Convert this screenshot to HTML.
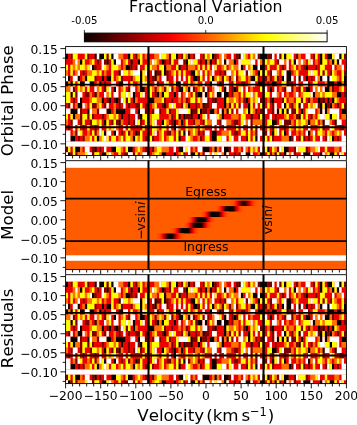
<!DOCTYPE html><html><head><meta charset="utf-8"><title>Doppler tomography</title><style>
html,body{margin:0;padding:0;background:#fff;overflow:hidden;}svg{display:block;}
text{font-family:'DejaVu Sans', 'Liberation Sans', sans-serif;fill:#000;font-kerning:none;}
</style></head><body>
<svg width="357" height="425" viewBox="0 0 357 425">
<rect width="357" height="425" fill="#fff"/>
<defs>
<linearGradient id="hotg" x1="0" x2="1" y1="0" y2="0">
<stop offset="0.000" stop-color="#0b0000"/>
<stop offset="0.025" stop-color="#1a0000"/>
<stop offset="0.050" stop-color="#2a0000"/>
<stop offset="0.075" stop-color="#3c0000"/>
<stop offset="0.100" stop-color="#4c0000"/>
<stop offset="0.125" stop-color="#5f0000"/>
<stop offset="0.150" stop-color="#6e0000"/>
<stop offset="0.175" stop-color="#7e0000"/>
<stop offset="0.200" stop-color="#900000"/>
<stop offset="0.225" stop-color="#a00000"/>
<stop offset="0.250" stop-color="#b30000"/>
<stop offset="0.275" stop-color="#c20000"/>
<stop offset="0.300" stop-color="#d20000"/>
<stop offset="0.325" stop-color="#e40000"/>
<stop offset="0.350" stop-color="#f40000"/>
<stop offset="0.375" stop-color="#ff0800"/>
<stop offset="0.400" stop-color="#ff1700"/>
<stop offset="0.425" stop-color="#ff2700"/>
<stop offset="0.450" stop-color="#ff3a00"/>
<stop offset="0.475" stop-color="#ff4900"/>
<stop offset="0.500" stop-color="#ff5c00"/>
<stop offset="0.525" stop-color="#ff6b00"/>
<stop offset="0.550" stop-color="#ff7b00"/>
<stop offset="0.575" stop-color="#ff8e00"/>
<stop offset="0.600" stop-color="#ff9d00"/>
<stop offset="0.625" stop-color="#ffb000"/>
<stop offset="0.650" stop-color="#ffbf00"/>
<stop offset="0.675" stop-color="#ffcf00"/>
<stop offset="0.700" stop-color="#ffe100"/>
<stop offset="0.725" stop-color="#fff100"/>
<stop offset="0.750" stop-color="#ffff07"/>
<stop offset="0.775" stop-color="#ffff1f"/>
<stop offset="0.800" stop-color="#ffff36"/>
<stop offset="0.825" stop-color="#ffff52"/>
<stop offset="0.850" stop-color="#ffff69"/>
<stop offset="0.875" stop-color="#ffff85"/>
<stop offset="0.900" stop-color="#ffff9d"/>
<stop offset="0.925" stop-color="#ffffb4"/>
<stop offset="0.950" stop-color="#ffffd0"/>
<stop offset="0.975" stop-color="#ffffe7"/>
<stop offset="1.000" stop-color="#ffffff"/>
</linearGradient>
<clipPath id="clip0"><rect x="65.60" y="46.60" width="280.80" height="108.90"/></clipPath>
<clipPath id="clip1"><rect x="65.60" y="160.70" width="280.80" height="108.90"/></clipPath>
<clipPath id="clip2"><rect x="65.60" y="274.70" width="280.80" height="108.90"/></clipPath>
</defs>
<text x="205.8" y="11.9" font-size="15.7" text-anchor="middle">Fractional Variation</text>
<rect x="84.40" y="33.10" width="242.70" height="8.70" fill="url(#hotg)" stroke="#000" stroke-width="1.0"/>
<line x1="84.40" x2="84.40" y1="29.9" y2="33.10" stroke="#000" stroke-width="0.8"/>
<text x="84.40" y="24.1" font-size="10.2" text-anchor="middle">-0.05</text>
<line x1="205.75" x2="205.75" y1="29.9" y2="33.10" stroke="#000" stroke-width="0.8"/>
<text x="205.75" y="24.1" font-size="10.2" text-anchor="middle">0.0</text>
<line x1="327.10" x2="327.10" y1="29.9" y2="33.10" stroke="#000" stroke-width="0.8"/>
<text x="327.10" y="24.1" font-size="10.2" text-anchor="middle">0.05</text>
<g clip-path="url(#clip0)"><g>
<rect x="65.60" y="53.80" width="280.80" height="87.52" fill="#ff3a00"/>
<rect x="65.60" y="146.79" width="280.80" height="10.94" fill="#ff3a00"/>
<path fill="#0b0000" d="M65.60 53.80h2.40v5.47h-2.40zM94.40 53.80h2.40v5.47h-2.40zM99.20 53.80h2.40v5.47h-2.40zM101.60 53.80h2.40v5.47h-2.40zM111.20 53.80h2.40v5.47h-2.40zM128.00 53.80h2.40v5.47h-2.40zM147.20 53.80h2.40v5.47h-2.40zM176.00 53.80h2.40v5.47h-2.40zM188.00 53.80h2.40v5.47h-2.40zM212.00 53.80h2.40v5.47h-2.40zM238.40 53.80h2.40v5.47h-2.40zM260.00 53.80h2.40v5.47h-2.40zM262.40 53.80h2.40v5.47h-2.40zM264.80 53.80h2.40v5.47h-2.40zM284.00 53.80h2.40v5.47h-2.40zM320.00 53.80h2.40v5.47h-2.40zM327.20 53.80h2.40v5.47h-2.40zM329.60 53.80h2.40v5.47h-2.40zM339.20 53.80h2.40v5.47h-2.40zM80.00 59.27h2.40v5.47h-2.40zM106.40 59.27h2.40v5.47h-2.40zM113.60 59.27h2.40v5.47h-2.40zM130.40 59.27h2.40v5.47h-2.40zM137.60 59.27h2.40v5.47h-2.40zM147.20 59.27h2.40v5.47h-2.40zM161.60 59.27h2.40v5.47h-2.40zM185.60 59.27h2.40v5.47h-2.40zM204.80 59.27h2.40v5.47h-2.40zM209.60 59.27h2.40v5.47h-2.40zM224.00 59.27h2.40v5.47h-2.40zM233.60 59.27h2.40v5.47h-2.40zM262.40 59.27h2.40v5.47h-2.40zM293.60 59.27h2.40v5.47h-2.40zM320.00 59.27h2.40v5.47h-2.40zM332.00 59.27h2.40v5.47h-2.40zM336.80 59.27h2.40v5.47h-2.40zM92.00 64.74h2.40v5.47h-2.40zM125.60 64.74h2.40v5.47h-2.40zM128.00 64.74h2.40v5.47h-2.40zM147.20 64.74h2.40v5.47h-2.40zM164.00 64.74h2.40v5.47h-2.40zM178.40 64.74h2.40v5.47h-2.40zM240.80 64.74h2.40v5.47h-2.40zM252.80 64.74h2.40v5.47h-2.40zM255.20 64.74h2.40v5.47h-2.40zM260.00 64.74h2.40v5.47h-2.40zM262.40 64.74h2.40v5.47h-2.40zM305.60 64.74h2.40v5.47h-2.40zM118.40 70.21h2.40v5.47h-2.40zM140.00 70.21h2.40v5.47h-2.40zM147.20 70.21h2.40v5.47h-2.40zM154.40 70.21h2.40v5.47h-2.40zM164.00 70.21h2.40v5.47h-2.40zM190.40 70.21h2.40v5.47h-2.40zM192.80 70.21h2.40v5.47h-2.40zM257.60 70.21h2.40v5.47h-2.40zM262.40 70.21h2.40v5.47h-2.40zM286.40 70.21h2.40v5.47h-2.40zM288.80 70.21h2.40v5.47h-2.40zM68.00 75.68h2.40v5.47h-2.40zM77.60 75.68h2.40v5.47h-2.40zM84.80 75.68h2.40v5.47h-2.40zM101.60 75.68h2.40v5.47h-2.40zM106.40 75.68h2.40v5.47h-2.40zM108.80 75.68h2.40v5.47h-2.40zM140.00 75.68h2.40v5.47h-2.40zM147.20 75.68h2.40v5.47h-2.40zM154.40 75.68h2.40v5.47h-2.40zM192.80 75.68h2.40v5.47h-2.40zM195.20 75.68h2.40v5.47h-2.40zM212.00 75.68h2.40v5.47h-2.40zM250.40 75.68h2.40v5.47h-2.40zM252.80 75.68h2.40v5.47h-2.40zM262.40 75.68h2.40v5.47h-2.40zM281.60 75.68h2.40v5.47h-2.40zM286.40 75.68h2.40v5.47h-2.40zM288.80 75.68h2.40v5.47h-2.40zM298.40 75.68h2.40v5.47h-2.40zM305.60 75.68h2.40v5.47h-2.40zM320.00 75.68h2.40v5.47h-2.40zM327.20 75.68h2.40v5.47h-2.40zM344.00 75.68h2.40v5.47h-2.40zM65.60 81.15h2.40v5.47h-2.40zM70.40 81.15h2.40v5.47h-2.40zM80.00 81.15h2.40v5.47h-2.40zM82.40 81.15h2.40v5.47h-2.40zM89.60 81.15h2.40v5.47h-2.40zM92.00 81.15h2.40v5.47h-2.40zM99.20 81.15h2.40v5.47h-2.40zM118.40 81.15h2.40v5.47h-2.40zM120.80 81.15h2.40v5.47h-2.40zM140.00 81.15h2.40v5.47h-2.40zM147.20 81.15h2.40v5.47h-2.40zM176.00 81.15h2.40v5.47h-2.40zM178.40 81.15h2.40v5.47h-2.40zM209.60 81.15h2.40v5.47h-2.40zM219.20 81.15h2.40v5.47h-2.40zM257.60 81.15h2.40v5.47h-2.40zM260.00 81.15h2.40v5.47h-2.40zM262.40 81.15h2.40v5.47h-2.40zM272.00 81.15h2.40v5.47h-2.40zM274.40 81.15h2.40v5.47h-2.40zM286.40 81.15h2.40v5.47h-2.40zM327.20 81.15h2.40v5.47h-2.40zM329.60 81.15h2.40v5.47h-2.40zM332.00 81.15h2.40v5.47h-2.40zM336.80 81.15h2.40v5.47h-2.40zM339.20 81.15h2.40v5.47h-2.40zM344.00 81.15h2.40v5.47h-2.40zM113.60 86.62h2.40v5.47h-2.40zM140.00 86.62h2.40v5.47h-2.40zM142.40 86.62h2.40v5.47h-2.40zM147.20 86.62h2.40v5.47h-2.40zM178.40 86.62h2.40v5.47h-2.40zM180.80 86.62h2.40v5.47h-2.40zM188.00 86.62h2.40v5.47h-2.40zM224.00 86.62h2.40v5.47h-2.40zM233.60 86.62h2.40v5.47h-2.40zM262.40 86.62h2.40v5.47h-2.40zM269.60 86.62h2.40v5.47h-2.40zM305.60 86.62h2.40v5.47h-2.40zM308.00 86.62h2.40v5.47h-2.40zM324.80 86.62h2.40v5.47h-2.40zM327.20 86.62h2.40v5.47h-2.40zM70.40 92.09h2.40v5.47h-2.40zM94.40 92.09h2.40v5.47h-2.40zM132.80 92.09h2.40v5.47h-2.40zM147.20 92.09h2.40v5.47h-2.40zM156.80 92.09h2.40v5.47h-2.40zM161.60 92.09h2.40v5.47h-2.40zM173.60 92.09h2.40v5.47h-2.40zM197.60 92.09h2.40v5.47h-2.40zM200.00 92.09h2.40v5.47h-2.40zM204.80 92.09h2.40v5.47h-2.40zM216.80 92.09h2.40v5.47h-2.40zM219.20 92.09h2.40v5.47h-2.40zM224.00 92.09h2.40v5.47h-2.40zM226.40 92.09h2.40v5.47h-2.40zM262.40 92.09h2.40v5.47h-2.40zM312.80 92.09h2.40v5.47h-2.40zM336.80 92.09h2.40v5.47h-2.40zM339.20 92.09h2.40v5.47h-2.40zM80.00 97.56h2.40v5.47h-2.40zM101.60 97.56h2.40v5.47h-2.40zM108.80 97.56h2.40v5.47h-2.40zM116.00 97.56h2.40v5.47h-2.40zM132.80 97.56h2.40v5.47h-2.40zM147.20 97.56h2.40v5.47h-2.40zM149.60 97.56h2.40v5.47h-2.40zM152.00 97.56h2.40v5.47h-2.40zM214.40 97.56h2.40v5.47h-2.40zM224.00 97.56h2.40v5.47h-2.40zM245.60 97.56h2.40v5.47h-2.40zM262.40 97.56h2.40v5.47h-2.40zM272.00 97.56h2.40v5.47h-2.40zM317.60 97.56h2.40v5.47h-2.40zM322.40 97.56h2.40v5.47h-2.40zM327.20 97.56h2.40v5.47h-2.40zM332.00 97.56h2.40v5.47h-2.40zM77.60 103.03h2.40v5.47h-2.40zM80.00 103.03h2.40v5.47h-2.40zM147.20 103.03h2.40v5.47h-2.40zM164.00 103.03h2.40v5.47h-2.40zM188.00 103.03h2.40v5.47h-2.40zM202.40 103.03h2.40v5.47h-2.40zM224.00 103.03h2.40v5.47h-2.40zM248.00 103.03h2.40v5.47h-2.40zM262.40 103.03h2.40v5.47h-2.40zM284.00 103.03h2.40v5.47h-2.40zM298.40 103.03h2.40v5.47h-2.40zM320.00 103.03h2.40v5.47h-2.40zM324.80 103.03h2.40v5.47h-2.40zM329.60 103.03h2.40v5.47h-2.40zM70.40 108.50h2.40v5.47h-2.40zM72.80 108.50h2.40v5.47h-2.40zM75.20 108.50h2.40v5.47h-2.40zM87.20 108.50h2.40v5.47h-2.40zM106.40 108.50h2.40v5.47h-2.40zM108.80 108.50h2.40v5.47h-2.40zM116.00 108.50h2.40v5.47h-2.40zM118.40 108.50h2.40v5.47h-2.40zM120.80 108.50h2.40v5.47h-2.40zM123.20 108.50h2.40v5.47h-2.40zM137.60 108.50h2.40v5.47h-2.40zM147.20 108.50h2.40v5.47h-2.40zM190.40 108.50h2.40v5.47h-2.40zM200.00 108.50h2.40v5.47h-2.40zM209.60 108.50h2.40v5.47h-2.40zM212.00 108.50h2.40v5.47h-2.40zM221.60 108.50h2.40v5.47h-2.40zM226.40 108.50h2.40v5.47h-2.40zM248.00 108.50h2.40v5.47h-2.40zM262.40 108.50h2.40v5.47h-2.40zM276.80 108.50h2.40v5.47h-2.40zM281.60 108.50h2.40v5.47h-2.40zM286.40 108.50h2.40v5.47h-2.40zM300.80 108.50h2.40v5.47h-2.40zM320.00 108.50h2.40v5.47h-2.40zM324.80 108.50h2.40v5.47h-2.40zM341.60 108.50h2.40v5.47h-2.40zM344.00 108.50h2.40v5.47h-2.40zM72.80 113.97h2.40v5.47h-2.40zM120.80 113.97h2.40v5.47h-2.40zM140.00 113.97h2.40v5.47h-2.40zM147.20 113.97h2.40v5.47h-2.40zM178.40 113.97h2.40v5.47h-2.40zM183.20 113.97h2.40v5.47h-2.40zM190.40 113.97h2.40v5.47h-2.40zM197.60 113.97h2.40v5.47h-2.40zM221.60 113.97h2.40v5.47h-2.40zM250.40 113.97h2.40v5.47h-2.40zM262.40 113.97h2.40v5.47h-2.40zM298.40 113.97h2.40v5.47h-2.40zM329.60 113.97h2.40v5.47h-2.40zM104.00 119.44h2.40v5.47h-2.40zM118.40 119.44h2.40v5.47h-2.40zM147.20 119.44h2.40v5.47h-2.40zM161.60 119.44h2.40v5.47h-2.40zM173.60 119.44h2.40v5.47h-2.40zM180.80 119.44h2.40v5.47h-2.40zM262.40 119.44h2.40v5.47h-2.40zM272.00 119.44h2.40v5.47h-2.40zM274.40 119.44h2.40v5.47h-2.40zM308.00 119.44h2.40v5.47h-2.40zM322.40 119.44h2.40v5.47h-2.40zM334.40 119.44h2.40v5.47h-2.40zM147.20 124.91h2.40v5.47h-2.40zM173.60 124.91h2.40v5.47h-2.40zM262.40 124.91h2.40v5.47h-2.40zM104.00 130.38h2.40v5.47h-2.40zM113.60 130.38h2.40v5.47h-2.40zM135.20 130.38h2.40v5.47h-2.40zM147.20 130.38h2.40v5.47h-2.40zM183.20 130.38h2.40v5.47h-2.40zM212.00 130.38h2.40v5.47h-2.40zM214.40 130.38h2.40v5.47h-2.40zM262.40 130.38h2.40v5.47h-2.40zM272.00 130.38h2.40v5.47h-2.40zM284.00 130.38h2.40v5.47h-2.40zM308.00 130.38h2.40v5.47h-2.40zM70.40 135.85h2.40v5.47h-2.40zM72.80 135.85h2.40v5.47h-2.40zM96.80 135.85h2.40v5.47h-2.40zM132.80 135.85h2.40v5.47h-2.40zM147.20 135.85h2.40v5.47h-2.40zM178.40 135.85h2.40v5.47h-2.40zM212.00 135.85h2.40v5.47h-2.40zM214.40 135.85h2.40v5.47h-2.40zM255.20 135.85h2.40v5.47h-2.40zM262.40 135.85h2.40v5.47h-2.40zM288.80 135.85h2.40v5.47h-2.40zM332.00 135.85h2.40v5.47h-2.40zM75.20 146.79h2.40v5.47h-2.40zM77.60 146.79h2.40v5.47h-2.40zM94.40 146.79h2.40v5.47h-2.40zM111.20 146.79h2.40v5.47h-2.40zM113.60 146.79h2.40v5.47h-2.40zM128.00 146.79h2.40v5.47h-2.40zM130.40 146.79h2.40v5.47h-2.40zM147.20 146.79h2.40v5.47h-2.40zM178.40 146.79h2.40v5.47h-2.40zM180.80 146.79h2.40v5.47h-2.40zM202.40 146.79h2.40v5.47h-2.40zM204.80 146.79h2.40v5.47h-2.40zM207.20 146.79h2.40v5.47h-2.40zM214.40 146.79h2.40v5.47h-2.40zM224.00 146.79h2.40v5.47h-2.40zM226.40 146.79h2.40v5.47h-2.40zM262.40 146.79h2.40v5.47h-2.40zM267.20 146.79h2.40v5.47h-2.40zM284.00 146.79h2.40v5.47h-2.40zM286.40 146.79h2.40v5.47h-2.40zM68.00 152.26h2.40v5.47h-2.40zM101.60 152.26h2.40v5.47h-2.40zM104.00 152.26h2.40v5.47h-2.40zM147.20 152.26h2.40v5.47h-2.40zM161.60 152.26h2.40v5.47h-2.40zM164.00 152.26h2.40v5.47h-2.40zM173.60 152.26h2.40v5.47h-2.40zM190.40 152.26h2.40v5.47h-2.40zM192.80 152.26h2.40v5.47h-2.40zM224.00 152.26h2.40v5.47h-2.40zM245.60 152.26h2.40v5.47h-2.40zM248.00 152.26h2.40v5.47h-2.40zM260.00 152.26h2.40v5.47h-2.40zM262.40 152.26h2.40v5.47h-2.40zM274.40 152.26h2.40v5.47h-2.40zM284.00 152.26h2.40v5.47h-2.40zM303.20 152.26h2.40v5.47h-2.40zM305.60 152.26h2.40v5.47h-2.40zM308.00 152.26h2.40v5.47h-2.40zM320.00 152.26h2.40v5.47h-2.40zM329.60 152.26h2.40v5.47h-2.40zM332.00 152.26h2.40v5.47h-2.40z"/>
<path fill="#7b0000" d="M70.40 53.80h2.40v5.47h-2.40zM87.20 53.80h2.40v5.47h-2.40zM106.40 53.80h2.40v5.47h-2.40zM135.20 53.80h2.40v5.47h-2.40zM168.80 53.80h2.40v5.47h-2.40zM180.80 53.80h2.40v5.47h-2.40zM192.80 53.80h2.40v5.47h-2.40zM202.40 53.80h2.40v5.47h-2.40zM214.40 53.80h2.40v5.47h-2.40zM236.00 53.80h2.40v5.47h-2.40zM257.60 53.80h2.40v5.47h-2.40zM267.20 53.80h2.40v5.47h-2.40zM269.60 53.80h2.40v5.47h-2.40zM279.20 53.80h2.40v5.47h-2.40zM296.00 53.80h2.40v5.47h-2.40zM312.80 53.80h2.40v5.47h-2.40zM344.00 53.80h2.40v5.47h-2.40zM96.80 59.27h2.40v5.47h-2.40zM104.00 59.27h2.40v5.47h-2.40zM164.00 59.27h2.40v5.47h-2.40zM168.80 59.27h2.40v5.47h-2.40zM183.20 59.27h2.40v5.47h-2.40zM200.00 59.27h2.40v5.47h-2.40zM214.40 59.27h2.40v5.47h-2.40zM276.80 59.27h2.40v5.47h-2.40zM94.40 64.74h2.40v5.47h-2.40zM130.40 64.74h2.40v5.47h-2.40zM135.20 64.74h2.40v5.47h-2.40zM185.60 64.74h2.40v5.47h-2.40zM281.60 64.74h2.40v5.47h-2.40zM303.20 64.74h2.40v5.47h-2.40zM315.20 64.74h2.40v5.47h-2.40zM82.40 70.21h2.40v5.47h-2.40zM156.80 70.21h2.40v5.47h-2.40zM159.20 70.21h2.40v5.47h-2.40zM166.40 70.21h2.40v5.47h-2.40zM219.20 70.21h2.40v5.47h-2.40zM224.00 70.21h2.40v5.47h-2.40zM245.60 70.21h2.40v5.47h-2.40zM269.60 70.21h2.40v5.47h-2.40zM322.40 70.21h2.40v5.47h-2.40zM329.60 70.21h2.40v5.47h-2.40zM344.00 70.21h2.40v5.47h-2.40zM94.40 75.68h2.40v5.47h-2.40zM120.80 75.68h2.40v5.47h-2.40zM130.40 75.68h2.40v5.47h-2.40zM152.00 75.68h2.40v5.47h-2.40zM166.40 75.68h2.40v5.47h-2.40zM197.60 75.68h2.40v5.47h-2.40zM221.60 75.68h2.40v5.47h-2.40zM228.80 75.68h2.40v5.47h-2.40zM236.00 75.68h2.40v5.47h-2.40zM257.60 75.68h2.40v5.47h-2.40zM264.80 75.68h2.40v5.47h-2.40zM269.60 75.68h2.40v5.47h-2.40zM276.80 75.68h2.40v5.47h-2.40zM310.40 75.68h2.40v5.47h-2.40zM104.00 81.15h2.40v5.47h-2.40zM156.80 81.15h2.40v5.47h-2.40zM221.60 81.15h2.40v5.47h-2.40zM231.20 81.15h2.40v5.47h-2.40zM240.80 81.15h2.40v5.47h-2.40zM243.20 81.15h2.40v5.47h-2.40zM267.20 81.15h2.40v5.47h-2.40zM288.80 81.15h2.40v5.47h-2.40zM291.20 81.15h2.40v5.47h-2.40zM308.00 81.15h2.40v5.47h-2.40zM72.80 86.62h2.40v5.47h-2.40zM104.00 86.62h2.40v5.47h-2.40zM128.00 86.62h2.40v5.47h-2.40zM154.40 86.62h2.40v5.47h-2.40zM164.00 86.62h2.40v5.47h-2.40zM171.20 86.62h2.40v5.47h-2.40zM192.80 86.62h2.40v5.47h-2.40zM202.40 86.62h2.40v5.47h-2.40zM207.20 86.62h2.40v5.47h-2.40zM231.20 86.62h2.40v5.47h-2.40zM236.00 86.62h2.40v5.47h-2.40zM284.00 86.62h2.40v5.47h-2.40zM291.20 86.62h2.40v5.47h-2.40zM298.40 86.62h2.40v5.47h-2.40zM332.00 86.62h2.40v5.47h-2.40zM75.20 92.09h2.40v5.47h-2.40zM84.80 92.09h2.40v5.47h-2.40zM87.20 92.09h2.40v5.47h-2.40zM154.40 92.09h2.40v5.47h-2.40zM195.20 92.09h2.40v5.47h-2.40zM231.20 92.09h2.40v5.47h-2.40zM344.00 92.09h2.40v5.47h-2.40zM72.80 97.56h2.40v5.47h-2.40zM106.40 97.56h2.40v5.47h-2.40zM113.60 97.56h2.40v5.47h-2.40zM118.40 97.56h2.40v5.47h-2.40zM125.60 97.56h2.40v5.47h-2.40zM164.00 97.56h2.40v5.47h-2.40zM171.20 97.56h2.40v5.47h-2.40zM185.60 97.56h2.40v5.47h-2.40zM207.20 97.56h2.40v5.47h-2.40zM212.00 97.56h2.40v5.47h-2.40zM243.20 97.56h2.40v5.47h-2.40zM260.00 97.56h2.40v5.47h-2.40zM269.60 97.56h2.40v5.47h-2.40zM281.60 97.56h2.40v5.47h-2.40zM300.80 97.56h2.40v5.47h-2.40zM308.00 97.56h2.40v5.47h-2.40zM320.00 97.56h2.40v5.47h-2.40zM68.00 103.03h2.40v5.47h-2.40zM92.00 103.03h2.40v5.47h-2.40zM94.40 103.03h2.40v5.47h-2.40zM104.00 103.03h2.40v5.47h-2.40zM118.40 103.03h2.40v5.47h-2.40zM128.00 103.03h2.40v5.47h-2.40zM135.20 103.03h2.40v5.47h-2.40zM137.60 103.03h2.40v5.47h-2.40zM144.80 103.03h2.40v5.47h-2.40zM161.60 103.03h2.40v5.47h-2.40zM180.80 103.03h2.40v5.47h-2.40zM195.20 103.03h2.40v5.47h-2.40zM204.80 103.03h2.40v5.47h-2.40zM207.20 103.03h2.40v5.47h-2.40zM228.80 103.03h2.40v5.47h-2.40zM238.40 103.03h2.40v5.47h-2.40zM272.00 103.03h2.40v5.47h-2.40zM291.20 103.03h2.40v5.47h-2.40zM317.60 103.03h2.40v5.47h-2.40zM327.20 103.03h2.40v5.47h-2.40zM336.80 103.03h2.40v5.47h-2.40zM344.00 103.03h2.40v5.47h-2.40zM80.00 108.50h2.40v5.47h-2.40zM96.80 108.50h2.40v5.47h-2.40zM144.80 108.50h2.40v5.47h-2.40zM152.00 108.50h2.40v5.47h-2.40zM159.20 108.50h2.40v5.47h-2.40zM168.80 108.50h2.40v5.47h-2.40zM192.80 108.50h2.40v5.47h-2.40zM195.20 108.50h2.40v5.47h-2.40zM202.40 108.50h2.40v5.47h-2.40zM204.80 108.50h2.40v5.47h-2.40zM231.20 108.50h2.40v5.47h-2.40zM255.20 108.50h2.40v5.47h-2.40zM260.00 108.50h2.40v5.47h-2.40zM272.00 108.50h2.40v5.47h-2.40zM291.20 108.50h2.40v5.47h-2.40zM293.60 108.50h2.40v5.47h-2.40zM80.00 113.97h2.40v5.47h-2.40zM87.20 113.97h2.40v5.47h-2.40zM92.00 113.97h2.40v5.47h-2.40zM101.60 113.97h2.40v5.47h-2.40zM128.00 113.97h2.40v5.47h-2.40zM137.60 113.97h2.40v5.47h-2.40zM171.20 113.97h2.40v5.47h-2.40zM185.60 113.97h2.40v5.47h-2.40zM188.00 113.97h2.40v5.47h-2.40zM257.60 113.97h2.40v5.47h-2.40zM274.40 113.97h2.40v5.47h-2.40zM296.00 113.97h2.40v5.47h-2.40zM310.40 113.97h2.40v5.47h-2.40zM70.40 119.44h2.40v5.47h-2.40zM80.00 119.44h2.40v5.47h-2.40zM89.60 119.44h2.40v5.47h-2.40zM111.20 119.44h2.40v5.47h-2.40zM116.00 119.44h2.40v5.47h-2.40zM128.00 119.44h2.40v5.47h-2.40zM132.80 119.44h2.40v5.47h-2.40zM140.00 119.44h2.40v5.47h-2.40zM171.20 119.44h2.40v5.47h-2.40zM192.80 119.44h2.40v5.47h-2.40zM202.40 119.44h2.40v5.47h-2.40zM219.20 119.44h2.40v5.47h-2.40zM233.60 119.44h2.40v5.47h-2.40zM236.00 119.44h2.40v5.47h-2.40zM250.40 119.44h2.40v5.47h-2.40zM284.00 119.44h2.40v5.47h-2.40zM286.40 119.44h2.40v5.47h-2.40zM288.80 119.44h2.40v5.47h-2.40zM68.00 124.91h2.40v5.47h-2.40zM82.40 124.91h2.40v5.47h-2.40zM94.40 124.91h2.40v5.47h-2.40zM250.40 124.91h2.40v5.47h-2.40zM255.20 124.91h2.40v5.47h-2.40zM272.00 124.91h2.40v5.47h-2.40zM284.00 124.91h2.40v5.47h-2.40zM322.40 124.91h2.40v5.47h-2.40zM339.20 124.91h2.40v5.47h-2.40zM341.60 124.91h2.40v5.47h-2.40zM75.20 130.38h2.40v5.47h-2.40zM94.40 130.38h2.40v5.47h-2.40zM120.80 130.38h2.40v5.47h-2.40zM128.00 130.38h2.40v5.47h-2.40zM137.60 130.38h2.40v5.47h-2.40zM166.40 130.38h2.40v5.47h-2.40zM168.80 130.38h2.40v5.47h-2.40zM178.40 130.38h2.40v5.47h-2.40zM188.00 130.38h2.40v5.47h-2.40zM197.60 130.38h2.40v5.47h-2.40zM202.40 130.38h2.40v5.47h-2.40zM233.60 130.38h2.40v5.47h-2.40zM236.00 130.38h2.40v5.47h-2.40zM255.20 130.38h2.40v5.47h-2.40zM264.80 130.38h2.40v5.47h-2.40zM77.60 135.85h2.40v5.47h-2.40zM82.40 135.85h2.40v5.47h-2.40zM144.80 135.85h2.40v5.47h-2.40zM152.00 135.85h2.40v5.47h-2.40zM200.00 135.85h2.40v5.47h-2.40zM245.60 135.85h2.40v5.47h-2.40zM272.00 135.85h2.40v5.47h-2.40zM291.20 135.85h2.40v5.47h-2.40zM298.40 135.85h2.40v5.47h-2.40zM303.20 135.85h2.40v5.47h-2.40zM308.00 135.85h2.40v5.47h-2.40zM324.80 135.85h2.40v5.47h-2.40zM336.80 135.85h2.40v5.47h-2.40zM65.60 146.79h2.40v5.47h-2.40zM92.00 146.79h2.40v5.47h-2.40zM99.20 146.79h2.40v5.47h-2.40zM144.80 146.79h2.40v5.47h-2.40zM152.00 146.79h2.40v5.47h-2.40zM228.80 146.79h2.40v5.47h-2.40zM276.80 146.79h2.40v5.47h-2.40zM293.60 146.79h2.40v5.47h-2.40zM305.60 146.79h2.40v5.47h-2.40zM70.40 152.26h2.40v5.47h-2.40zM75.20 152.26h2.40v5.47h-2.40zM92.00 152.26h2.40v5.47h-2.40zM123.20 152.26h2.40v5.47h-2.40zM125.60 152.26h2.40v5.47h-2.40zM132.80 152.26h2.40v5.47h-2.40zM183.20 152.26h2.40v5.47h-2.40zM197.60 152.26h2.40v5.47h-2.40zM202.40 152.26h2.40v5.47h-2.40zM233.60 152.26h2.40v5.47h-2.40zM238.40 152.26h2.40v5.47h-2.40zM269.60 152.26h2.40v5.47h-2.40zM279.20 152.26h2.40v5.47h-2.40zM293.60 152.26h2.40v5.47h-2.40z"/>
<path fill="#ef0000" d="M68.00 53.80h2.40v5.47h-2.40zM77.60 53.80h2.40v5.47h-2.40zM80.00 53.80h2.40v5.47h-2.40zM82.40 53.80h2.40v5.47h-2.40zM89.60 53.80h2.40v5.47h-2.40zM92.00 53.80h2.40v5.47h-2.40zM123.20 53.80h2.40v5.47h-2.40zM125.60 53.80h2.40v5.47h-2.40zM132.80 53.80h2.40v5.47h-2.40zM142.40 53.80h2.40v5.47h-2.40zM149.60 53.80h2.40v5.47h-2.40zM152.00 53.80h2.40v5.47h-2.40zM178.40 53.80h2.40v5.47h-2.40zM190.40 53.80h2.40v5.47h-2.40zM200.00 53.80h2.40v5.47h-2.40zM216.80 53.80h2.40v5.47h-2.40zM226.40 53.80h2.40v5.47h-2.40zM228.80 53.80h2.40v5.47h-2.40zM233.60 53.80h2.40v5.47h-2.40zM248.00 53.80h2.40v5.47h-2.40zM274.40 53.80h2.40v5.47h-2.40zM293.60 53.80h2.40v5.47h-2.40zM300.80 53.80h2.40v5.47h-2.40zM303.20 53.80h2.40v5.47h-2.40zM310.40 53.80h2.40v5.47h-2.40zM317.60 53.80h2.40v5.47h-2.40zM324.80 53.80h2.40v5.47h-2.40zM65.60 59.27h2.40v5.47h-2.40zM68.00 59.27h2.40v5.47h-2.40zM70.40 59.27h2.40v5.47h-2.40zM84.80 59.27h2.40v5.47h-2.40zM87.20 59.27h2.40v5.47h-2.40zM94.40 59.27h2.40v5.47h-2.40zM99.20 59.27h2.40v5.47h-2.40zM108.80 59.27h2.40v5.47h-2.40zM120.80 59.27h2.40v5.47h-2.40zM128.00 59.27h2.40v5.47h-2.40zM132.80 59.27h2.40v5.47h-2.40zM135.20 59.27h2.40v5.47h-2.40zM142.40 59.27h2.40v5.47h-2.40zM144.80 59.27h2.40v5.47h-2.40zM159.20 59.27h2.40v5.47h-2.40zM166.40 59.27h2.40v5.47h-2.40zM173.60 59.27h2.40v5.47h-2.40zM176.00 59.27h2.40v5.47h-2.40zM197.60 59.27h2.40v5.47h-2.40zM202.40 59.27h2.40v5.47h-2.40zM212.00 59.27h2.40v5.47h-2.40zM236.00 59.27h2.40v5.47h-2.40zM255.20 59.27h2.40v5.47h-2.40zM274.40 59.27h2.40v5.47h-2.40zM288.80 59.27h2.40v5.47h-2.40zM305.60 59.27h2.40v5.47h-2.40zM312.80 59.27h2.40v5.47h-2.40zM317.60 59.27h2.40v5.47h-2.40zM327.20 59.27h2.40v5.47h-2.40zM341.60 59.27h2.40v5.47h-2.40zM344.00 59.27h2.40v5.47h-2.40zM68.00 64.74h2.40v5.47h-2.40zM96.80 64.74h2.40v5.47h-2.40zM99.20 64.74h2.40v5.47h-2.40zM108.80 64.74h2.40v5.47h-2.40zM120.80 64.74h2.40v5.47h-2.40zM132.80 64.74h2.40v5.47h-2.40zM140.00 64.74h2.40v5.47h-2.40zM142.40 64.74h2.40v5.47h-2.40zM156.80 64.74h2.40v5.47h-2.40zM171.20 64.74h2.40v5.47h-2.40zM173.60 64.74h2.40v5.47h-2.40zM180.80 64.74h2.40v5.47h-2.40zM183.20 64.74h2.40v5.47h-2.40zM195.20 64.74h2.40v5.47h-2.40zM200.00 64.74h2.40v5.47h-2.40zM204.80 64.74h2.40v5.47h-2.40zM209.60 64.74h2.40v5.47h-2.40zM216.80 64.74h2.40v5.47h-2.40zM219.20 64.74h2.40v5.47h-2.40zM226.40 64.74h2.40v5.47h-2.40zM243.20 64.74h2.40v5.47h-2.40zM264.80 64.74h2.40v5.47h-2.40zM269.60 64.74h2.40v5.47h-2.40zM272.00 64.74h2.40v5.47h-2.40zM274.40 64.74h2.40v5.47h-2.40zM279.20 64.74h2.40v5.47h-2.40zM284.00 64.74h2.40v5.47h-2.40zM288.80 64.74h2.40v5.47h-2.40zM296.00 64.74h2.40v5.47h-2.40zM300.80 64.74h2.40v5.47h-2.40zM308.00 64.74h2.40v5.47h-2.40zM310.40 64.74h2.40v5.47h-2.40zM312.80 64.74h2.40v5.47h-2.40zM317.60 64.74h2.40v5.47h-2.40zM324.80 64.74h2.40v5.47h-2.40zM327.20 64.74h2.40v5.47h-2.40zM329.60 64.74h2.40v5.47h-2.40zM334.40 64.74h2.40v5.47h-2.40zM344.00 64.74h2.40v5.47h-2.40zM68.00 70.21h2.40v5.47h-2.40zM72.80 70.21h2.40v5.47h-2.40zM80.00 70.21h2.40v5.47h-2.40zM84.80 70.21h2.40v5.47h-2.40zM101.60 70.21h2.40v5.47h-2.40zM106.40 70.21h2.40v5.47h-2.40zM108.80 70.21h2.40v5.47h-2.40zM113.60 70.21h2.40v5.47h-2.40zM116.00 70.21h2.40v5.47h-2.40zM149.60 70.21h2.40v5.47h-2.40zM168.80 70.21h2.40v5.47h-2.40zM176.00 70.21h2.40v5.47h-2.40zM180.80 70.21h2.40v5.47h-2.40zM185.60 70.21h2.40v5.47h-2.40zM188.00 70.21h2.40v5.47h-2.40zM202.40 70.21h2.40v5.47h-2.40zM207.20 70.21h2.40v5.47h-2.40zM214.40 70.21h2.40v5.47h-2.40zM216.80 70.21h2.40v5.47h-2.40zM221.60 70.21h2.40v5.47h-2.40zM236.00 70.21h2.40v5.47h-2.40zM255.20 70.21h2.40v5.47h-2.40zM267.20 70.21h2.40v5.47h-2.40zM279.20 70.21h2.40v5.47h-2.40zM291.20 70.21h2.40v5.47h-2.40zM298.40 70.21h2.40v5.47h-2.40zM300.80 70.21h2.40v5.47h-2.40zM303.20 70.21h2.40v5.47h-2.40zM305.60 70.21h2.40v5.47h-2.40zM317.60 70.21h2.40v5.47h-2.40zM327.20 70.21h2.40v5.47h-2.40zM336.80 70.21h2.40v5.47h-2.40zM339.20 70.21h2.40v5.47h-2.40zM70.40 75.68h2.40v5.47h-2.40zM80.00 75.68h2.40v5.47h-2.40zM96.80 75.68h2.40v5.47h-2.40zM99.20 75.68h2.40v5.47h-2.40zM104.00 75.68h2.40v5.47h-2.40zM113.60 75.68h2.40v5.47h-2.40zM123.20 75.68h2.40v5.47h-2.40zM125.60 75.68h2.40v5.47h-2.40zM128.00 75.68h2.40v5.47h-2.40zM149.60 75.68h2.40v5.47h-2.40zM159.20 75.68h2.40v5.47h-2.40zM168.80 75.68h2.40v5.47h-2.40zM171.20 75.68h2.40v5.47h-2.40zM176.00 75.68h2.40v5.47h-2.40zM180.80 75.68h2.40v5.47h-2.40zM185.60 75.68h2.40v5.47h-2.40zM190.40 75.68h2.40v5.47h-2.40zM202.40 75.68h2.40v5.47h-2.40zM207.20 75.68h2.40v5.47h-2.40zM245.60 75.68h2.40v5.47h-2.40zM260.00 75.68h2.40v5.47h-2.40zM272.00 75.68h2.40v5.47h-2.40zM279.20 75.68h2.40v5.47h-2.40zM293.60 75.68h2.40v5.47h-2.40zM303.20 75.68h2.40v5.47h-2.40zM308.00 75.68h2.40v5.47h-2.40zM312.80 75.68h2.40v5.47h-2.40zM339.20 75.68h2.40v5.47h-2.40zM75.20 81.15h2.40v5.47h-2.40zM94.40 81.15h2.40v5.47h-2.40zM101.60 81.15h2.40v5.47h-2.40zM106.40 81.15h2.40v5.47h-2.40zM108.80 81.15h2.40v5.47h-2.40zM116.00 81.15h2.40v5.47h-2.40zM128.00 81.15h2.40v5.47h-2.40zM132.80 81.15h2.40v5.47h-2.40zM135.20 81.15h2.40v5.47h-2.40zM149.60 81.15h2.40v5.47h-2.40zM152.00 81.15h2.40v5.47h-2.40zM159.20 81.15h2.40v5.47h-2.40zM161.60 81.15h2.40v5.47h-2.40zM168.80 81.15h2.40v5.47h-2.40zM171.20 81.15h2.40v5.47h-2.40zM183.20 81.15h2.40v5.47h-2.40zM185.60 81.15h2.40v5.47h-2.40zM190.40 81.15h2.40v5.47h-2.40zM197.60 81.15h2.40v5.47h-2.40zM200.00 81.15h2.40v5.47h-2.40zM204.80 81.15h2.40v5.47h-2.40zM207.20 81.15h2.40v5.47h-2.40zM216.80 81.15h2.40v5.47h-2.40zM228.80 81.15h2.40v5.47h-2.40zM236.00 81.15h2.40v5.47h-2.40zM238.40 81.15h2.40v5.47h-2.40zM245.60 81.15h2.40v5.47h-2.40zM255.20 81.15h2.40v5.47h-2.40zM264.80 81.15h2.40v5.47h-2.40zM269.60 81.15h2.40v5.47h-2.40zM276.80 81.15h2.40v5.47h-2.40zM279.20 81.15h2.40v5.47h-2.40zM293.60 81.15h2.40v5.47h-2.40zM298.40 81.15h2.40v5.47h-2.40zM300.80 81.15h2.40v5.47h-2.40zM310.40 81.15h2.40v5.47h-2.40zM317.60 81.15h2.40v5.47h-2.40zM320.00 81.15h2.40v5.47h-2.40zM322.40 81.15h2.40v5.47h-2.40zM334.40 81.15h2.40v5.47h-2.40zM75.20 86.62h2.40v5.47h-2.40zM84.80 86.62h2.40v5.47h-2.40zM89.60 86.62h2.40v5.47h-2.40zM92.00 86.62h2.40v5.47h-2.40zM101.60 86.62h2.40v5.47h-2.40zM111.20 86.62h2.40v5.47h-2.40zM118.40 86.62h2.40v5.47h-2.40zM125.60 86.62h2.40v5.47h-2.40zM135.20 86.62h2.40v5.47h-2.40zM144.80 86.62h2.40v5.47h-2.40zM176.00 86.62h2.40v5.47h-2.40zM195.20 86.62h2.40v5.47h-2.40zM209.60 86.62h2.40v5.47h-2.40zM221.60 86.62h2.40v5.47h-2.40zM228.80 86.62h2.40v5.47h-2.40zM243.20 86.62h2.40v5.47h-2.40zM248.00 86.62h2.40v5.47h-2.40zM252.80 86.62h2.40v5.47h-2.40zM255.20 86.62h2.40v5.47h-2.40zM257.60 86.62h2.40v5.47h-2.40zM267.20 86.62h2.40v5.47h-2.40zM272.00 86.62h2.40v5.47h-2.40zM276.80 86.62h2.40v5.47h-2.40zM281.60 86.62h2.40v5.47h-2.40zM296.00 86.62h2.40v5.47h-2.40zM303.20 86.62h2.40v5.47h-2.40zM310.40 86.62h2.40v5.47h-2.40zM334.40 86.62h2.40v5.47h-2.40zM336.80 86.62h2.40v5.47h-2.40zM344.00 86.62h2.40v5.47h-2.40zM82.40 92.09h2.40v5.47h-2.40zM92.00 92.09h2.40v5.47h-2.40zM99.20 92.09h2.40v5.47h-2.40zM101.60 92.09h2.40v5.47h-2.40zM111.20 92.09h2.40v5.47h-2.40zM118.40 92.09h2.40v5.47h-2.40zM135.20 92.09h2.40v5.47h-2.40zM137.60 92.09h2.40v5.47h-2.40zM144.80 92.09h2.40v5.47h-2.40zM152.00 92.09h2.40v5.47h-2.40zM168.80 92.09h2.40v5.47h-2.40zM171.20 92.09h2.40v5.47h-2.40zM176.00 92.09h2.40v5.47h-2.40zM180.80 92.09h2.40v5.47h-2.40zM190.40 92.09h2.40v5.47h-2.40zM207.20 92.09h2.40v5.47h-2.40zM228.80 92.09h2.40v5.47h-2.40zM238.40 92.09h2.40v5.47h-2.40zM243.20 92.09h2.40v5.47h-2.40zM257.60 92.09h2.40v5.47h-2.40zM260.00 92.09h2.40v5.47h-2.40zM269.60 92.09h2.40v5.47h-2.40zM279.20 92.09h2.40v5.47h-2.40zM284.00 92.09h2.40v5.47h-2.40zM288.80 92.09h2.40v5.47h-2.40zM291.20 92.09h2.40v5.47h-2.40zM298.40 92.09h2.40v5.47h-2.40zM341.60 92.09h2.40v5.47h-2.40zM70.40 97.56h2.40v5.47h-2.40zM75.20 97.56h2.40v5.47h-2.40zM82.40 97.56h2.40v5.47h-2.40zM84.80 97.56h2.40v5.47h-2.40zM87.20 97.56h2.40v5.47h-2.40zM104.00 97.56h2.40v5.47h-2.40zM111.20 97.56h2.40v5.47h-2.40zM130.40 97.56h2.40v5.47h-2.40zM137.60 97.56h2.40v5.47h-2.40zM140.00 97.56h2.40v5.47h-2.40zM142.40 97.56h2.40v5.47h-2.40zM144.80 97.56h2.40v5.47h-2.40zM166.40 97.56h2.40v5.47h-2.40zM168.80 97.56h2.40v5.47h-2.40zM173.60 97.56h2.40v5.47h-2.40zM176.00 97.56h2.40v5.47h-2.40zM180.80 97.56h2.40v5.47h-2.40zM188.00 97.56h2.40v5.47h-2.40zM195.20 97.56h2.40v5.47h-2.40zM209.60 97.56h2.40v5.47h-2.40zM216.80 97.56h2.40v5.47h-2.40zM219.20 97.56h2.40v5.47h-2.40zM221.60 97.56h2.40v5.47h-2.40zM238.40 97.56h2.40v5.47h-2.40zM248.00 97.56h2.40v5.47h-2.40zM264.80 97.56h2.40v5.47h-2.40zM274.40 97.56h2.40v5.47h-2.40zM276.80 97.56h2.40v5.47h-2.40zM279.20 97.56h2.40v5.47h-2.40zM286.40 97.56h2.40v5.47h-2.40zM293.60 97.56h2.40v5.47h-2.40zM305.60 97.56h2.40v5.47h-2.40zM312.80 97.56h2.40v5.47h-2.40zM315.20 97.56h2.40v5.47h-2.40zM324.80 97.56h2.40v5.47h-2.40zM329.60 97.56h2.40v5.47h-2.40zM339.20 97.56h2.40v5.47h-2.40zM341.60 97.56h2.40v5.47h-2.40zM344.00 97.56h2.40v5.47h-2.40zM65.60 103.03h2.40v5.47h-2.40zM72.80 103.03h2.40v5.47h-2.40zM87.20 103.03h2.40v5.47h-2.40zM101.60 103.03h2.40v5.47h-2.40zM108.80 103.03h2.40v5.47h-2.40zM111.20 103.03h2.40v5.47h-2.40zM116.00 103.03h2.40v5.47h-2.40zM120.80 103.03h2.40v5.47h-2.40zM125.60 103.03h2.40v5.47h-2.40zM130.40 103.03h2.40v5.47h-2.40zM132.80 103.03h2.40v5.47h-2.40zM142.40 103.03h2.40v5.47h-2.40zM149.60 103.03h2.40v5.47h-2.40zM156.80 103.03h2.40v5.47h-2.40zM159.20 103.03h2.40v5.47h-2.40zM166.40 103.03h2.40v5.47h-2.40zM176.00 103.03h2.40v5.47h-2.40zM178.40 103.03h2.40v5.47h-2.40zM190.40 103.03h2.40v5.47h-2.40zM192.80 103.03h2.40v5.47h-2.40zM197.60 103.03h2.40v5.47h-2.40zM209.60 103.03h2.40v5.47h-2.40zM216.80 103.03h2.40v5.47h-2.40zM219.20 103.03h2.40v5.47h-2.40zM221.60 103.03h2.40v5.47h-2.40zM233.60 103.03h2.40v5.47h-2.40zM243.20 103.03h2.40v5.47h-2.40zM245.60 103.03h2.40v5.47h-2.40zM252.80 103.03h2.40v5.47h-2.40zM257.60 103.03h2.40v5.47h-2.40zM264.80 103.03h2.40v5.47h-2.40zM269.60 103.03h2.40v5.47h-2.40zM276.80 103.03h2.40v5.47h-2.40zM279.20 103.03h2.40v5.47h-2.40zM288.80 103.03h2.40v5.47h-2.40zM303.20 103.03h2.40v5.47h-2.40zM305.60 103.03h2.40v5.47h-2.40zM334.40 103.03h2.40v5.47h-2.40zM339.20 103.03h2.40v5.47h-2.40zM82.40 108.50h2.40v5.47h-2.40zM84.80 108.50h2.40v5.47h-2.40zM111.20 108.50h2.40v5.47h-2.40zM125.60 108.50h2.40v5.47h-2.40zM128.00 108.50h2.40v5.47h-2.40zM135.20 108.50h2.40v5.47h-2.40zM149.60 108.50h2.40v5.47h-2.40zM161.60 108.50h2.40v5.47h-2.40zM164.00 108.50h2.40v5.47h-2.40zM171.20 108.50h2.40v5.47h-2.40zM173.60 108.50h2.40v5.47h-2.40zM207.20 108.50h2.40v5.47h-2.40zM216.80 108.50h2.40v5.47h-2.40zM236.00 108.50h2.40v5.47h-2.40zM257.60 108.50h2.40v5.47h-2.40zM267.20 108.50h2.40v5.47h-2.40zM269.60 108.50h2.40v5.47h-2.40zM298.40 108.50h2.40v5.47h-2.40zM303.20 108.50h2.40v5.47h-2.40zM315.20 108.50h2.40v5.47h-2.40zM339.20 108.50h2.40v5.47h-2.40zM68.00 113.97h2.40v5.47h-2.40zM94.40 113.97h2.40v5.47h-2.40zM96.80 113.97h2.40v5.47h-2.40zM99.20 113.97h2.40v5.47h-2.40zM104.00 113.97h2.40v5.47h-2.40zM118.40 113.97h2.40v5.47h-2.40zM123.20 113.97h2.40v5.47h-2.40zM125.60 113.97h2.40v5.47h-2.40zM130.40 113.97h2.40v5.47h-2.40zM132.80 113.97h2.40v5.47h-2.40zM159.20 113.97h2.40v5.47h-2.40zM161.60 113.97h2.40v5.47h-2.40zM164.00 113.97h2.40v5.47h-2.40zM166.40 113.97h2.40v5.47h-2.40zM173.60 113.97h2.40v5.47h-2.40zM180.80 113.97h2.40v5.47h-2.40zM192.80 113.97h2.40v5.47h-2.40zM195.20 113.97h2.40v5.47h-2.40zM200.00 113.97h2.40v5.47h-2.40zM207.20 113.97h2.40v5.47h-2.40zM224.00 113.97h2.40v5.47h-2.40zM226.40 113.97h2.40v5.47h-2.40zM228.80 113.97h2.40v5.47h-2.40zM238.40 113.97h2.40v5.47h-2.40zM245.60 113.97h2.40v5.47h-2.40zM248.00 113.97h2.40v5.47h-2.40zM252.80 113.97h2.40v5.47h-2.40zM255.20 113.97h2.40v5.47h-2.40zM264.80 113.97h2.40v5.47h-2.40zM267.20 113.97h2.40v5.47h-2.40zM272.00 113.97h2.40v5.47h-2.40zM276.80 113.97h2.40v5.47h-2.40zM279.20 113.97h2.40v5.47h-2.40zM281.60 113.97h2.40v5.47h-2.40zM288.80 113.97h2.40v5.47h-2.40zM291.20 113.97h2.40v5.47h-2.40zM303.20 113.97h2.40v5.47h-2.40zM308.00 113.97h2.40v5.47h-2.40zM315.20 113.97h2.40v5.47h-2.40zM339.20 113.97h2.40v5.47h-2.40zM68.00 119.44h2.40v5.47h-2.40zM77.60 119.44h2.40v5.47h-2.40zM84.80 119.44h2.40v5.47h-2.40zM87.20 119.44h2.40v5.47h-2.40zM101.60 119.44h2.40v5.47h-2.40zM108.80 119.44h2.40v5.47h-2.40zM123.20 119.44h2.40v5.47h-2.40zM125.60 119.44h2.40v5.47h-2.40zM130.40 119.44h2.40v5.47h-2.40zM142.40 119.44h2.40v5.47h-2.40zM156.80 119.44h2.40v5.47h-2.40zM159.20 119.44h2.40v5.47h-2.40zM168.80 119.44h2.40v5.47h-2.40zM176.00 119.44h2.40v5.47h-2.40zM183.20 119.44h2.40v5.47h-2.40zM188.00 119.44h2.40v5.47h-2.40zM190.40 119.44h2.40v5.47h-2.40zM200.00 119.44h2.40v5.47h-2.40zM216.80 119.44h2.40v5.47h-2.40zM231.20 119.44h2.40v5.47h-2.40zM238.40 119.44h2.40v5.47h-2.40zM264.80 119.44h2.40v5.47h-2.40zM276.80 119.44h2.40v5.47h-2.40zM293.60 119.44h2.40v5.47h-2.40zM317.60 119.44h2.40v5.47h-2.40zM332.00 119.44h2.40v5.47h-2.40zM341.60 119.44h2.40v5.47h-2.40zM344.00 119.44h2.40v5.47h-2.40zM65.60 124.91h2.40v5.47h-2.40zM70.40 124.91h2.40v5.47h-2.40zM75.20 124.91h2.40v5.47h-2.40zM80.00 124.91h2.40v5.47h-2.40zM84.80 124.91h2.40v5.47h-2.40zM89.60 124.91h2.40v5.47h-2.40zM92.00 124.91h2.40v5.47h-2.40zM96.80 124.91h2.40v5.47h-2.40zM101.60 124.91h2.40v5.47h-2.40zM104.00 124.91h2.40v5.47h-2.40zM118.40 124.91h2.40v5.47h-2.40zM120.80 124.91h2.40v5.47h-2.40zM125.60 124.91h2.40v5.47h-2.40zM130.40 124.91h2.40v5.47h-2.40zM132.80 124.91h2.40v5.47h-2.40zM135.20 124.91h2.40v5.47h-2.40zM137.60 124.91h2.40v5.47h-2.40zM140.00 124.91h2.40v5.47h-2.40zM144.80 124.91h2.40v5.47h-2.40zM149.60 124.91h2.40v5.47h-2.40zM159.20 124.91h2.40v5.47h-2.40zM166.40 124.91h2.40v5.47h-2.40zM171.20 124.91h2.40v5.47h-2.40zM180.80 124.91h2.40v5.47h-2.40zM183.20 124.91h2.40v5.47h-2.40zM197.60 124.91h2.40v5.47h-2.40zM204.80 124.91h2.40v5.47h-2.40zM207.20 124.91h2.40v5.47h-2.40zM209.60 124.91h2.40v5.47h-2.40zM214.40 124.91h2.40v5.47h-2.40zM219.20 124.91h2.40v5.47h-2.40zM221.60 124.91h2.40v5.47h-2.40zM226.40 124.91h2.40v5.47h-2.40zM228.80 124.91h2.40v5.47h-2.40zM231.20 124.91h2.40v5.47h-2.40zM233.60 124.91h2.40v5.47h-2.40zM238.40 124.91h2.40v5.47h-2.40zM243.20 124.91h2.40v5.47h-2.40zM245.60 124.91h2.40v5.47h-2.40zM260.00 124.91h2.40v5.47h-2.40zM264.80 124.91h2.40v5.47h-2.40zM269.60 124.91h2.40v5.47h-2.40zM279.20 124.91h2.40v5.47h-2.40zM281.60 124.91h2.40v5.47h-2.40zM286.40 124.91h2.40v5.47h-2.40zM293.60 124.91h2.40v5.47h-2.40zM303.20 124.91h2.40v5.47h-2.40zM305.60 124.91h2.40v5.47h-2.40zM310.40 124.91h2.40v5.47h-2.40zM312.80 124.91h2.40v5.47h-2.40zM315.20 124.91h2.40v5.47h-2.40zM324.80 124.91h2.40v5.47h-2.40zM327.20 124.91h2.40v5.47h-2.40zM334.40 124.91h2.40v5.47h-2.40zM336.80 124.91h2.40v5.47h-2.40zM344.00 124.91h2.40v5.47h-2.40zM70.40 130.38h2.40v5.47h-2.40zM82.40 130.38h2.40v5.47h-2.40zM84.80 130.38h2.40v5.47h-2.40zM89.60 130.38h2.40v5.47h-2.40zM111.20 130.38h2.40v5.47h-2.40zM118.40 130.38h2.40v5.47h-2.40zM123.20 130.38h2.40v5.47h-2.40zM132.80 130.38h2.40v5.47h-2.40zM142.40 130.38h2.40v5.47h-2.40zM144.80 130.38h2.40v5.47h-2.40zM149.60 130.38h2.40v5.47h-2.40zM156.80 130.38h2.40v5.47h-2.40zM164.00 130.38h2.40v5.47h-2.40zM173.60 130.38h2.40v5.47h-2.40zM200.00 130.38h2.40v5.47h-2.40zM209.60 130.38h2.40v5.47h-2.40zM216.80 130.38h2.40v5.47h-2.40zM219.20 130.38h2.40v5.47h-2.40zM231.20 130.38h2.40v5.47h-2.40zM238.40 130.38h2.40v5.47h-2.40zM245.60 130.38h2.40v5.47h-2.40zM250.40 130.38h2.40v5.47h-2.40zM269.60 130.38h2.40v5.47h-2.40zM279.20 130.38h2.40v5.47h-2.40zM286.40 130.38h2.40v5.47h-2.40zM291.20 130.38h2.40v5.47h-2.40zM293.60 130.38h2.40v5.47h-2.40zM298.40 130.38h2.40v5.47h-2.40zM303.20 130.38h2.40v5.47h-2.40zM315.20 130.38h2.40v5.47h-2.40zM324.80 130.38h2.40v5.47h-2.40zM332.00 130.38h2.40v5.47h-2.40zM344.00 130.38h2.40v5.47h-2.40zM75.20 135.85h2.40v5.47h-2.40zM80.00 135.85h2.40v5.47h-2.40zM92.00 135.85h2.40v5.47h-2.40zM108.80 135.85h2.40v5.47h-2.40zM116.00 135.85h2.40v5.47h-2.40zM123.20 135.85h2.40v5.47h-2.40zM142.40 135.85h2.40v5.47h-2.40zM154.40 135.85h2.40v5.47h-2.40zM156.80 135.85h2.40v5.47h-2.40zM164.00 135.85h2.40v5.47h-2.40zM173.60 135.85h2.40v5.47h-2.40zM180.80 135.85h2.40v5.47h-2.40zM183.20 135.85h2.40v5.47h-2.40zM192.80 135.85h2.40v5.47h-2.40zM195.20 135.85h2.40v5.47h-2.40zM202.40 135.85h2.40v5.47h-2.40zM209.60 135.85h2.40v5.47h-2.40zM226.40 135.85h2.40v5.47h-2.40zM233.60 135.85h2.40v5.47h-2.40zM236.00 135.85h2.40v5.47h-2.40zM240.80 135.85h2.40v5.47h-2.40zM243.20 135.85h2.40v5.47h-2.40zM250.40 135.85h2.40v5.47h-2.40zM260.00 135.85h2.40v5.47h-2.40zM267.20 135.85h2.40v5.47h-2.40zM274.40 135.85h2.40v5.47h-2.40zM276.80 135.85h2.40v5.47h-2.40zM279.20 135.85h2.40v5.47h-2.40zM296.00 135.85h2.40v5.47h-2.40zM305.60 135.85h2.40v5.47h-2.40zM310.40 135.85h2.40v5.47h-2.40zM315.20 135.85h2.40v5.47h-2.40zM317.60 135.85h2.40v5.47h-2.40zM322.40 135.85h2.40v5.47h-2.40zM334.40 135.85h2.40v5.47h-2.40zM339.20 135.85h2.40v5.47h-2.40zM70.40 146.79h2.40v5.47h-2.40zM82.40 146.79h2.40v5.47h-2.40zM89.60 146.79h2.40v5.47h-2.40zM96.80 146.79h2.40v5.47h-2.40zM101.60 146.79h2.40v5.47h-2.40zM106.40 146.79h2.40v5.47h-2.40zM108.80 146.79h2.40v5.47h-2.40zM123.20 146.79h2.40v5.47h-2.40zM132.80 146.79h2.40v5.47h-2.40zM142.40 146.79h2.40v5.47h-2.40zM149.60 146.79h2.40v5.47h-2.40zM168.80 146.79h2.40v5.47h-2.40zM171.20 146.79h2.40v5.47h-2.40zM176.00 146.79h2.40v5.47h-2.40zM190.40 146.79h2.40v5.47h-2.40zM195.20 146.79h2.40v5.47h-2.40zM209.60 146.79h2.40v5.47h-2.40zM219.20 146.79h2.40v5.47h-2.40zM233.60 146.79h2.40v5.47h-2.40zM236.00 146.79h2.40v5.47h-2.40zM240.80 146.79h2.40v5.47h-2.40zM248.00 146.79h2.40v5.47h-2.40zM257.60 146.79h2.40v5.47h-2.40zM269.60 146.79h2.40v5.47h-2.40zM288.80 146.79h2.40v5.47h-2.40zM291.20 146.79h2.40v5.47h-2.40zM308.00 146.79h2.40v5.47h-2.40zM320.00 146.79h2.40v5.47h-2.40zM322.40 146.79h2.40v5.47h-2.40zM327.20 146.79h2.40v5.47h-2.40zM329.60 146.79h2.40v5.47h-2.40zM332.00 146.79h2.40v5.47h-2.40zM339.20 146.79h2.40v5.47h-2.40zM99.20 152.26h2.40v5.47h-2.40zM113.60 152.26h2.40v5.47h-2.40zM116.00 152.26h2.40v5.47h-2.40zM120.80 152.26h2.40v5.47h-2.40zM137.60 152.26h2.40v5.47h-2.40zM149.60 152.26h2.40v5.47h-2.40zM166.40 152.26h2.40v5.47h-2.40zM168.80 152.26h2.40v5.47h-2.40zM171.20 152.26h2.40v5.47h-2.40zM176.00 152.26h2.40v5.47h-2.40zM185.60 152.26h2.40v5.47h-2.40zM228.80 152.26h2.40v5.47h-2.40zM231.20 152.26h2.40v5.47h-2.40zM236.00 152.26h2.40v5.47h-2.40zM252.80 152.26h2.40v5.47h-2.40zM255.20 152.26h2.40v5.47h-2.40zM264.80 152.26h2.40v5.47h-2.40zM281.60 152.26h2.40v5.47h-2.40zM296.00 152.26h2.40v5.47h-2.40zM298.40 152.26h2.40v5.47h-2.40zM312.80 152.26h2.40v5.47h-2.40zM315.20 152.26h2.40v5.47h-2.40zM317.60 152.26h2.40v5.47h-2.40zM336.80 152.26h2.40v5.47h-2.40zM344.00 152.26h2.40v5.47h-2.40z"/>
<path fill="#ff7100" d="M118.40 53.80h2.40v5.47h-2.40zM120.80 53.80h2.40v5.47h-2.40zM137.60 53.80h2.40v5.47h-2.40zM144.80 53.80h2.40v5.47h-2.40zM154.40 53.80h2.40v5.47h-2.40zM156.80 53.80h2.40v5.47h-2.40zM166.40 53.80h2.40v5.47h-2.40zM185.60 53.80h2.40v5.47h-2.40zM207.20 53.80h2.40v5.47h-2.40zM219.20 53.80h2.40v5.47h-2.40zM224.00 53.80h2.40v5.47h-2.40zM245.60 53.80h2.40v5.47h-2.40zM252.80 53.80h2.40v5.47h-2.40zM298.40 53.80h2.40v5.47h-2.40zM72.80 59.27h2.40v5.47h-2.40zM77.60 59.27h2.40v5.47h-2.40zM89.60 59.27h2.40v5.47h-2.40zM123.20 59.27h2.40v5.47h-2.40zM149.60 59.27h2.40v5.47h-2.40zM156.80 59.27h2.40v5.47h-2.40zM207.20 59.27h2.40v5.47h-2.40zM219.20 59.27h2.40v5.47h-2.40zM228.80 59.27h2.40v5.47h-2.40zM231.20 59.27h2.40v5.47h-2.40zM260.00 59.27h2.40v5.47h-2.40zM267.20 59.27h2.40v5.47h-2.40zM284.00 59.27h2.40v5.47h-2.40zM298.40 59.27h2.40v5.47h-2.40zM303.20 59.27h2.40v5.47h-2.40zM315.20 59.27h2.40v5.47h-2.40zM329.60 59.27h2.40v5.47h-2.40zM72.80 64.74h2.40v5.47h-2.40zM77.60 64.74h2.40v5.47h-2.40zM84.80 64.74h2.40v5.47h-2.40zM106.40 64.74h2.40v5.47h-2.40zM118.40 64.74h2.40v5.47h-2.40zM123.20 64.74h2.40v5.47h-2.40zM152.00 64.74h2.40v5.47h-2.40zM154.40 64.74h2.40v5.47h-2.40zM166.40 64.74h2.40v5.47h-2.40zM168.80 64.74h2.40v5.47h-2.40zM188.00 64.74h2.40v5.47h-2.40zM190.40 64.74h2.40v5.47h-2.40zM192.80 64.74h2.40v5.47h-2.40zM221.60 64.74h2.40v5.47h-2.40zM228.80 64.74h2.40v5.47h-2.40zM233.60 64.74h2.40v5.47h-2.40zM236.00 64.74h2.40v5.47h-2.40zM248.00 64.74h2.40v5.47h-2.40zM291.20 64.74h2.40v5.47h-2.40zM298.40 64.74h2.40v5.47h-2.40zM336.80 64.74h2.40v5.47h-2.40zM339.20 64.74h2.40v5.47h-2.40zM65.60 70.21h2.40v5.47h-2.40zM75.20 70.21h2.40v5.47h-2.40zM87.20 70.21h2.40v5.47h-2.40zM89.60 70.21h2.40v5.47h-2.40zM96.80 70.21h2.40v5.47h-2.40zM104.00 70.21h2.40v5.47h-2.40zM128.00 70.21h2.40v5.47h-2.40zM171.20 70.21h2.40v5.47h-2.40zM197.60 70.21h2.40v5.47h-2.40zM209.60 70.21h2.40v5.47h-2.40zM231.20 70.21h2.40v5.47h-2.40zM252.80 70.21h2.40v5.47h-2.40zM276.80 70.21h2.40v5.47h-2.40zM293.60 70.21h2.40v5.47h-2.40zM334.40 70.21h2.40v5.47h-2.40zM82.40 75.68h2.40v5.47h-2.40zM116.00 75.68h2.40v5.47h-2.40zM132.80 75.68h2.40v5.47h-2.40zM144.80 75.68h2.40v5.47h-2.40zM156.80 75.68h2.40v5.47h-2.40zM214.40 75.68h2.40v5.47h-2.40zM219.20 75.68h2.40v5.47h-2.40zM226.40 75.68h2.40v5.47h-2.40zM231.20 75.68h2.40v5.47h-2.40zM238.40 75.68h2.40v5.47h-2.40zM248.00 75.68h2.40v5.47h-2.40zM267.20 75.68h2.40v5.47h-2.40zM317.60 75.68h2.40v5.47h-2.40zM336.80 75.68h2.40v5.47h-2.40zM68.00 81.15h2.40v5.47h-2.40zM96.80 81.15h2.40v5.47h-2.40zM137.60 81.15h2.40v5.47h-2.40zM192.80 81.15h2.40v5.47h-2.40zM248.00 81.15h2.40v5.47h-2.40zM324.80 81.15h2.40v5.47h-2.40zM341.60 81.15h2.40v5.47h-2.40zM65.60 86.62h2.40v5.47h-2.40zM68.00 86.62h2.40v5.47h-2.40zM80.00 86.62h2.40v5.47h-2.40zM96.80 86.62h2.40v5.47h-2.40zM120.80 86.62h2.40v5.47h-2.40zM137.60 86.62h2.40v5.47h-2.40zM152.00 86.62h2.40v5.47h-2.40zM156.80 86.62h2.40v5.47h-2.40zM161.60 86.62h2.40v5.47h-2.40zM173.60 86.62h2.40v5.47h-2.40zM185.60 86.62h2.40v5.47h-2.40zM197.60 86.62h2.40v5.47h-2.40zM212.00 86.62h2.40v5.47h-2.40zM250.40 86.62h2.40v5.47h-2.40zM279.20 86.62h2.40v5.47h-2.40zM293.60 86.62h2.40v5.47h-2.40zM315.20 86.62h2.40v5.47h-2.40zM320.00 86.62h2.40v5.47h-2.40zM329.60 86.62h2.40v5.47h-2.40zM339.20 86.62h2.40v5.47h-2.40zM89.60 92.09h2.40v5.47h-2.40zM96.80 92.09h2.40v5.47h-2.40zM106.40 92.09h2.40v5.47h-2.40zM159.20 92.09h2.40v5.47h-2.40zM183.20 92.09h2.40v5.47h-2.40zM188.00 92.09h2.40v5.47h-2.40zM212.00 92.09h2.40v5.47h-2.40zM233.60 92.09h2.40v5.47h-2.40zM236.00 92.09h2.40v5.47h-2.40zM252.80 92.09h2.40v5.47h-2.40zM276.80 92.09h2.40v5.47h-2.40zM286.40 92.09h2.40v5.47h-2.40zM293.60 92.09h2.40v5.47h-2.40zM300.80 92.09h2.40v5.47h-2.40zM315.20 92.09h2.40v5.47h-2.40zM317.60 92.09h2.40v5.47h-2.40zM322.40 92.09h2.40v5.47h-2.40zM332.00 92.09h2.40v5.47h-2.40zM334.40 92.09h2.40v5.47h-2.40zM89.60 97.56h2.40v5.47h-2.40zM96.80 97.56h2.40v5.47h-2.40zM99.20 97.56h2.40v5.47h-2.40zM135.20 97.56h2.40v5.47h-2.40zM154.40 97.56h2.40v5.47h-2.40zM156.80 97.56h2.40v5.47h-2.40zM159.20 97.56h2.40v5.47h-2.40zM178.40 97.56h2.40v5.47h-2.40zM183.20 97.56h2.40v5.47h-2.40zM200.00 97.56h2.40v5.47h-2.40zM228.80 97.56h2.40v5.47h-2.40zM231.20 97.56h2.40v5.47h-2.40zM236.00 97.56h2.40v5.47h-2.40zM240.80 97.56h2.40v5.47h-2.40zM252.80 97.56h2.40v5.47h-2.40zM267.20 97.56h2.40v5.47h-2.40zM288.80 97.56h2.40v5.47h-2.40zM291.20 97.56h2.40v5.47h-2.40zM310.40 97.56h2.40v5.47h-2.40zM336.80 97.56h2.40v5.47h-2.40zM75.20 103.03h2.40v5.47h-2.40zM84.80 103.03h2.40v5.47h-2.40zM96.80 103.03h2.40v5.47h-2.40zM113.60 103.03h2.40v5.47h-2.40zM152.00 103.03h2.40v5.47h-2.40zM185.60 103.03h2.40v5.47h-2.40zM200.00 103.03h2.40v5.47h-2.40zM226.40 103.03h2.40v5.47h-2.40zM293.60 103.03h2.40v5.47h-2.40zM310.40 103.03h2.40v5.47h-2.40zM332.00 103.03h2.40v5.47h-2.40zM92.00 108.50h2.40v5.47h-2.40zM94.40 108.50h2.40v5.47h-2.40zM113.60 108.50h2.40v5.47h-2.40zM214.40 108.50h2.40v5.47h-2.40zM224.00 108.50h2.40v5.47h-2.40zM243.20 108.50h2.40v5.47h-2.40zM252.80 108.50h2.40v5.47h-2.40zM317.60 108.50h2.40v5.47h-2.40zM327.20 108.50h2.40v5.47h-2.40zM75.20 113.97h2.40v5.47h-2.40zM77.60 113.97h2.40v5.47h-2.40zM106.40 113.97h2.40v5.47h-2.40zM113.60 113.97h2.40v5.47h-2.40zM149.60 113.97h2.40v5.47h-2.40zM168.80 113.97h2.40v5.47h-2.40zM219.20 113.97h2.40v5.47h-2.40zM231.20 113.97h2.40v5.47h-2.40zM233.60 113.97h2.40v5.47h-2.40zM236.00 113.97h2.40v5.47h-2.40zM284.00 113.97h2.40v5.47h-2.40zM293.60 113.97h2.40v5.47h-2.40zM312.80 113.97h2.40v5.47h-2.40zM341.60 113.97h2.40v5.47h-2.40zM344.00 113.97h2.40v5.47h-2.40zM65.60 119.44h2.40v5.47h-2.40zM96.80 119.44h2.40v5.47h-2.40zM120.80 119.44h2.40v5.47h-2.40zM149.60 119.44h2.40v5.47h-2.40zM166.40 119.44h2.40v5.47h-2.40zM178.40 119.44h2.40v5.47h-2.40zM195.20 119.44h2.40v5.47h-2.40zM197.60 119.44h2.40v5.47h-2.40zM207.20 119.44h2.40v5.47h-2.40zM209.60 119.44h2.40v5.47h-2.40zM226.40 119.44h2.40v5.47h-2.40zM228.80 119.44h2.40v5.47h-2.40zM245.60 119.44h2.40v5.47h-2.40zM252.80 119.44h2.40v5.47h-2.40zM255.20 119.44h2.40v5.47h-2.40zM257.60 119.44h2.40v5.47h-2.40zM260.00 119.44h2.40v5.47h-2.40zM291.20 119.44h2.40v5.47h-2.40zM298.40 119.44h2.40v5.47h-2.40zM305.60 119.44h2.40v5.47h-2.40zM310.40 119.44h2.40v5.47h-2.40zM312.80 119.44h2.40v5.47h-2.40zM320.00 119.44h2.40v5.47h-2.40zM329.60 119.44h2.40v5.47h-2.40zM108.80 124.91h2.40v5.47h-2.40zM116.00 124.91h2.40v5.47h-2.40zM156.80 124.91h2.40v5.47h-2.40zM178.40 124.91h2.40v5.47h-2.40zM188.00 124.91h2.40v5.47h-2.40zM190.40 124.91h2.40v5.47h-2.40zM195.20 124.91h2.40v5.47h-2.40zM202.40 124.91h2.40v5.47h-2.40zM291.20 124.91h2.40v5.47h-2.40zM298.40 124.91h2.40v5.47h-2.40zM317.60 124.91h2.40v5.47h-2.40zM72.80 130.38h2.40v5.47h-2.40zM87.20 130.38h2.40v5.47h-2.40zM96.80 130.38h2.40v5.47h-2.40zM130.40 130.38h2.40v5.47h-2.40zM159.20 130.38h2.40v5.47h-2.40zM171.20 130.38h2.40v5.47h-2.40zM190.40 130.38h2.40v5.47h-2.40zM195.20 130.38h2.40v5.47h-2.40zM221.60 130.38h2.40v5.47h-2.40zM224.00 130.38h2.40v5.47h-2.40zM226.40 130.38h2.40v5.47h-2.40zM252.80 130.38h2.40v5.47h-2.40zM296.00 130.38h2.40v5.47h-2.40zM300.80 130.38h2.40v5.47h-2.40zM310.40 130.38h2.40v5.47h-2.40zM322.40 130.38h2.40v5.47h-2.40zM329.60 130.38h2.40v5.47h-2.40zM334.40 130.38h2.40v5.47h-2.40zM339.20 130.38h2.40v5.47h-2.40zM84.80 135.85h2.40v5.47h-2.40zM87.20 135.85h2.40v5.47h-2.40zM99.20 135.85h2.40v5.47h-2.40zM118.40 135.85h2.40v5.47h-2.40zM130.40 135.85h2.40v5.47h-2.40zM137.60 135.85h2.40v5.47h-2.40zM159.20 135.85h2.40v5.47h-2.40zM166.40 135.85h2.40v5.47h-2.40zM190.40 135.85h2.40v5.47h-2.40zM197.60 135.85h2.40v5.47h-2.40zM281.60 135.85h2.40v5.47h-2.40zM284.00 135.85h2.40v5.47h-2.40zM286.40 135.85h2.40v5.47h-2.40zM80.00 146.79h2.40v5.47h-2.40zM120.80 146.79h2.40v5.47h-2.40zM135.20 146.79h2.40v5.47h-2.40zM140.00 146.79h2.40v5.47h-2.40zM154.40 146.79h2.40v5.47h-2.40zM161.60 146.79h2.40v5.47h-2.40zM164.00 146.79h2.40v5.47h-2.40zM166.40 146.79h2.40v5.47h-2.40zM192.80 146.79h2.40v5.47h-2.40zM212.00 146.79h2.40v5.47h-2.40zM216.80 146.79h2.40v5.47h-2.40zM238.40 146.79h2.40v5.47h-2.40zM245.60 146.79h2.40v5.47h-2.40zM252.80 146.79h2.40v5.47h-2.40zM274.40 146.79h2.40v5.47h-2.40zM310.40 146.79h2.40v5.47h-2.40zM312.80 146.79h2.40v5.47h-2.40zM334.40 146.79h2.40v5.47h-2.40zM336.80 146.79h2.40v5.47h-2.40zM77.60 152.26h2.40v5.47h-2.40zM80.00 152.26h2.40v5.47h-2.40zM82.40 152.26h2.40v5.47h-2.40zM111.20 152.26h2.40v5.47h-2.40zM140.00 152.26h2.40v5.47h-2.40zM152.00 152.26h2.40v5.47h-2.40zM159.20 152.26h2.40v5.47h-2.40zM178.40 152.26h2.40v5.47h-2.40zM200.00 152.26h2.40v5.47h-2.40zM209.60 152.26h2.40v5.47h-2.40zM221.60 152.26h2.40v5.47h-2.40zM257.60 152.26h2.40v5.47h-2.40zM272.00 152.26h2.40v5.47h-2.40zM288.80 152.26h2.40v5.47h-2.40zM324.80 152.26h2.40v5.47h-2.40z"/>
<path fill="#fffe00" d="M72.80 53.80h2.40v5.47h-2.40zM75.20 53.80h2.40v5.47h-2.40zM84.80 53.80h2.40v5.47h-2.40zM104.00 53.80h2.40v5.47h-2.40zM108.80 53.80h2.40v5.47h-2.40zM130.40 53.80h2.40v5.47h-2.40zM140.00 53.80h2.40v5.47h-2.40zM161.60 53.80h2.40v5.47h-2.40zM164.00 53.80h2.40v5.47h-2.40zM171.20 53.80h2.40v5.47h-2.40zM173.60 53.80h2.40v5.47h-2.40zM183.20 53.80h2.40v5.47h-2.40zM204.80 53.80h2.40v5.47h-2.40zM209.60 53.80h2.40v5.47h-2.40zM243.20 53.80h2.40v5.47h-2.40zM250.40 53.80h2.40v5.47h-2.40zM281.60 53.80h2.40v5.47h-2.40zM286.40 53.80h2.40v5.47h-2.40zM288.80 53.80h2.40v5.47h-2.40zM315.20 53.80h2.40v5.47h-2.40zM322.40 53.80h2.40v5.47h-2.40zM332.00 53.80h2.40v5.47h-2.40zM341.60 53.80h2.40v5.47h-2.40zM82.40 59.27h2.40v5.47h-2.40zM92.00 59.27h2.40v5.47h-2.40zM111.20 59.27h2.40v5.47h-2.40zM125.60 59.27h2.40v5.47h-2.40zM140.00 59.27h2.40v5.47h-2.40zM154.40 59.27h2.40v5.47h-2.40zM171.20 59.27h2.40v5.47h-2.40zM188.00 59.27h2.40v5.47h-2.40zM192.80 59.27h2.40v5.47h-2.40zM195.20 59.27h2.40v5.47h-2.40zM216.80 59.27h2.40v5.47h-2.40zM240.80 59.27h2.40v5.47h-2.40zM243.20 59.27h2.40v5.47h-2.40zM245.60 59.27h2.40v5.47h-2.40zM248.00 59.27h2.40v5.47h-2.40zM264.80 59.27h2.40v5.47h-2.40zM269.60 59.27h2.40v5.47h-2.40zM272.00 59.27h2.40v5.47h-2.40zM291.20 59.27h2.40v5.47h-2.40zM308.00 59.27h2.40v5.47h-2.40zM322.40 59.27h2.40v5.47h-2.40zM324.80 59.27h2.40v5.47h-2.40zM334.40 59.27h2.40v5.47h-2.40zM65.60 64.74h2.40v5.47h-2.40zM70.40 64.74h2.40v5.47h-2.40zM75.20 64.74h2.40v5.47h-2.40zM80.00 64.74h2.40v5.47h-2.40zM82.40 64.74h2.40v5.47h-2.40zM87.20 64.74h2.40v5.47h-2.40zM104.00 64.74h2.40v5.47h-2.40zM111.20 64.74h2.40v5.47h-2.40zM113.60 64.74h2.40v5.47h-2.40zM116.00 64.74h2.40v5.47h-2.40zM144.80 64.74h2.40v5.47h-2.40zM149.60 64.74h2.40v5.47h-2.40zM159.20 64.74h2.40v5.47h-2.40zM161.60 64.74h2.40v5.47h-2.40zM176.00 64.74h2.40v5.47h-2.40zM197.60 64.74h2.40v5.47h-2.40zM202.40 64.74h2.40v5.47h-2.40zM207.20 64.74h2.40v5.47h-2.40zM214.40 64.74h2.40v5.47h-2.40zM224.00 64.74h2.40v5.47h-2.40zM231.20 64.74h2.40v5.47h-2.40zM250.40 64.74h2.40v5.47h-2.40zM267.20 64.74h2.40v5.47h-2.40zM276.80 64.74h2.40v5.47h-2.40zM293.60 64.74h2.40v5.47h-2.40zM320.00 64.74h2.40v5.47h-2.40zM322.40 64.74h2.40v5.47h-2.40zM70.40 70.21h2.40v5.47h-2.40zM92.00 70.21h2.40v5.47h-2.40zM94.40 70.21h2.40v5.47h-2.40zM99.20 70.21h2.40v5.47h-2.40zM111.20 70.21h2.40v5.47h-2.40zM123.20 70.21h2.40v5.47h-2.40zM125.60 70.21h2.40v5.47h-2.40zM130.40 70.21h2.40v5.47h-2.40zM142.40 70.21h2.40v5.47h-2.40zM161.60 70.21h2.40v5.47h-2.40zM173.60 70.21h2.40v5.47h-2.40zM178.40 70.21h2.40v5.47h-2.40zM183.20 70.21h2.40v5.47h-2.40zM195.20 70.21h2.40v5.47h-2.40zM204.80 70.21h2.40v5.47h-2.40zM233.60 70.21h2.40v5.47h-2.40zM238.40 70.21h2.40v5.47h-2.40zM240.80 70.21h2.40v5.47h-2.40zM250.40 70.21h2.40v5.47h-2.40zM260.00 70.21h2.40v5.47h-2.40zM264.80 70.21h2.40v5.47h-2.40zM281.60 70.21h2.40v5.47h-2.40zM296.00 70.21h2.40v5.47h-2.40zM308.00 70.21h2.40v5.47h-2.40zM312.80 70.21h2.40v5.47h-2.40zM315.20 70.21h2.40v5.47h-2.40zM320.00 70.21h2.40v5.47h-2.40zM324.80 70.21h2.40v5.47h-2.40zM332.00 70.21h2.40v5.47h-2.40zM341.60 70.21h2.40v5.47h-2.40zM87.20 75.68h2.40v5.47h-2.40zM89.60 75.68h2.40v5.47h-2.40zM92.00 75.68h2.40v5.47h-2.40zM111.20 75.68h2.40v5.47h-2.40zM118.40 75.68h2.40v5.47h-2.40zM135.20 75.68h2.40v5.47h-2.40zM137.60 75.68h2.40v5.47h-2.40zM142.40 75.68h2.40v5.47h-2.40zM188.00 75.68h2.40v5.47h-2.40zM200.00 75.68h2.40v5.47h-2.40zM209.60 75.68h2.40v5.47h-2.40zM216.80 75.68h2.40v5.47h-2.40zM224.00 75.68h2.40v5.47h-2.40zM240.80 75.68h2.40v5.47h-2.40zM243.20 75.68h2.40v5.47h-2.40zM255.20 75.68h2.40v5.47h-2.40zM274.40 75.68h2.40v5.47h-2.40zM332.00 75.68h2.40v5.47h-2.40zM334.40 75.68h2.40v5.47h-2.40zM341.60 75.68h2.40v5.47h-2.40zM72.80 81.15h2.40v5.47h-2.40zM77.60 81.15h2.40v5.47h-2.40zM130.40 81.15h2.40v5.47h-2.40zM144.80 81.15h2.40v5.47h-2.40zM166.40 81.15h2.40v5.47h-2.40zM173.60 81.15h2.40v5.47h-2.40zM188.00 81.15h2.40v5.47h-2.40zM195.20 81.15h2.40v5.47h-2.40zM233.60 81.15h2.40v5.47h-2.40zM281.60 81.15h2.40v5.47h-2.40zM284.00 81.15h2.40v5.47h-2.40zM312.80 81.15h2.40v5.47h-2.40zM315.20 81.15h2.40v5.47h-2.40zM77.60 86.62h2.40v5.47h-2.40zM82.40 86.62h2.40v5.47h-2.40zM87.20 86.62h2.40v5.47h-2.40zM99.20 86.62h2.40v5.47h-2.40zM106.40 86.62h2.40v5.47h-2.40zM123.20 86.62h2.40v5.47h-2.40zM149.60 86.62h2.40v5.47h-2.40zM159.20 86.62h2.40v5.47h-2.40zM166.40 86.62h2.40v5.47h-2.40zM183.20 86.62h2.40v5.47h-2.40zM200.00 86.62h2.40v5.47h-2.40zM219.20 86.62h2.40v5.47h-2.40zM238.40 86.62h2.40v5.47h-2.40zM260.00 86.62h2.40v5.47h-2.40zM300.80 86.62h2.40v5.47h-2.40zM341.60 86.62h2.40v5.47h-2.40zM65.60 92.09h2.40v5.47h-2.40zM68.00 92.09h2.40v5.47h-2.40zM72.80 92.09h2.40v5.47h-2.40zM108.80 92.09h2.40v5.47h-2.40zM120.80 92.09h2.40v5.47h-2.40zM123.20 92.09h2.40v5.47h-2.40zM128.00 92.09h2.40v5.47h-2.40zM140.00 92.09h2.40v5.47h-2.40zM149.60 92.09h2.40v5.47h-2.40zM164.00 92.09h2.40v5.47h-2.40zM166.40 92.09h2.40v5.47h-2.40zM192.80 92.09h2.40v5.47h-2.40zM209.60 92.09h2.40v5.47h-2.40zM240.80 92.09h2.40v5.47h-2.40zM245.60 92.09h2.40v5.47h-2.40zM248.00 92.09h2.40v5.47h-2.40zM255.20 92.09h2.40v5.47h-2.40zM264.80 92.09h2.40v5.47h-2.40zM267.20 92.09h2.40v5.47h-2.40zM303.20 92.09h2.40v5.47h-2.40zM305.60 92.09h2.40v5.47h-2.40zM308.00 92.09h2.40v5.47h-2.40zM320.00 92.09h2.40v5.47h-2.40zM324.80 92.09h2.40v5.47h-2.40zM327.20 92.09h2.40v5.47h-2.40zM329.60 92.09h2.40v5.47h-2.40zM65.60 97.56h2.40v5.47h-2.40zM68.00 97.56h2.40v5.47h-2.40zM92.00 97.56h2.40v5.47h-2.40zM94.40 97.56h2.40v5.47h-2.40zM123.20 97.56h2.40v5.47h-2.40zM128.00 97.56h2.40v5.47h-2.40zM161.60 97.56h2.40v5.47h-2.40zM190.40 97.56h2.40v5.47h-2.40zM192.80 97.56h2.40v5.47h-2.40zM197.60 97.56h2.40v5.47h-2.40zM226.40 97.56h2.40v5.47h-2.40zM233.60 97.56h2.40v5.47h-2.40zM250.40 97.56h2.40v5.47h-2.40zM255.20 97.56h2.40v5.47h-2.40zM284.00 97.56h2.40v5.47h-2.40zM296.00 97.56h2.40v5.47h-2.40zM298.40 97.56h2.40v5.47h-2.40zM303.20 97.56h2.40v5.47h-2.40zM334.40 97.56h2.40v5.47h-2.40zM89.60 103.03h2.40v5.47h-2.40zM99.20 103.03h2.40v5.47h-2.40zM140.00 103.03h2.40v5.47h-2.40zM154.40 103.03h2.40v5.47h-2.40zM168.80 103.03h2.40v5.47h-2.40zM173.60 103.03h2.40v5.47h-2.40zM183.20 103.03h2.40v5.47h-2.40zM231.20 103.03h2.40v5.47h-2.40zM236.00 103.03h2.40v5.47h-2.40zM250.40 103.03h2.40v5.47h-2.40zM260.00 103.03h2.40v5.47h-2.40zM267.20 103.03h2.40v5.47h-2.40zM286.40 103.03h2.40v5.47h-2.40zM296.00 103.03h2.40v5.47h-2.40zM308.00 103.03h2.40v5.47h-2.40zM312.80 103.03h2.40v5.47h-2.40zM322.40 103.03h2.40v5.47h-2.40zM341.60 103.03h2.40v5.47h-2.40zM166.40 108.50h2.40v5.47h-2.40zM176.00 108.50h2.40v5.47h-2.40zM188.00 108.50h2.40v5.47h-2.40zM197.60 108.50h2.40v5.47h-2.40zM228.80 108.50h2.40v5.47h-2.40zM245.60 108.50h2.40v5.47h-2.40zM250.40 108.50h2.40v5.47h-2.40zM279.20 108.50h2.40v5.47h-2.40zM284.00 108.50h2.40v5.47h-2.40zM296.00 108.50h2.40v5.47h-2.40zM305.60 108.50h2.40v5.47h-2.40zM65.60 113.97h2.40v5.47h-2.40zM70.40 113.97h2.40v5.47h-2.40zM82.40 113.97h2.40v5.47h-2.40zM84.80 113.97h2.40v5.47h-2.40zM89.60 113.97h2.40v5.47h-2.40zM108.80 113.97h2.40v5.47h-2.40zM111.20 113.97h2.40v5.47h-2.40zM116.00 113.97h2.40v5.47h-2.40zM142.40 113.97h2.40v5.47h-2.40zM144.80 113.97h2.40v5.47h-2.40zM152.00 113.97h2.40v5.47h-2.40zM154.40 113.97h2.40v5.47h-2.40zM156.80 113.97h2.40v5.47h-2.40zM176.00 113.97h2.40v5.47h-2.40zM202.40 113.97h2.40v5.47h-2.40zM216.80 113.97h2.40v5.47h-2.40zM240.80 113.97h2.40v5.47h-2.40zM243.20 113.97h2.40v5.47h-2.40zM260.00 113.97h2.40v5.47h-2.40zM286.40 113.97h2.40v5.47h-2.40zM300.80 113.97h2.40v5.47h-2.40zM305.60 113.97h2.40v5.47h-2.40zM317.60 113.97h2.40v5.47h-2.40zM324.80 113.97h2.40v5.47h-2.40zM327.20 113.97h2.40v5.47h-2.40zM332.00 113.97h2.40v5.47h-2.40zM334.40 113.97h2.40v5.47h-2.40zM82.40 119.44h2.40v5.47h-2.40zM92.00 119.44h2.40v5.47h-2.40zM94.40 119.44h2.40v5.47h-2.40zM99.20 119.44h2.40v5.47h-2.40zM106.40 119.44h2.40v5.47h-2.40zM113.60 119.44h2.40v5.47h-2.40zM137.60 119.44h2.40v5.47h-2.40zM144.80 119.44h2.40v5.47h-2.40zM152.00 119.44h2.40v5.47h-2.40zM164.00 119.44h2.40v5.47h-2.40zM185.60 119.44h2.40v5.47h-2.40zM204.80 119.44h2.40v5.47h-2.40zM240.80 119.44h2.40v5.47h-2.40zM267.20 119.44h2.40v5.47h-2.40zM269.60 119.44h2.40v5.47h-2.40zM279.20 119.44h2.40v5.47h-2.40zM296.00 119.44h2.40v5.47h-2.40zM300.80 119.44h2.40v5.47h-2.40zM303.20 119.44h2.40v5.47h-2.40zM315.20 119.44h2.40v5.47h-2.40zM77.60 124.91h2.40v5.47h-2.40zM87.20 124.91h2.40v5.47h-2.40zM106.40 124.91h2.40v5.47h-2.40zM111.20 124.91h2.40v5.47h-2.40zM128.00 124.91h2.40v5.47h-2.40zM142.40 124.91h2.40v5.47h-2.40zM152.00 124.91h2.40v5.47h-2.40zM154.40 124.91h2.40v5.47h-2.40zM161.60 124.91h2.40v5.47h-2.40zM164.00 124.91h2.40v5.47h-2.40zM185.60 124.91h2.40v5.47h-2.40zM192.80 124.91h2.40v5.47h-2.40zM200.00 124.91h2.40v5.47h-2.40zM236.00 124.91h2.40v5.47h-2.40zM252.80 124.91h2.40v5.47h-2.40zM267.20 124.91h2.40v5.47h-2.40zM274.40 124.91h2.40v5.47h-2.40zM288.80 124.91h2.40v5.47h-2.40zM296.00 124.91h2.40v5.47h-2.40zM300.80 124.91h2.40v5.47h-2.40zM320.00 124.91h2.40v5.47h-2.40zM332.00 124.91h2.40v5.47h-2.40zM80.00 130.38h2.40v5.47h-2.40zM92.00 130.38h2.40v5.47h-2.40zM101.60 130.38h2.40v5.47h-2.40zM125.60 130.38h2.40v5.47h-2.40zM140.00 130.38h2.40v5.47h-2.40zM152.00 130.38h2.40v5.47h-2.40zM161.60 130.38h2.40v5.47h-2.40zM176.00 130.38h2.40v5.47h-2.40zM180.80 130.38h2.40v5.47h-2.40zM192.80 130.38h2.40v5.47h-2.40zM228.80 130.38h2.40v5.47h-2.40zM240.80 130.38h2.40v5.47h-2.40zM243.20 130.38h2.40v5.47h-2.40zM248.00 130.38h2.40v5.47h-2.40zM274.40 130.38h2.40v5.47h-2.40zM281.60 130.38h2.40v5.47h-2.40zM317.60 130.38h2.40v5.47h-2.40zM320.00 130.38h2.40v5.47h-2.40zM327.20 130.38h2.40v5.47h-2.40zM336.80 130.38h2.40v5.47h-2.40zM89.60 135.85h2.40v5.47h-2.40zM94.40 135.85h2.40v5.47h-2.40zM101.60 135.85h2.40v5.47h-2.40zM106.40 135.85h2.40v5.47h-2.40zM111.20 135.85h2.40v5.47h-2.40zM113.60 135.85h2.40v5.47h-2.40zM120.80 135.85h2.40v5.47h-2.40zM125.60 135.85h2.40v5.47h-2.40zM128.00 135.85h2.40v5.47h-2.40zM135.20 135.85h2.40v5.47h-2.40zM140.00 135.85h2.40v5.47h-2.40zM149.60 135.85h2.40v5.47h-2.40zM161.60 135.85h2.40v5.47h-2.40zM168.80 135.85h2.40v5.47h-2.40zM171.20 135.85h2.40v5.47h-2.40zM176.00 135.85h2.40v5.47h-2.40zM188.00 135.85h2.40v5.47h-2.40zM204.80 135.85h2.40v5.47h-2.40zM207.20 135.85h2.40v5.47h-2.40zM216.80 135.85h2.40v5.47h-2.40zM219.20 135.85h2.40v5.47h-2.40zM228.80 135.85h2.40v5.47h-2.40zM248.00 135.85h2.40v5.47h-2.40zM252.80 135.85h2.40v5.47h-2.40zM264.80 135.85h2.40v5.47h-2.40zM269.60 135.85h2.40v5.47h-2.40zM300.80 135.85h2.40v5.47h-2.40zM312.80 135.85h2.40v5.47h-2.40zM329.60 135.85h2.40v5.47h-2.40zM68.00 146.79h2.40v5.47h-2.40zM72.80 146.79h2.40v5.47h-2.40zM116.00 146.79h2.40v5.47h-2.40zM118.40 146.79h2.40v5.47h-2.40zM125.60 146.79h2.40v5.47h-2.40zM137.60 146.79h2.40v5.47h-2.40zM156.80 146.79h2.40v5.47h-2.40zM159.20 146.79h2.40v5.47h-2.40zM185.60 146.79h2.40v5.47h-2.40zM250.40 146.79h2.40v5.47h-2.40zM255.20 146.79h2.40v5.47h-2.40zM264.80 146.79h2.40v5.47h-2.40zM272.00 146.79h2.40v5.47h-2.40zM281.60 146.79h2.40v5.47h-2.40zM298.40 146.79h2.40v5.47h-2.40zM300.80 146.79h2.40v5.47h-2.40zM303.20 146.79h2.40v5.47h-2.40zM315.20 146.79h2.40v5.47h-2.40zM324.80 146.79h2.40v5.47h-2.40zM72.80 152.26h2.40v5.47h-2.40zM84.80 152.26h2.40v5.47h-2.40zM94.40 152.26h2.40v5.47h-2.40zM96.80 152.26h2.40v5.47h-2.40zM106.40 152.26h2.40v5.47h-2.40zM118.40 152.26h2.40v5.47h-2.40zM135.20 152.26h2.40v5.47h-2.40zM154.40 152.26h2.40v5.47h-2.40zM156.80 152.26h2.40v5.47h-2.40zM180.80 152.26h2.40v5.47h-2.40zM195.20 152.26h2.40v5.47h-2.40zM214.40 152.26h2.40v5.47h-2.40zM267.20 152.26h2.40v5.47h-2.40zM276.80 152.26h2.40v5.47h-2.40zM327.20 152.26h2.40v5.47h-2.40zM334.40 152.26h2.40v5.47h-2.40zM341.60 152.26h2.40v5.47h-2.40z"/>
<path fill="#ffffff" d="M96.80 53.80h2.40v5.47h-2.40zM113.60 53.80h2.40v5.47h-2.40zM116.00 53.80h2.40v5.47h-2.40zM159.20 53.80h2.40v5.47h-2.40zM195.20 53.80h2.40v5.47h-2.40zM197.60 53.80h2.40v5.47h-2.40zM221.60 53.80h2.40v5.47h-2.40zM231.20 53.80h2.40v5.47h-2.40zM240.80 53.80h2.40v5.47h-2.40zM255.20 53.80h2.40v5.47h-2.40zM272.00 53.80h2.40v5.47h-2.40zM276.80 53.80h2.40v5.47h-2.40zM291.20 53.80h2.40v5.47h-2.40zM305.60 53.80h2.40v5.47h-2.40zM308.00 53.80h2.40v5.47h-2.40zM334.40 53.80h2.40v5.47h-2.40zM336.80 53.80h2.40v5.47h-2.40zM75.20 59.27h2.40v5.47h-2.40zM101.60 59.27h2.40v5.47h-2.40zM116.00 59.27h2.40v5.47h-2.40zM118.40 59.27h2.40v5.47h-2.40zM152.00 59.27h2.40v5.47h-2.40zM178.40 59.27h2.40v5.47h-2.40zM180.80 59.27h2.40v5.47h-2.40zM190.40 59.27h2.40v5.47h-2.40zM221.60 59.27h2.40v5.47h-2.40zM226.40 59.27h2.40v5.47h-2.40zM238.40 59.27h2.40v5.47h-2.40zM250.40 59.27h2.40v5.47h-2.40zM252.80 59.27h2.40v5.47h-2.40zM257.60 59.27h2.40v5.47h-2.40zM279.20 59.27h2.40v5.47h-2.40zM281.60 59.27h2.40v5.47h-2.40zM286.40 59.27h2.40v5.47h-2.40zM296.00 59.27h2.40v5.47h-2.40zM300.80 59.27h2.40v5.47h-2.40zM310.40 59.27h2.40v5.47h-2.40zM339.20 59.27h2.40v5.47h-2.40zM89.60 64.74h2.40v5.47h-2.40zM101.60 64.74h2.40v5.47h-2.40zM137.60 64.74h2.40v5.47h-2.40zM212.00 64.74h2.40v5.47h-2.40zM238.40 64.74h2.40v5.47h-2.40zM245.60 64.74h2.40v5.47h-2.40zM257.60 64.74h2.40v5.47h-2.40zM286.40 64.74h2.40v5.47h-2.40zM332.00 64.74h2.40v5.47h-2.40zM341.60 64.74h2.40v5.47h-2.40zM77.60 70.21h2.40v5.47h-2.40zM120.80 70.21h2.40v5.47h-2.40zM132.80 70.21h2.40v5.47h-2.40zM135.20 70.21h2.40v5.47h-2.40zM137.60 70.21h2.40v5.47h-2.40zM144.80 70.21h2.40v5.47h-2.40zM152.00 70.21h2.40v5.47h-2.40zM200.00 70.21h2.40v5.47h-2.40zM212.00 70.21h2.40v5.47h-2.40zM226.40 70.21h2.40v5.47h-2.40zM228.80 70.21h2.40v5.47h-2.40zM243.20 70.21h2.40v5.47h-2.40zM248.00 70.21h2.40v5.47h-2.40zM272.00 70.21h2.40v5.47h-2.40zM274.40 70.21h2.40v5.47h-2.40zM284.00 70.21h2.40v5.47h-2.40zM310.40 70.21h2.40v5.47h-2.40zM65.60 75.68h2.40v5.47h-2.40zM72.80 75.68h2.40v5.47h-2.40zM75.20 75.68h2.40v5.47h-2.40zM161.60 75.68h2.40v5.47h-2.40zM164.00 75.68h2.40v5.47h-2.40zM173.60 75.68h2.40v5.47h-2.40zM178.40 75.68h2.40v5.47h-2.40zM183.20 75.68h2.40v5.47h-2.40zM204.80 75.68h2.40v5.47h-2.40zM233.60 75.68h2.40v5.47h-2.40zM284.00 75.68h2.40v5.47h-2.40zM291.20 75.68h2.40v5.47h-2.40zM296.00 75.68h2.40v5.47h-2.40zM300.80 75.68h2.40v5.47h-2.40zM315.20 75.68h2.40v5.47h-2.40zM322.40 75.68h2.40v5.47h-2.40zM324.80 75.68h2.40v5.47h-2.40zM329.60 75.68h2.40v5.47h-2.40zM84.80 81.15h2.40v5.47h-2.40zM87.20 81.15h2.40v5.47h-2.40zM111.20 81.15h2.40v5.47h-2.40zM113.60 81.15h2.40v5.47h-2.40zM123.20 81.15h2.40v5.47h-2.40zM125.60 81.15h2.40v5.47h-2.40zM142.40 81.15h2.40v5.47h-2.40zM154.40 81.15h2.40v5.47h-2.40zM164.00 81.15h2.40v5.47h-2.40zM180.80 81.15h2.40v5.47h-2.40zM202.40 81.15h2.40v5.47h-2.40zM212.00 81.15h2.40v5.47h-2.40zM214.40 81.15h2.40v5.47h-2.40zM224.00 81.15h2.40v5.47h-2.40zM226.40 81.15h2.40v5.47h-2.40zM250.40 81.15h2.40v5.47h-2.40zM252.80 81.15h2.40v5.47h-2.40zM296.00 81.15h2.40v5.47h-2.40zM303.20 81.15h2.40v5.47h-2.40zM305.60 81.15h2.40v5.47h-2.40zM70.40 86.62h2.40v5.47h-2.40zM94.40 86.62h2.40v5.47h-2.40zM108.80 86.62h2.40v5.47h-2.40zM116.00 86.62h2.40v5.47h-2.40zM130.40 86.62h2.40v5.47h-2.40zM132.80 86.62h2.40v5.47h-2.40zM168.80 86.62h2.40v5.47h-2.40zM190.40 86.62h2.40v5.47h-2.40zM204.80 86.62h2.40v5.47h-2.40zM214.40 86.62h2.40v5.47h-2.40zM216.80 86.62h2.40v5.47h-2.40zM226.40 86.62h2.40v5.47h-2.40zM240.80 86.62h2.40v5.47h-2.40zM245.60 86.62h2.40v5.47h-2.40zM264.80 86.62h2.40v5.47h-2.40zM274.40 86.62h2.40v5.47h-2.40zM286.40 86.62h2.40v5.47h-2.40zM288.80 86.62h2.40v5.47h-2.40zM312.80 86.62h2.40v5.47h-2.40zM317.60 86.62h2.40v5.47h-2.40zM322.40 86.62h2.40v5.47h-2.40zM77.60 92.09h2.40v5.47h-2.40zM80.00 92.09h2.40v5.47h-2.40zM104.00 92.09h2.40v5.47h-2.40zM113.60 92.09h2.40v5.47h-2.40zM116.00 92.09h2.40v5.47h-2.40zM125.60 92.09h2.40v5.47h-2.40zM130.40 92.09h2.40v5.47h-2.40zM142.40 92.09h2.40v5.47h-2.40zM178.40 92.09h2.40v5.47h-2.40zM185.60 92.09h2.40v5.47h-2.40zM202.40 92.09h2.40v5.47h-2.40zM214.40 92.09h2.40v5.47h-2.40zM221.60 92.09h2.40v5.47h-2.40zM250.40 92.09h2.40v5.47h-2.40zM272.00 92.09h2.40v5.47h-2.40zM274.40 92.09h2.40v5.47h-2.40zM281.60 92.09h2.40v5.47h-2.40zM296.00 92.09h2.40v5.47h-2.40zM310.40 92.09h2.40v5.47h-2.40zM77.60 97.56h2.40v5.47h-2.40zM120.80 97.56h2.40v5.47h-2.40zM202.40 97.56h2.40v5.47h-2.40zM204.80 97.56h2.40v5.47h-2.40zM257.60 97.56h2.40v5.47h-2.40zM70.40 103.03h2.40v5.47h-2.40zM82.40 103.03h2.40v5.47h-2.40zM106.40 103.03h2.40v5.47h-2.40zM123.20 103.03h2.40v5.47h-2.40zM171.20 103.03h2.40v5.47h-2.40zM212.00 103.03h2.40v5.47h-2.40zM214.40 103.03h2.40v5.47h-2.40zM240.80 103.03h2.40v5.47h-2.40zM255.20 103.03h2.40v5.47h-2.40zM274.40 103.03h2.40v5.47h-2.40zM281.60 103.03h2.40v5.47h-2.40zM300.80 103.03h2.40v5.47h-2.40zM315.20 103.03h2.40v5.47h-2.40zM65.60 108.50h2.40v5.47h-2.40zM68.00 108.50h2.40v5.47h-2.40zM77.60 108.50h2.40v5.47h-2.40zM89.60 108.50h2.40v5.47h-2.40zM99.20 108.50h2.40v5.47h-2.40zM101.60 108.50h2.40v5.47h-2.40zM104.00 108.50h2.40v5.47h-2.40zM130.40 108.50h2.40v5.47h-2.40zM132.80 108.50h2.40v5.47h-2.40zM140.00 108.50h2.40v5.47h-2.40zM142.40 108.50h2.40v5.47h-2.40zM154.40 108.50h2.40v5.47h-2.40zM156.80 108.50h2.40v5.47h-2.40zM178.40 108.50h2.40v5.47h-2.40zM180.80 108.50h2.40v5.47h-2.40zM183.20 108.50h2.40v5.47h-2.40zM185.60 108.50h2.40v5.47h-2.40zM219.20 108.50h2.40v5.47h-2.40zM233.60 108.50h2.40v5.47h-2.40zM238.40 108.50h2.40v5.47h-2.40zM240.80 108.50h2.40v5.47h-2.40zM264.80 108.50h2.40v5.47h-2.40zM274.40 108.50h2.40v5.47h-2.40zM288.80 108.50h2.40v5.47h-2.40zM308.00 108.50h2.40v5.47h-2.40zM310.40 108.50h2.40v5.47h-2.40zM312.80 108.50h2.40v5.47h-2.40zM322.40 108.50h2.40v5.47h-2.40zM329.60 108.50h2.40v5.47h-2.40zM332.00 108.50h2.40v5.47h-2.40zM334.40 108.50h2.40v5.47h-2.40zM336.80 108.50h2.40v5.47h-2.40zM135.20 113.97h2.40v5.47h-2.40zM204.80 113.97h2.40v5.47h-2.40zM209.60 113.97h2.40v5.47h-2.40zM212.00 113.97h2.40v5.47h-2.40zM214.40 113.97h2.40v5.47h-2.40zM269.60 113.97h2.40v5.47h-2.40zM320.00 113.97h2.40v5.47h-2.40zM322.40 113.97h2.40v5.47h-2.40zM336.80 113.97h2.40v5.47h-2.40zM72.80 119.44h2.40v5.47h-2.40zM75.20 119.44h2.40v5.47h-2.40zM135.20 119.44h2.40v5.47h-2.40zM154.40 119.44h2.40v5.47h-2.40zM212.00 119.44h2.40v5.47h-2.40zM214.40 119.44h2.40v5.47h-2.40zM221.60 119.44h2.40v5.47h-2.40zM224.00 119.44h2.40v5.47h-2.40zM243.20 119.44h2.40v5.47h-2.40zM248.00 119.44h2.40v5.47h-2.40zM281.60 119.44h2.40v5.47h-2.40zM324.80 119.44h2.40v5.47h-2.40zM327.20 119.44h2.40v5.47h-2.40zM336.80 119.44h2.40v5.47h-2.40zM339.20 119.44h2.40v5.47h-2.40zM72.80 124.91h2.40v5.47h-2.40zM99.20 124.91h2.40v5.47h-2.40zM113.60 124.91h2.40v5.47h-2.40zM123.20 124.91h2.40v5.47h-2.40zM168.80 124.91h2.40v5.47h-2.40zM176.00 124.91h2.40v5.47h-2.40zM212.00 124.91h2.40v5.47h-2.40zM216.80 124.91h2.40v5.47h-2.40zM224.00 124.91h2.40v5.47h-2.40zM240.80 124.91h2.40v5.47h-2.40zM248.00 124.91h2.40v5.47h-2.40zM257.60 124.91h2.40v5.47h-2.40zM276.80 124.91h2.40v5.47h-2.40zM308.00 124.91h2.40v5.47h-2.40zM329.60 124.91h2.40v5.47h-2.40zM65.60 130.38h2.40v5.47h-2.40zM68.00 130.38h2.40v5.47h-2.40zM77.60 130.38h2.40v5.47h-2.40zM99.20 130.38h2.40v5.47h-2.40zM106.40 130.38h2.40v5.47h-2.40zM108.80 130.38h2.40v5.47h-2.40zM116.00 130.38h2.40v5.47h-2.40zM154.40 130.38h2.40v5.47h-2.40zM185.60 130.38h2.40v5.47h-2.40zM204.80 130.38h2.40v5.47h-2.40zM207.20 130.38h2.40v5.47h-2.40zM257.60 130.38h2.40v5.47h-2.40zM260.00 130.38h2.40v5.47h-2.40zM267.20 130.38h2.40v5.47h-2.40zM276.80 130.38h2.40v5.47h-2.40zM288.80 130.38h2.40v5.47h-2.40zM305.60 130.38h2.40v5.47h-2.40zM312.80 130.38h2.40v5.47h-2.40zM341.60 130.38h2.40v5.47h-2.40zM65.60 135.85h2.40v5.47h-2.40zM68.00 135.85h2.40v5.47h-2.40zM104.00 135.85h2.40v5.47h-2.40zM185.60 135.85h2.40v5.47h-2.40zM221.60 135.85h2.40v5.47h-2.40zM224.00 135.85h2.40v5.47h-2.40zM231.20 135.85h2.40v5.47h-2.40zM238.40 135.85h2.40v5.47h-2.40zM257.60 135.85h2.40v5.47h-2.40zM293.60 135.85h2.40v5.47h-2.40zM320.00 135.85h2.40v5.47h-2.40zM327.20 135.85h2.40v5.47h-2.40zM341.60 135.85h2.40v5.47h-2.40zM344.00 135.85h2.40v5.47h-2.40zM84.80 146.79h2.40v5.47h-2.40zM87.20 146.79h2.40v5.47h-2.40zM104.00 146.79h2.40v5.47h-2.40zM173.60 146.79h2.40v5.47h-2.40zM183.20 146.79h2.40v5.47h-2.40zM188.00 146.79h2.40v5.47h-2.40zM197.60 146.79h2.40v5.47h-2.40zM200.00 146.79h2.40v5.47h-2.40zM221.60 146.79h2.40v5.47h-2.40zM231.20 146.79h2.40v5.47h-2.40zM243.20 146.79h2.40v5.47h-2.40zM260.00 146.79h2.40v5.47h-2.40zM279.20 146.79h2.40v5.47h-2.40zM296.00 146.79h2.40v5.47h-2.40zM317.60 146.79h2.40v5.47h-2.40zM341.60 146.79h2.40v5.47h-2.40zM344.00 146.79h2.40v5.47h-2.40zM65.60 152.26h2.40v5.47h-2.40zM87.20 152.26h2.40v5.47h-2.40zM89.60 152.26h2.40v5.47h-2.40zM108.80 152.26h2.40v5.47h-2.40zM128.00 152.26h2.40v5.47h-2.40zM130.40 152.26h2.40v5.47h-2.40zM142.40 152.26h2.40v5.47h-2.40zM144.80 152.26h2.40v5.47h-2.40zM188.00 152.26h2.40v5.47h-2.40zM204.80 152.26h2.40v5.47h-2.40zM207.20 152.26h2.40v5.47h-2.40zM212.00 152.26h2.40v5.47h-2.40zM216.80 152.26h2.40v5.47h-2.40zM219.20 152.26h2.40v5.47h-2.40zM226.40 152.26h2.40v5.47h-2.40zM240.80 152.26h2.40v5.47h-2.40zM243.20 152.26h2.40v5.47h-2.40zM250.40 152.26h2.40v5.47h-2.40zM286.40 152.26h2.40v5.47h-2.40zM291.20 152.26h2.40v5.47h-2.40zM300.80 152.26h2.40v5.47h-2.40zM310.40 152.26h2.40v5.47h-2.40zM322.40 152.26h2.40v5.47h-2.40zM339.20 152.26h2.40v5.47h-2.40z"/>
</g></g>
<g clip-path="url(#clip1)">
<rect x="65.60" y="167.80" width="280.80" height="87.52" fill="#ff5c00"/>
<rect x="65.60" y="260.79" width="280.80" height="10.94" fill="#ff5c00"/>
<g>
<linearGradient id="b6" x1="0" x2="1" y1="0" y2="0"><stop offset="0.000" stop-color="#ff5900"/><stop offset="0.036" stop-color="#ff5600"/><stop offset="0.071" stop-color="#ff5100"/><stop offset="0.107" stop-color="#ff4c00"/><stop offset="0.143" stop-color="#ff4100"/><stop offset="0.179" stop-color="#ff3200"/><stop offset="0.214" stop-color="#ff1d00"/><stop offset="0.250" stop-color="#ff0000"/><stop offset="0.286" stop-color="#dd0000"/><stop offset="0.321" stop-color="#b50000"/><stop offset="0.357" stop-color="#8e0000"/><stop offset="0.393" stop-color="#660000"/><stop offset="0.429" stop-color="#470000"/><stop offset="0.464" stop-color="#320000"/><stop offset="0.500" stop-color="#2a0000"/><stop offset="0.536" stop-color="#320000"/><stop offset="0.571" stop-color="#470000"/><stop offset="0.607" stop-color="#660000"/><stop offset="0.643" stop-color="#8e0000"/><stop offset="0.679" stop-color="#b50000"/><stop offset="0.714" stop-color="#dd0000"/><stop offset="0.750" stop-color="#ff0000"/><stop offset="0.786" stop-color="#ff1d00"/><stop offset="0.821" stop-color="#ff3200"/><stop offset="0.857" stop-color="#ff4100"/><stop offset="0.893" stop-color="#ff4c00"/><stop offset="0.929" stop-color="#ff5100"/><stop offset="0.964" stop-color="#ff5600"/><stop offset="1.000" stop-color="#ff5900"/></linearGradient>
<rect x="229.90" y="200.62" width="28" height="5.47" fill="url(#b6)"/>
<linearGradient id="b7" x1="0" x2="1" y1="0" y2="0"><stop offset="0.000" stop-color="#ff5600"/><stop offset="0.036" stop-color="#ff5400"/><stop offset="0.071" stop-color="#ff4c00"/><stop offset="0.107" stop-color="#ff4100"/><stop offset="0.143" stop-color="#ff3200"/><stop offset="0.179" stop-color="#ff1a00"/><stop offset="0.214" stop-color="#f90000"/><stop offset="0.250" stop-color="#cd0000"/><stop offset="0.286" stop-color="#980000"/><stop offset="0.321" stop-color="#5c0000"/><stop offset="0.357" stop-color="#1d0000"/><stop offset="0.393" stop-color="#0b0000"/><stop offset="0.429" stop-color="#0b0000"/><stop offset="0.464" stop-color="#0b0000"/><stop offset="0.500" stop-color="#0b0000"/><stop offset="0.536" stop-color="#0b0000"/><stop offset="0.571" stop-color="#0b0000"/><stop offset="0.607" stop-color="#0b0000"/><stop offset="0.643" stop-color="#1d0000"/><stop offset="0.679" stop-color="#5c0000"/><stop offset="0.714" stop-color="#980000"/><stop offset="0.750" stop-color="#cd0000"/><stop offset="0.786" stop-color="#f90000"/><stop offset="0.821" stop-color="#ff1a00"/><stop offset="0.857" stop-color="#ff3200"/><stop offset="0.893" stop-color="#ff4100"/><stop offset="0.929" stop-color="#ff4c00"/><stop offset="0.964" stop-color="#ff5400"/><stop offset="1.000" stop-color="#ff5600"/></linearGradient>
<rect x="215.60" y="206.09" width="28" height="5.47" fill="url(#b7)"/>
<linearGradient id="b8" x1="0" x2="1" y1="0" y2="0"><stop offset="0.000" stop-color="#ff5600"/><stop offset="0.036" stop-color="#ff5400"/><stop offset="0.071" stop-color="#ff4c00"/><stop offset="0.107" stop-color="#ff4100"/><stop offset="0.143" stop-color="#ff3200"/><stop offset="0.179" stop-color="#ff1a00"/><stop offset="0.214" stop-color="#f90000"/><stop offset="0.250" stop-color="#cd0000"/><stop offset="0.286" stop-color="#980000"/><stop offset="0.321" stop-color="#5c0000"/><stop offset="0.357" stop-color="#1d0000"/><stop offset="0.393" stop-color="#0b0000"/><stop offset="0.429" stop-color="#0b0000"/><stop offset="0.464" stop-color="#0b0000"/><stop offset="0.500" stop-color="#0b0000"/><stop offset="0.536" stop-color="#0b0000"/><stop offset="0.571" stop-color="#0b0000"/><stop offset="0.607" stop-color="#0b0000"/><stop offset="0.643" stop-color="#1d0000"/><stop offset="0.679" stop-color="#5c0000"/><stop offset="0.714" stop-color="#980000"/><stop offset="0.750" stop-color="#cd0000"/><stop offset="0.786" stop-color="#f90000"/><stop offset="0.821" stop-color="#ff1a00"/><stop offset="0.857" stop-color="#ff3200"/><stop offset="0.893" stop-color="#ff4100"/><stop offset="0.929" stop-color="#ff4c00"/><stop offset="0.964" stop-color="#ff5400"/><stop offset="1.000" stop-color="#ff5600"/></linearGradient>
<rect x="200.90" y="211.56" width="28" height="5.47" fill="url(#b8)"/>
<linearGradient id="b9" x1="0" x2="1" y1="0" y2="0"><stop offset="0.000" stop-color="#ff5600"/><stop offset="0.036" stop-color="#ff5400"/><stop offset="0.071" stop-color="#ff4c00"/><stop offset="0.107" stop-color="#ff4100"/><stop offset="0.143" stop-color="#ff3200"/><stop offset="0.179" stop-color="#ff1a00"/><stop offset="0.214" stop-color="#f90000"/><stop offset="0.250" stop-color="#cd0000"/><stop offset="0.286" stop-color="#980000"/><stop offset="0.321" stop-color="#5c0000"/><stop offset="0.357" stop-color="#1d0000"/><stop offset="0.393" stop-color="#0b0000"/><stop offset="0.429" stop-color="#0b0000"/><stop offset="0.464" stop-color="#0b0000"/><stop offset="0.500" stop-color="#0b0000"/><stop offset="0.536" stop-color="#0b0000"/><stop offset="0.571" stop-color="#0b0000"/><stop offset="0.607" stop-color="#0b0000"/><stop offset="0.643" stop-color="#1d0000"/><stop offset="0.679" stop-color="#5c0000"/><stop offset="0.714" stop-color="#980000"/><stop offset="0.750" stop-color="#cd0000"/><stop offset="0.786" stop-color="#f90000"/><stop offset="0.821" stop-color="#ff1a00"/><stop offset="0.857" stop-color="#ff3200"/><stop offset="0.893" stop-color="#ff4100"/><stop offset="0.929" stop-color="#ff4c00"/><stop offset="0.964" stop-color="#ff5400"/><stop offset="1.000" stop-color="#ff5600"/></linearGradient>
<rect x="187.20" y="217.03" width="28" height="5.47" fill="url(#b9)"/>
<linearGradient id="b10" x1="0" x2="1" y1="0" y2="0"><stop offset="0.000" stop-color="#ff5600"/><stop offset="0.036" stop-color="#ff5400"/><stop offset="0.071" stop-color="#ff4c00"/><stop offset="0.107" stop-color="#ff4100"/><stop offset="0.143" stop-color="#ff3200"/><stop offset="0.179" stop-color="#ff1a00"/><stop offset="0.214" stop-color="#f90000"/><stop offset="0.250" stop-color="#cd0000"/><stop offset="0.286" stop-color="#980000"/><stop offset="0.321" stop-color="#5c0000"/><stop offset="0.357" stop-color="#1d0000"/><stop offset="0.393" stop-color="#0b0000"/><stop offset="0.429" stop-color="#0b0000"/><stop offset="0.464" stop-color="#0b0000"/><stop offset="0.500" stop-color="#0b0000"/><stop offset="0.536" stop-color="#0b0000"/><stop offset="0.571" stop-color="#0b0000"/><stop offset="0.607" stop-color="#0b0000"/><stop offset="0.643" stop-color="#1d0000"/><stop offset="0.679" stop-color="#5c0000"/><stop offset="0.714" stop-color="#980000"/><stop offset="0.750" stop-color="#cd0000"/><stop offset="0.786" stop-color="#f90000"/><stop offset="0.821" stop-color="#ff1a00"/><stop offset="0.857" stop-color="#ff3200"/><stop offset="0.893" stop-color="#ff4100"/><stop offset="0.929" stop-color="#ff4c00"/><stop offset="0.964" stop-color="#ff5400"/><stop offset="1.000" stop-color="#ff5600"/></linearGradient>
<rect x="183.90" y="222.50" width="28" height="5.47" fill="url(#b10)"/>
<linearGradient id="b11" x1="0" x2="1" y1="0" y2="0"><stop offset="0.000" stop-color="#ff5600"/><stop offset="0.036" stop-color="#ff5400"/><stop offset="0.071" stop-color="#ff4c00"/><stop offset="0.107" stop-color="#ff4100"/><stop offset="0.143" stop-color="#ff3200"/><stop offset="0.179" stop-color="#ff1a00"/><stop offset="0.214" stop-color="#f90000"/><stop offset="0.250" stop-color="#cd0000"/><stop offset="0.286" stop-color="#980000"/><stop offset="0.321" stop-color="#5c0000"/><stop offset="0.357" stop-color="#1d0000"/><stop offset="0.393" stop-color="#0b0000"/><stop offset="0.429" stop-color="#0b0000"/><stop offset="0.464" stop-color="#0b0000"/><stop offset="0.500" stop-color="#0b0000"/><stop offset="0.536" stop-color="#0b0000"/><stop offset="0.571" stop-color="#0b0000"/><stop offset="0.607" stop-color="#0b0000"/><stop offset="0.643" stop-color="#1d0000"/><stop offset="0.679" stop-color="#5c0000"/><stop offset="0.714" stop-color="#980000"/><stop offset="0.750" stop-color="#cd0000"/><stop offset="0.786" stop-color="#f90000"/><stop offset="0.821" stop-color="#ff1a00"/><stop offset="0.857" stop-color="#ff3200"/><stop offset="0.893" stop-color="#ff4100"/><stop offset="0.929" stop-color="#ff4c00"/><stop offset="0.964" stop-color="#ff5400"/><stop offset="1.000" stop-color="#ff5600"/></linearGradient>
<rect x="171.00" y="227.97" width="28" height="5.47" fill="url(#b11)"/>
<linearGradient id="b12" x1="0" x2="1" y1="0" y2="0"><stop offset="0.000" stop-color="#ff5600"/><stop offset="0.036" stop-color="#ff5400"/><stop offset="0.071" stop-color="#ff4f00"/><stop offset="0.107" stop-color="#ff4700"/><stop offset="0.143" stop-color="#ff3c00"/><stop offset="0.179" stop-color="#ff2700"/><stop offset="0.214" stop-color="#ff1000"/><stop offset="0.250" stop-color="#ec0000"/><stop offset="0.286" stop-color="#c20000"/><stop offset="0.321" stop-color="#930000"/><stop offset="0.357" stop-color="#610000"/><stop offset="0.393" stop-color="#320000"/><stop offset="0.429" stop-color="#0b0000"/><stop offset="0.464" stop-color="#0b0000"/><stop offset="0.500" stop-color="#0b0000"/><stop offset="0.536" stop-color="#0b0000"/><stop offset="0.571" stop-color="#0b0000"/><stop offset="0.607" stop-color="#320000"/><stop offset="0.643" stop-color="#610000"/><stop offset="0.679" stop-color="#930000"/><stop offset="0.714" stop-color="#c20000"/><stop offset="0.750" stop-color="#ec0000"/><stop offset="0.786" stop-color="#ff1000"/><stop offset="0.821" stop-color="#ff2700"/><stop offset="0.857" stop-color="#ff3c00"/><stop offset="0.893" stop-color="#ff4700"/><stop offset="0.929" stop-color="#ff4f00"/><stop offset="0.964" stop-color="#ff5400"/><stop offset="1.000" stop-color="#ff5600"/></linearGradient>
<rect x="156.10" y="233.44" width="28" height="5.47" fill="url(#b12)"/>
</g>
</g>
<g clip-path="url(#clip2)"><g>
<rect x="65.60" y="281.80" width="280.80" height="87.52" fill="#ff3a00"/>
<rect x="65.60" y="374.79" width="280.80" height="10.94" fill="#ff3a00"/>
<path fill="#0b0000" d="M65.60 281.80h2.40v5.47h-2.40zM94.40 281.80h2.40v5.47h-2.40zM99.20 281.80h2.40v5.47h-2.40zM101.60 281.80h2.40v5.47h-2.40zM111.20 281.80h2.40v5.47h-2.40zM128.00 281.80h2.40v5.47h-2.40zM147.20 281.80h2.40v5.47h-2.40zM176.00 281.80h2.40v5.47h-2.40zM188.00 281.80h2.40v5.47h-2.40zM212.00 281.80h2.40v5.47h-2.40zM238.40 281.80h2.40v5.47h-2.40zM260.00 281.80h2.40v5.47h-2.40zM262.40 281.80h2.40v5.47h-2.40zM264.80 281.80h2.40v5.47h-2.40zM284.00 281.80h2.40v5.47h-2.40zM320.00 281.80h2.40v5.47h-2.40zM327.20 281.80h2.40v5.47h-2.40zM329.60 281.80h2.40v5.47h-2.40zM339.20 281.80h2.40v5.47h-2.40zM80.00 287.27h2.40v5.47h-2.40zM106.40 287.27h2.40v5.47h-2.40zM113.60 287.27h2.40v5.47h-2.40zM130.40 287.27h2.40v5.47h-2.40zM137.60 287.27h2.40v5.47h-2.40zM147.20 287.27h2.40v5.47h-2.40zM161.60 287.27h2.40v5.47h-2.40zM185.60 287.27h2.40v5.47h-2.40zM204.80 287.27h2.40v5.47h-2.40zM209.60 287.27h2.40v5.47h-2.40zM224.00 287.27h2.40v5.47h-2.40zM233.60 287.27h2.40v5.47h-2.40zM262.40 287.27h2.40v5.47h-2.40zM293.60 287.27h2.40v5.47h-2.40zM320.00 287.27h2.40v5.47h-2.40zM332.00 287.27h2.40v5.47h-2.40zM336.80 287.27h2.40v5.47h-2.40zM92.00 292.74h2.40v5.47h-2.40zM125.60 292.74h2.40v5.47h-2.40zM128.00 292.74h2.40v5.47h-2.40zM147.20 292.74h2.40v5.47h-2.40zM164.00 292.74h2.40v5.47h-2.40zM178.40 292.74h2.40v5.47h-2.40zM240.80 292.74h2.40v5.47h-2.40zM252.80 292.74h2.40v5.47h-2.40zM255.20 292.74h2.40v5.47h-2.40zM260.00 292.74h2.40v5.47h-2.40zM262.40 292.74h2.40v5.47h-2.40zM305.60 292.74h2.40v5.47h-2.40zM118.40 298.21h2.40v5.47h-2.40zM140.00 298.21h2.40v5.47h-2.40zM147.20 298.21h2.40v5.47h-2.40zM154.40 298.21h2.40v5.47h-2.40zM164.00 298.21h2.40v5.47h-2.40zM190.40 298.21h2.40v5.47h-2.40zM192.80 298.21h2.40v5.47h-2.40zM257.60 298.21h2.40v5.47h-2.40zM262.40 298.21h2.40v5.47h-2.40zM286.40 298.21h2.40v5.47h-2.40zM288.80 298.21h2.40v5.47h-2.40zM68.00 303.68h2.40v5.47h-2.40zM77.60 303.68h2.40v5.47h-2.40zM84.80 303.68h2.40v5.47h-2.40zM101.60 303.68h2.40v5.47h-2.40zM106.40 303.68h2.40v5.47h-2.40zM108.80 303.68h2.40v5.47h-2.40zM140.00 303.68h2.40v5.47h-2.40zM147.20 303.68h2.40v5.47h-2.40zM154.40 303.68h2.40v5.47h-2.40zM192.80 303.68h2.40v5.47h-2.40zM195.20 303.68h2.40v5.47h-2.40zM212.00 303.68h2.40v5.47h-2.40zM250.40 303.68h2.40v5.47h-2.40zM252.80 303.68h2.40v5.47h-2.40zM262.40 303.68h2.40v5.47h-2.40zM281.60 303.68h2.40v5.47h-2.40zM286.40 303.68h2.40v5.47h-2.40zM288.80 303.68h2.40v5.47h-2.40zM298.40 303.68h2.40v5.47h-2.40zM305.60 303.68h2.40v5.47h-2.40zM320.00 303.68h2.40v5.47h-2.40zM327.20 303.68h2.40v5.47h-2.40zM344.00 303.68h2.40v5.47h-2.40zM65.60 309.15h2.40v5.47h-2.40zM70.40 309.15h2.40v5.47h-2.40zM80.00 309.15h2.40v5.47h-2.40zM82.40 309.15h2.40v5.47h-2.40zM89.60 309.15h2.40v5.47h-2.40zM92.00 309.15h2.40v5.47h-2.40zM99.20 309.15h2.40v5.47h-2.40zM118.40 309.15h2.40v5.47h-2.40zM120.80 309.15h2.40v5.47h-2.40zM140.00 309.15h2.40v5.47h-2.40zM147.20 309.15h2.40v5.47h-2.40zM176.00 309.15h2.40v5.47h-2.40zM178.40 309.15h2.40v5.47h-2.40zM209.60 309.15h2.40v5.47h-2.40zM219.20 309.15h2.40v5.47h-2.40zM257.60 309.15h2.40v5.47h-2.40zM260.00 309.15h2.40v5.47h-2.40zM262.40 309.15h2.40v5.47h-2.40zM272.00 309.15h2.40v5.47h-2.40zM274.40 309.15h2.40v5.47h-2.40zM286.40 309.15h2.40v5.47h-2.40zM327.20 309.15h2.40v5.47h-2.40zM329.60 309.15h2.40v5.47h-2.40zM332.00 309.15h2.40v5.47h-2.40zM336.80 309.15h2.40v5.47h-2.40zM339.20 309.15h2.40v5.47h-2.40zM344.00 309.15h2.40v5.47h-2.40zM113.60 314.62h2.40v5.47h-2.40zM140.00 314.62h2.40v5.47h-2.40zM142.40 314.62h2.40v5.47h-2.40zM147.20 314.62h2.40v5.47h-2.40zM178.40 314.62h2.40v5.47h-2.40zM180.80 314.62h2.40v5.47h-2.40zM188.00 314.62h2.40v5.47h-2.40zM224.00 314.62h2.40v5.47h-2.40zM233.60 314.62h2.40v5.47h-2.40zM262.40 314.62h2.40v5.47h-2.40zM269.60 314.62h2.40v5.47h-2.40zM305.60 314.62h2.40v5.47h-2.40zM308.00 314.62h2.40v5.47h-2.40zM324.80 314.62h2.40v5.47h-2.40zM327.20 314.62h2.40v5.47h-2.40zM70.40 320.09h2.40v5.47h-2.40zM94.40 320.09h2.40v5.47h-2.40zM132.80 320.09h2.40v5.47h-2.40zM147.20 320.09h2.40v5.47h-2.40zM156.80 320.09h2.40v5.47h-2.40zM161.60 320.09h2.40v5.47h-2.40zM173.60 320.09h2.40v5.47h-2.40zM197.60 320.09h2.40v5.47h-2.40zM200.00 320.09h2.40v5.47h-2.40zM204.80 320.09h2.40v5.47h-2.40zM216.80 320.09h2.40v5.47h-2.40zM219.20 320.09h2.40v5.47h-2.40zM224.00 320.09h2.40v5.47h-2.40zM226.40 320.09h2.40v5.47h-2.40zM262.40 320.09h2.40v5.47h-2.40zM312.80 320.09h2.40v5.47h-2.40zM336.80 320.09h2.40v5.47h-2.40zM339.20 320.09h2.40v5.47h-2.40zM80.00 325.56h2.40v5.47h-2.40zM101.60 325.56h2.40v5.47h-2.40zM108.80 325.56h2.40v5.47h-2.40zM116.00 325.56h2.40v5.47h-2.40zM132.80 325.56h2.40v5.47h-2.40zM147.20 325.56h2.40v5.47h-2.40zM149.60 325.56h2.40v5.47h-2.40zM152.00 325.56h2.40v5.47h-2.40zM214.40 325.56h2.40v5.47h-2.40zM224.00 325.56h2.40v5.47h-2.40zM245.60 325.56h2.40v5.47h-2.40zM262.40 325.56h2.40v5.47h-2.40zM272.00 325.56h2.40v5.47h-2.40zM317.60 325.56h2.40v5.47h-2.40zM322.40 325.56h2.40v5.47h-2.40zM327.20 325.56h2.40v5.47h-2.40zM332.00 325.56h2.40v5.47h-2.40zM77.60 331.03h2.40v5.47h-2.40zM80.00 331.03h2.40v5.47h-2.40zM147.20 331.03h2.40v5.47h-2.40zM164.00 331.03h2.40v5.47h-2.40zM188.00 331.03h2.40v5.47h-2.40zM202.40 331.03h2.40v5.47h-2.40zM224.00 331.03h2.40v5.47h-2.40zM248.00 331.03h2.40v5.47h-2.40zM262.40 331.03h2.40v5.47h-2.40zM284.00 331.03h2.40v5.47h-2.40zM298.40 331.03h2.40v5.47h-2.40zM320.00 331.03h2.40v5.47h-2.40zM324.80 331.03h2.40v5.47h-2.40zM329.60 331.03h2.40v5.47h-2.40zM70.40 336.50h2.40v5.47h-2.40zM72.80 336.50h2.40v5.47h-2.40zM75.20 336.50h2.40v5.47h-2.40zM87.20 336.50h2.40v5.47h-2.40zM106.40 336.50h2.40v5.47h-2.40zM108.80 336.50h2.40v5.47h-2.40zM116.00 336.50h2.40v5.47h-2.40zM118.40 336.50h2.40v5.47h-2.40zM120.80 336.50h2.40v5.47h-2.40zM123.20 336.50h2.40v5.47h-2.40zM137.60 336.50h2.40v5.47h-2.40zM147.20 336.50h2.40v5.47h-2.40zM190.40 336.50h2.40v5.47h-2.40zM200.00 336.50h2.40v5.47h-2.40zM209.60 336.50h2.40v5.47h-2.40zM212.00 336.50h2.40v5.47h-2.40zM221.60 336.50h2.40v5.47h-2.40zM226.40 336.50h2.40v5.47h-2.40zM248.00 336.50h2.40v5.47h-2.40zM262.40 336.50h2.40v5.47h-2.40zM276.80 336.50h2.40v5.47h-2.40zM281.60 336.50h2.40v5.47h-2.40zM286.40 336.50h2.40v5.47h-2.40zM300.80 336.50h2.40v5.47h-2.40zM320.00 336.50h2.40v5.47h-2.40zM324.80 336.50h2.40v5.47h-2.40zM341.60 336.50h2.40v5.47h-2.40zM344.00 336.50h2.40v5.47h-2.40zM72.80 341.97h2.40v5.47h-2.40zM120.80 341.97h2.40v5.47h-2.40zM140.00 341.97h2.40v5.47h-2.40zM147.20 341.97h2.40v5.47h-2.40zM178.40 341.97h2.40v5.47h-2.40zM183.20 341.97h2.40v5.47h-2.40zM190.40 341.97h2.40v5.47h-2.40zM197.60 341.97h2.40v5.47h-2.40zM221.60 341.97h2.40v5.47h-2.40zM250.40 341.97h2.40v5.47h-2.40zM262.40 341.97h2.40v5.47h-2.40zM298.40 341.97h2.40v5.47h-2.40zM329.60 341.97h2.40v5.47h-2.40zM104.00 347.44h2.40v5.47h-2.40zM118.40 347.44h2.40v5.47h-2.40zM147.20 347.44h2.40v5.47h-2.40zM161.60 347.44h2.40v5.47h-2.40zM173.60 347.44h2.40v5.47h-2.40zM180.80 347.44h2.40v5.47h-2.40zM262.40 347.44h2.40v5.47h-2.40zM272.00 347.44h2.40v5.47h-2.40zM274.40 347.44h2.40v5.47h-2.40zM308.00 347.44h2.40v5.47h-2.40zM322.40 347.44h2.40v5.47h-2.40zM334.40 347.44h2.40v5.47h-2.40zM147.20 352.91h2.40v5.47h-2.40zM173.60 352.91h2.40v5.47h-2.40zM262.40 352.91h2.40v5.47h-2.40zM104.00 358.38h2.40v5.47h-2.40zM113.60 358.38h2.40v5.47h-2.40zM135.20 358.38h2.40v5.47h-2.40zM147.20 358.38h2.40v5.47h-2.40zM183.20 358.38h2.40v5.47h-2.40zM212.00 358.38h2.40v5.47h-2.40zM214.40 358.38h2.40v5.47h-2.40zM262.40 358.38h2.40v5.47h-2.40zM272.00 358.38h2.40v5.47h-2.40zM284.00 358.38h2.40v5.47h-2.40zM308.00 358.38h2.40v5.47h-2.40zM70.40 363.85h2.40v5.47h-2.40zM72.80 363.85h2.40v5.47h-2.40zM96.80 363.85h2.40v5.47h-2.40zM132.80 363.85h2.40v5.47h-2.40zM147.20 363.85h2.40v5.47h-2.40zM178.40 363.85h2.40v5.47h-2.40zM212.00 363.85h2.40v5.47h-2.40zM214.40 363.85h2.40v5.47h-2.40zM255.20 363.85h2.40v5.47h-2.40zM262.40 363.85h2.40v5.47h-2.40zM288.80 363.85h2.40v5.47h-2.40zM332.00 363.85h2.40v5.47h-2.40zM75.20 374.79h2.40v5.47h-2.40zM77.60 374.79h2.40v5.47h-2.40zM94.40 374.79h2.40v5.47h-2.40zM111.20 374.79h2.40v5.47h-2.40zM113.60 374.79h2.40v5.47h-2.40zM128.00 374.79h2.40v5.47h-2.40zM130.40 374.79h2.40v5.47h-2.40zM147.20 374.79h2.40v5.47h-2.40zM178.40 374.79h2.40v5.47h-2.40zM180.80 374.79h2.40v5.47h-2.40zM202.40 374.79h2.40v5.47h-2.40zM204.80 374.79h2.40v5.47h-2.40zM207.20 374.79h2.40v5.47h-2.40zM214.40 374.79h2.40v5.47h-2.40zM224.00 374.79h2.40v5.47h-2.40zM226.40 374.79h2.40v5.47h-2.40zM262.40 374.79h2.40v5.47h-2.40zM267.20 374.79h2.40v5.47h-2.40zM284.00 374.79h2.40v5.47h-2.40zM286.40 374.79h2.40v5.47h-2.40zM68.00 380.26h2.40v5.47h-2.40zM101.60 380.26h2.40v5.47h-2.40zM104.00 380.26h2.40v5.47h-2.40zM147.20 380.26h2.40v5.47h-2.40zM161.60 380.26h2.40v5.47h-2.40zM164.00 380.26h2.40v5.47h-2.40zM173.60 380.26h2.40v5.47h-2.40zM190.40 380.26h2.40v5.47h-2.40zM192.80 380.26h2.40v5.47h-2.40zM224.00 380.26h2.40v5.47h-2.40zM245.60 380.26h2.40v5.47h-2.40zM248.00 380.26h2.40v5.47h-2.40zM260.00 380.26h2.40v5.47h-2.40zM262.40 380.26h2.40v5.47h-2.40zM274.40 380.26h2.40v5.47h-2.40zM284.00 380.26h2.40v5.47h-2.40zM303.20 380.26h2.40v5.47h-2.40zM305.60 380.26h2.40v5.47h-2.40zM308.00 380.26h2.40v5.47h-2.40zM320.00 380.26h2.40v5.47h-2.40zM329.60 380.26h2.40v5.47h-2.40zM332.00 380.26h2.40v5.47h-2.40z"/>
<path fill="#7b0000" d="M70.40 281.80h2.40v5.47h-2.40zM87.20 281.80h2.40v5.47h-2.40zM106.40 281.80h2.40v5.47h-2.40zM135.20 281.80h2.40v5.47h-2.40zM168.80 281.80h2.40v5.47h-2.40zM180.80 281.80h2.40v5.47h-2.40zM192.80 281.80h2.40v5.47h-2.40zM202.40 281.80h2.40v5.47h-2.40zM214.40 281.80h2.40v5.47h-2.40zM236.00 281.80h2.40v5.47h-2.40zM257.60 281.80h2.40v5.47h-2.40zM267.20 281.80h2.40v5.47h-2.40zM269.60 281.80h2.40v5.47h-2.40zM279.20 281.80h2.40v5.47h-2.40zM296.00 281.80h2.40v5.47h-2.40zM312.80 281.80h2.40v5.47h-2.40zM344.00 281.80h2.40v5.47h-2.40zM96.80 287.27h2.40v5.47h-2.40zM104.00 287.27h2.40v5.47h-2.40zM164.00 287.27h2.40v5.47h-2.40zM168.80 287.27h2.40v5.47h-2.40zM183.20 287.27h2.40v5.47h-2.40zM200.00 287.27h2.40v5.47h-2.40zM214.40 287.27h2.40v5.47h-2.40zM276.80 287.27h2.40v5.47h-2.40zM94.40 292.74h2.40v5.47h-2.40zM130.40 292.74h2.40v5.47h-2.40zM135.20 292.74h2.40v5.47h-2.40zM185.60 292.74h2.40v5.47h-2.40zM281.60 292.74h2.40v5.47h-2.40zM303.20 292.74h2.40v5.47h-2.40zM315.20 292.74h2.40v5.47h-2.40zM82.40 298.21h2.40v5.47h-2.40zM156.80 298.21h2.40v5.47h-2.40zM159.20 298.21h2.40v5.47h-2.40zM166.40 298.21h2.40v5.47h-2.40zM219.20 298.21h2.40v5.47h-2.40zM224.00 298.21h2.40v5.47h-2.40zM245.60 298.21h2.40v5.47h-2.40zM269.60 298.21h2.40v5.47h-2.40zM322.40 298.21h2.40v5.47h-2.40zM329.60 298.21h2.40v5.47h-2.40zM344.00 298.21h2.40v5.47h-2.40zM94.40 303.68h2.40v5.47h-2.40zM120.80 303.68h2.40v5.47h-2.40zM130.40 303.68h2.40v5.47h-2.40zM152.00 303.68h2.40v5.47h-2.40zM166.40 303.68h2.40v5.47h-2.40zM197.60 303.68h2.40v5.47h-2.40zM221.60 303.68h2.40v5.47h-2.40zM228.80 303.68h2.40v5.47h-2.40zM236.00 303.68h2.40v5.47h-2.40zM257.60 303.68h2.40v5.47h-2.40zM264.80 303.68h2.40v5.47h-2.40zM269.60 303.68h2.40v5.47h-2.40zM276.80 303.68h2.40v5.47h-2.40zM310.40 303.68h2.40v5.47h-2.40zM104.00 309.15h2.40v5.47h-2.40zM156.80 309.15h2.40v5.47h-2.40zM221.60 309.15h2.40v5.47h-2.40zM231.20 309.15h2.40v5.47h-2.40zM240.80 309.15h2.40v5.47h-2.40zM243.20 309.15h2.40v5.47h-2.40zM267.20 309.15h2.40v5.47h-2.40zM288.80 309.15h2.40v5.47h-2.40zM291.20 309.15h2.40v5.47h-2.40zM308.00 309.15h2.40v5.47h-2.40zM72.80 314.62h2.40v5.47h-2.40zM104.00 314.62h2.40v5.47h-2.40zM128.00 314.62h2.40v5.47h-2.40zM154.40 314.62h2.40v5.47h-2.40zM164.00 314.62h2.40v5.47h-2.40zM171.20 314.62h2.40v5.47h-2.40zM192.80 314.62h2.40v5.47h-2.40zM202.40 314.62h2.40v5.47h-2.40zM207.20 314.62h2.40v5.47h-2.40zM231.20 314.62h2.40v5.47h-2.40zM236.00 314.62h2.40v5.47h-2.40zM284.00 314.62h2.40v5.47h-2.40zM291.20 314.62h2.40v5.47h-2.40zM298.40 314.62h2.40v5.47h-2.40zM332.00 314.62h2.40v5.47h-2.40zM75.20 320.09h2.40v5.47h-2.40zM84.80 320.09h2.40v5.47h-2.40zM87.20 320.09h2.40v5.47h-2.40zM154.40 320.09h2.40v5.47h-2.40zM195.20 320.09h2.40v5.47h-2.40zM231.20 320.09h2.40v5.47h-2.40zM344.00 320.09h2.40v5.47h-2.40zM72.80 325.56h2.40v5.47h-2.40zM106.40 325.56h2.40v5.47h-2.40zM113.60 325.56h2.40v5.47h-2.40zM118.40 325.56h2.40v5.47h-2.40zM125.60 325.56h2.40v5.47h-2.40zM164.00 325.56h2.40v5.47h-2.40zM171.20 325.56h2.40v5.47h-2.40zM185.60 325.56h2.40v5.47h-2.40zM207.20 325.56h2.40v5.47h-2.40zM212.00 325.56h2.40v5.47h-2.40zM243.20 325.56h2.40v5.47h-2.40zM260.00 325.56h2.40v5.47h-2.40zM269.60 325.56h2.40v5.47h-2.40zM281.60 325.56h2.40v5.47h-2.40zM300.80 325.56h2.40v5.47h-2.40zM308.00 325.56h2.40v5.47h-2.40zM320.00 325.56h2.40v5.47h-2.40zM68.00 331.03h2.40v5.47h-2.40zM92.00 331.03h2.40v5.47h-2.40zM94.40 331.03h2.40v5.47h-2.40zM104.00 331.03h2.40v5.47h-2.40zM118.40 331.03h2.40v5.47h-2.40zM128.00 331.03h2.40v5.47h-2.40zM135.20 331.03h2.40v5.47h-2.40zM137.60 331.03h2.40v5.47h-2.40zM144.80 331.03h2.40v5.47h-2.40zM161.60 331.03h2.40v5.47h-2.40zM180.80 331.03h2.40v5.47h-2.40zM195.20 331.03h2.40v5.47h-2.40zM204.80 331.03h2.40v5.47h-2.40zM207.20 331.03h2.40v5.47h-2.40zM228.80 331.03h2.40v5.47h-2.40zM238.40 331.03h2.40v5.47h-2.40zM272.00 331.03h2.40v5.47h-2.40zM291.20 331.03h2.40v5.47h-2.40zM317.60 331.03h2.40v5.47h-2.40zM327.20 331.03h2.40v5.47h-2.40zM336.80 331.03h2.40v5.47h-2.40zM344.00 331.03h2.40v5.47h-2.40zM80.00 336.50h2.40v5.47h-2.40zM96.80 336.50h2.40v5.47h-2.40zM144.80 336.50h2.40v5.47h-2.40zM152.00 336.50h2.40v5.47h-2.40zM159.20 336.50h2.40v5.47h-2.40zM168.80 336.50h2.40v5.47h-2.40zM192.80 336.50h2.40v5.47h-2.40zM195.20 336.50h2.40v5.47h-2.40zM202.40 336.50h2.40v5.47h-2.40zM204.80 336.50h2.40v5.47h-2.40zM231.20 336.50h2.40v5.47h-2.40zM255.20 336.50h2.40v5.47h-2.40zM260.00 336.50h2.40v5.47h-2.40zM272.00 336.50h2.40v5.47h-2.40zM291.20 336.50h2.40v5.47h-2.40zM293.60 336.50h2.40v5.47h-2.40zM80.00 341.97h2.40v5.47h-2.40zM87.20 341.97h2.40v5.47h-2.40zM92.00 341.97h2.40v5.47h-2.40zM101.60 341.97h2.40v5.47h-2.40zM128.00 341.97h2.40v5.47h-2.40zM137.60 341.97h2.40v5.47h-2.40zM171.20 341.97h2.40v5.47h-2.40zM185.60 341.97h2.40v5.47h-2.40zM188.00 341.97h2.40v5.47h-2.40zM257.60 341.97h2.40v5.47h-2.40zM274.40 341.97h2.40v5.47h-2.40zM296.00 341.97h2.40v5.47h-2.40zM310.40 341.97h2.40v5.47h-2.40zM70.40 347.44h2.40v5.47h-2.40zM80.00 347.44h2.40v5.47h-2.40zM89.60 347.44h2.40v5.47h-2.40zM111.20 347.44h2.40v5.47h-2.40zM116.00 347.44h2.40v5.47h-2.40zM128.00 347.44h2.40v5.47h-2.40zM132.80 347.44h2.40v5.47h-2.40zM140.00 347.44h2.40v5.47h-2.40zM171.20 347.44h2.40v5.47h-2.40zM192.80 347.44h2.40v5.47h-2.40zM202.40 347.44h2.40v5.47h-2.40zM219.20 347.44h2.40v5.47h-2.40zM233.60 347.44h2.40v5.47h-2.40zM236.00 347.44h2.40v5.47h-2.40zM250.40 347.44h2.40v5.47h-2.40zM284.00 347.44h2.40v5.47h-2.40zM286.40 347.44h2.40v5.47h-2.40zM288.80 347.44h2.40v5.47h-2.40zM68.00 352.91h2.40v5.47h-2.40zM82.40 352.91h2.40v5.47h-2.40zM94.40 352.91h2.40v5.47h-2.40zM250.40 352.91h2.40v5.47h-2.40zM255.20 352.91h2.40v5.47h-2.40zM272.00 352.91h2.40v5.47h-2.40zM284.00 352.91h2.40v5.47h-2.40zM322.40 352.91h2.40v5.47h-2.40zM339.20 352.91h2.40v5.47h-2.40zM341.60 352.91h2.40v5.47h-2.40zM75.20 358.38h2.40v5.47h-2.40zM94.40 358.38h2.40v5.47h-2.40zM120.80 358.38h2.40v5.47h-2.40zM128.00 358.38h2.40v5.47h-2.40zM137.60 358.38h2.40v5.47h-2.40zM166.40 358.38h2.40v5.47h-2.40zM168.80 358.38h2.40v5.47h-2.40zM178.40 358.38h2.40v5.47h-2.40zM188.00 358.38h2.40v5.47h-2.40zM197.60 358.38h2.40v5.47h-2.40zM202.40 358.38h2.40v5.47h-2.40zM233.60 358.38h2.40v5.47h-2.40zM236.00 358.38h2.40v5.47h-2.40zM255.20 358.38h2.40v5.47h-2.40zM264.80 358.38h2.40v5.47h-2.40zM77.60 363.85h2.40v5.47h-2.40zM82.40 363.85h2.40v5.47h-2.40zM144.80 363.85h2.40v5.47h-2.40zM152.00 363.85h2.40v5.47h-2.40zM200.00 363.85h2.40v5.47h-2.40zM245.60 363.85h2.40v5.47h-2.40zM272.00 363.85h2.40v5.47h-2.40zM291.20 363.85h2.40v5.47h-2.40zM298.40 363.85h2.40v5.47h-2.40zM303.20 363.85h2.40v5.47h-2.40zM308.00 363.85h2.40v5.47h-2.40zM324.80 363.85h2.40v5.47h-2.40zM336.80 363.85h2.40v5.47h-2.40zM65.60 374.79h2.40v5.47h-2.40zM92.00 374.79h2.40v5.47h-2.40zM99.20 374.79h2.40v5.47h-2.40zM144.80 374.79h2.40v5.47h-2.40zM152.00 374.79h2.40v5.47h-2.40zM228.80 374.79h2.40v5.47h-2.40zM276.80 374.79h2.40v5.47h-2.40zM293.60 374.79h2.40v5.47h-2.40zM305.60 374.79h2.40v5.47h-2.40zM70.40 380.26h2.40v5.47h-2.40zM75.20 380.26h2.40v5.47h-2.40zM92.00 380.26h2.40v5.47h-2.40zM123.20 380.26h2.40v5.47h-2.40zM125.60 380.26h2.40v5.47h-2.40zM132.80 380.26h2.40v5.47h-2.40zM183.20 380.26h2.40v5.47h-2.40zM197.60 380.26h2.40v5.47h-2.40zM202.40 380.26h2.40v5.47h-2.40zM233.60 380.26h2.40v5.47h-2.40zM238.40 380.26h2.40v5.47h-2.40zM269.60 380.26h2.40v5.47h-2.40zM279.20 380.26h2.40v5.47h-2.40zM293.60 380.26h2.40v5.47h-2.40z"/>
<path fill="#ef0000" d="M68.00 281.80h2.40v5.47h-2.40zM77.60 281.80h2.40v5.47h-2.40zM80.00 281.80h2.40v5.47h-2.40zM82.40 281.80h2.40v5.47h-2.40zM89.60 281.80h2.40v5.47h-2.40zM92.00 281.80h2.40v5.47h-2.40zM123.20 281.80h2.40v5.47h-2.40zM125.60 281.80h2.40v5.47h-2.40zM132.80 281.80h2.40v5.47h-2.40zM142.40 281.80h2.40v5.47h-2.40zM149.60 281.80h2.40v5.47h-2.40zM152.00 281.80h2.40v5.47h-2.40zM178.40 281.80h2.40v5.47h-2.40zM190.40 281.80h2.40v5.47h-2.40zM200.00 281.80h2.40v5.47h-2.40zM216.80 281.80h2.40v5.47h-2.40zM226.40 281.80h2.40v5.47h-2.40zM228.80 281.80h2.40v5.47h-2.40zM233.60 281.80h2.40v5.47h-2.40zM248.00 281.80h2.40v5.47h-2.40zM274.40 281.80h2.40v5.47h-2.40zM293.60 281.80h2.40v5.47h-2.40zM300.80 281.80h2.40v5.47h-2.40zM303.20 281.80h2.40v5.47h-2.40zM310.40 281.80h2.40v5.47h-2.40zM317.60 281.80h2.40v5.47h-2.40zM324.80 281.80h2.40v5.47h-2.40zM65.60 287.27h2.40v5.47h-2.40zM68.00 287.27h2.40v5.47h-2.40zM70.40 287.27h2.40v5.47h-2.40zM84.80 287.27h2.40v5.47h-2.40zM87.20 287.27h2.40v5.47h-2.40zM94.40 287.27h2.40v5.47h-2.40zM99.20 287.27h2.40v5.47h-2.40zM108.80 287.27h2.40v5.47h-2.40zM120.80 287.27h2.40v5.47h-2.40zM128.00 287.27h2.40v5.47h-2.40zM132.80 287.27h2.40v5.47h-2.40zM135.20 287.27h2.40v5.47h-2.40zM142.40 287.27h2.40v5.47h-2.40zM144.80 287.27h2.40v5.47h-2.40zM159.20 287.27h2.40v5.47h-2.40zM166.40 287.27h2.40v5.47h-2.40zM173.60 287.27h2.40v5.47h-2.40zM176.00 287.27h2.40v5.47h-2.40zM197.60 287.27h2.40v5.47h-2.40zM202.40 287.27h2.40v5.47h-2.40zM212.00 287.27h2.40v5.47h-2.40zM236.00 287.27h2.40v5.47h-2.40zM255.20 287.27h2.40v5.47h-2.40zM274.40 287.27h2.40v5.47h-2.40zM288.80 287.27h2.40v5.47h-2.40zM305.60 287.27h2.40v5.47h-2.40zM312.80 287.27h2.40v5.47h-2.40zM317.60 287.27h2.40v5.47h-2.40zM327.20 287.27h2.40v5.47h-2.40zM341.60 287.27h2.40v5.47h-2.40zM344.00 287.27h2.40v5.47h-2.40zM68.00 292.74h2.40v5.47h-2.40zM96.80 292.74h2.40v5.47h-2.40zM99.20 292.74h2.40v5.47h-2.40zM108.80 292.74h2.40v5.47h-2.40zM120.80 292.74h2.40v5.47h-2.40zM132.80 292.74h2.40v5.47h-2.40zM140.00 292.74h2.40v5.47h-2.40zM142.40 292.74h2.40v5.47h-2.40zM156.80 292.74h2.40v5.47h-2.40zM171.20 292.74h2.40v5.47h-2.40zM173.60 292.74h2.40v5.47h-2.40zM180.80 292.74h2.40v5.47h-2.40zM183.20 292.74h2.40v5.47h-2.40zM195.20 292.74h2.40v5.47h-2.40zM200.00 292.74h2.40v5.47h-2.40zM204.80 292.74h2.40v5.47h-2.40zM209.60 292.74h2.40v5.47h-2.40zM216.80 292.74h2.40v5.47h-2.40zM219.20 292.74h2.40v5.47h-2.40zM226.40 292.74h2.40v5.47h-2.40zM243.20 292.74h2.40v5.47h-2.40zM264.80 292.74h2.40v5.47h-2.40zM269.60 292.74h2.40v5.47h-2.40zM272.00 292.74h2.40v5.47h-2.40zM274.40 292.74h2.40v5.47h-2.40zM279.20 292.74h2.40v5.47h-2.40zM284.00 292.74h2.40v5.47h-2.40zM288.80 292.74h2.40v5.47h-2.40zM296.00 292.74h2.40v5.47h-2.40zM300.80 292.74h2.40v5.47h-2.40zM308.00 292.74h2.40v5.47h-2.40zM310.40 292.74h2.40v5.47h-2.40zM312.80 292.74h2.40v5.47h-2.40zM317.60 292.74h2.40v5.47h-2.40zM324.80 292.74h2.40v5.47h-2.40zM327.20 292.74h2.40v5.47h-2.40zM329.60 292.74h2.40v5.47h-2.40zM334.40 292.74h2.40v5.47h-2.40zM344.00 292.74h2.40v5.47h-2.40zM68.00 298.21h2.40v5.47h-2.40zM72.80 298.21h2.40v5.47h-2.40zM80.00 298.21h2.40v5.47h-2.40zM84.80 298.21h2.40v5.47h-2.40zM101.60 298.21h2.40v5.47h-2.40zM106.40 298.21h2.40v5.47h-2.40zM108.80 298.21h2.40v5.47h-2.40zM113.60 298.21h2.40v5.47h-2.40zM116.00 298.21h2.40v5.47h-2.40zM149.60 298.21h2.40v5.47h-2.40zM168.80 298.21h2.40v5.47h-2.40zM176.00 298.21h2.40v5.47h-2.40zM180.80 298.21h2.40v5.47h-2.40zM185.60 298.21h2.40v5.47h-2.40zM188.00 298.21h2.40v5.47h-2.40zM202.40 298.21h2.40v5.47h-2.40zM207.20 298.21h2.40v5.47h-2.40zM214.40 298.21h2.40v5.47h-2.40zM216.80 298.21h2.40v5.47h-2.40zM221.60 298.21h2.40v5.47h-2.40zM236.00 298.21h2.40v5.47h-2.40zM255.20 298.21h2.40v5.47h-2.40zM267.20 298.21h2.40v5.47h-2.40zM279.20 298.21h2.40v5.47h-2.40zM291.20 298.21h2.40v5.47h-2.40zM298.40 298.21h2.40v5.47h-2.40zM300.80 298.21h2.40v5.47h-2.40zM303.20 298.21h2.40v5.47h-2.40zM305.60 298.21h2.40v5.47h-2.40zM317.60 298.21h2.40v5.47h-2.40zM327.20 298.21h2.40v5.47h-2.40zM336.80 298.21h2.40v5.47h-2.40zM339.20 298.21h2.40v5.47h-2.40zM70.40 303.68h2.40v5.47h-2.40zM80.00 303.68h2.40v5.47h-2.40zM96.80 303.68h2.40v5.47h-2.40zM99.20 303.68h2.40v5.47h-2.40zM104.00 303.68h2.40v5.47h-2.40zM113.60 303.68h2.40v5.47h-2.40zM123.20 303.68h2.40v5.47h-2.40zM125.60 303.68h2.40v5.47h-2.40zM128.00 303.68h2.40v5.47h-2.40zM149.60 303.68h2.40v5.47h-2.40zM159.20 303.68h2.40v5.47h-2.40zM168.80 303.68h2.40v5.47h-2.40zM171.20 303.68h2.40v5.47h-2.40zM176.00 303.68h2.40v5.47h-2.40zM180.80 303.68h2.40v5.47h-2.40zM185.60 303.68h2.40v5.47h-2.40zM190.40 303.68h2.40v5.47h-2.40zM202.40 303.68h2.40v5.47h-2.40zM207.20 303.68h2.40v5.47h-2.40zM245.60 303.68h2.40v5.47h-2.40zM260.00 303.68h2.40v5.47h-2.40zM272.00 303.68h2.40v5.47h-2.40zM279.20 303.68h2.40v5.47h-2.40zM293.60 303.68h2.40v5.47h-2.40zM303.20 303.68h2.40v5.47h-2.40zM308.00 303.68h2.40v5.47h-2.40zM312.80 303.68h2.40v5.47h-2.40zM339.20 303.68h2.40v5.47h-2.40zM75.20 309.15h2.40v5.47h-2.40zM94.40 309.15h2.40v5.47h-2.40zM101.60 309.15h2.40v5.47h-2.40zM106.40 309.15h2.40v5.47h-2.40zM108.80 309.15h2.40v5.47h-2.40zM116.00 309.15h2.40v5.47h-2.40zM128.00 309.15h2.40v5.47h-2.40zM132.80 309.15h2.40v5.47h-2.40zM135.20 309.15h2.40v5.47h-2.40zM149.60 309.15h2.40v5.47h-2.40zM152.00 309.15h2.40v5.47h-2.40zM159.20 309.15h2.40v5.47h-2.40zM161.60 309.15h2.40v5.47h-2.40zM168.80 309.15h2.40v5.47h-2.40zM171.20 309.15h2.40v5.47h-2.40zM183.20 309.15h2.40v5.47h-2.40zM185.60 309.15h2.40v5.47h-2.40zM190.40 309.15h2.40v5.47h-2.40zM197.60 309.15h2.40v5.47h-2.40zM200.00 309.15h2.40v5.47h-2.40zM204.80 309.15h2.40v5.47h-2.40zM207.20 309.15h2.40v5.47h-2.40zM216.80 309.15h2.40v5.47h-2.40zM228.80 309.15h2.40v5.47h-2.40zM236.00 309.15h2.40v5.47h-2.40zM238.40 309.15h2.40v5.47h-2.40zM245.60 309.15h2.40v5.47h-2.40zM255.20 309.15h2.40v5.47h-2.40zM264.80 309.15h2.40v5.47h-2.40zM269.60 309.15h2.40v5.47h-2.40zM276.80 309.15h2.40v5.47h-2.40zM279.20 309.15h2.40v5.47h-2.40zM293.60 309.15h2.40v5.47h-2.40zM298.40 309.15h2.40v5.47h-2.40zM300.80 309.15h2.40v5.47h-2.40zM310.40 309.15h2.40v5.47h-2.40zM317.60 309.15h2.40v5.47h-2.40zM320.00 309.15h2.40v5.47h-2.40zM322.40 309.15h2.40v5.47h-2.40zM334.40 309.15h2.40v5.47h-2.40zM75.20 314.62h2.40v5.47h-2.40zM84.80 314.62h2.40v5.47h-2.40zM89.60 314.62h2.40v5.47h-2.40zM92.00 314.62h2.40v5.47h-2.40zM101.60 314.62h2.40v5.47h-2.40zM111.20 314.62h2.40v5.47h-2.40zM118.40 314.62h2.40v5.47h-2.40zM125.60 314.62h2.40v5.47h-2.40zM135.20 314.62h2.40v5.47h-2.40zM144.80 314.62h2.40v5.47h-2.40zM176.00 314.62h2.40v5.47h-2.40zM195.20 314.62h2.40v5.47h-2.40zM209.60 314.62h2.40v5.47h-2.40zM221.60 314.62h2.40v5.47h-2.40zM228.80 314.62h2.40v5.47h-2.40zM243.20 314.62h2.40v5.47h-2.40zM248.00 314.62h2.40v5.47h-2.40zM252.80 314.62h2.40v5.47h-2.40zM255.20 314.62h2.40v5.47h-2.40zM257.60 314.62h2.40v5.47h-2.40zM267.20 314.62h2.40v5.47h-2.40zM272.00 314.62h2.40v5.47h-2.40zM276.80 314.62h2.40v5.47h-2.40zM281.60 314.62h2.40v5.47h-2.40zM296.00 314.62h2.40v5.47h-2.40zM303.20 314.62h2.40v5.47h-2.40zM310.40 314.62h2.40v5.47h-2.40zM334.40 314.62h2.40v5.47h-2.40zM336.80 314.62h2.40v5.47h-2.40zM344.00 314.62h2.40v5.47h-2.40zM82.40 320.09h2.40v5.47h-2.40zM92.00 320.09h2.40v5.47h-2.40zM99.20 320.09h2.40v5.47h-2.40zM101.60 320.09h2.40v5.47h-2.40zM111.20 320.09h2.40v5.47h-2.40zM118.40 320.09h2.40v5.47h-2.40zM135.20 320.09h2.40v5.47h-2.40zM137.60 320.09h2.40v5.47h-2.40zM144.80 320.09h2.40v5.47h-2.40zM152.00 320.09h2.40v5.47h-2.40zM168.80 320.09h2.40v5.47h-2.40zM171.20 320.09h2.40v5.47h-2.40zM176.00 320.09h2.40v5.47h-2.40zM180.80 320.09h2.40v5.47h-2.40zM190.40 320.09h2.40v5.47h-2.40zM207.20 320.09h2.40v5.47h-2.40zM228.80 320.09h2.40v5.47h-2.40zM238.40 320.09h2.40v5.47h-2.40zM243.20 320.09h2.40v5.47h-2.40zM257.60 320.09h2.40v5.47h-2.40zM260.00 320.09h2.40v5.47h-2.40zM269.60 320.09h2.40v5.47h-2.40zM279.20 320.09h2.40v5.47h-2.40zM284.00 320.09h2.40v5.47h-2.40zM288.80 320.09h2.40v5.47h-2.40zM291.20 320.09h2.40v5.47h-2.40zM298.40 320.09h2.40v5.47h-2.40zM341.60 320.09h2.40v5.47h-2.40zM70.40 325.56h2.40v5.47h-2.40zM75.20 325.56h2.40v5.47h-2.40zM82.40 325.56h2.40v5.47h-2.40zM84.80 325.56h2.40v5.47h-2.40zM87.20 325.56h2.40v5.47h-2.40zM104.00 325.56h2.40v5.47h-2.40zM111.20 325.56h2.40v5.47h-2.40zM130.40 325.56h2.40v5.47h-2.40zM137.60 325.56h2.40v5.47h-2.40zM140.00 325.56h2.40v5.47h-2.40zM142.40 325.56h2.40v5.47h-2.40zM144.80 325.56h2.40v5.47h-2.40zM166.40 325.56h2.40v5.47h-2.40zM168.80 325.56h2.40v5.47h-2.40zM173.60 325.56h2.40v5.47h-2.40zM176.00 325.56h2.40v5.47h-2.40zM180.80 325.56h2.40v5.47h-2.40zM188.00 325.56h2.40v5.47h-2.40zM195.20 325.56h2.40v5.47h-2.40zM209.60 325.56h2.40v5.47h-2.40zM216.80 325.56h2.40v5.47h-2.40zM219.20 325.56h2.40v5.47h-2.40zM221.60 325.56h2.40v5.47h-2.40zM238.40 325.56h2.40v5.47h-2.40zM248.00 325.56h2.40v5.47h-2.40zM264.80 325.56h2.40v5.47h-2.40zM274.40 325.56h2.40v5.47h-2.40zM276.80 325.56h2.40v5.47h-2.40zM279.20 325.56h2.40v5.47h-2.40zM286.40 325.56h2.40v5.47h-2.40zM293.60 325.56h2.40v5.47h-2.40zM305.60 325.56h2.40v5.47h-2.40zM312.80 325.56h2.40v5.47h-2.40zM315.20 325.56h2.40v5.47h-2.40zM324.80 325.56h2.40v5.47h-2.40zM329.60 325.56h2.40v5.47h-2.40zM339.20 325.56h2.40v5.47h-2.40zM341.60 325.56h2.40v5.47h-2.40zM344.00 325.56h2.40v5.47h-2.40zM65.60 331.03h2.40v5.47h-2.40zM72.80 331.03h2.40v5.47h-2.40zM87.20 331.03h2.40v5.47h-2.40zM101.60 331.03h2.40v5.47h-2.40zM108.80 331.03h2.40v5.47h-2.40zM111.20 331.03h2.40v5.47h-2.40zM116.00 331.03h2.40v5.47h-2.40zM120.80 331.03h2.40v5.47h-2.40zM125.60 331.03h2.40v5.47h-2.40zM130.40 331.03h2.40v5.47h-2.40zM132.80 331.03h2.40v5.47h-2.40zM142.40 331.03h2.40v5.47h-2.40zM149.60 331.03h2.40v5.47h-2.40zM156.80 331.03h2.40v5.47h-2.40zM159.20 331.03h2.40v5.47h-2.40zM166.40 331.03h2.40v5.47h-2.40zM176.00 331.03h2.40v5.47h-2.40zM178.40 331.03h2.40v5.47h-2.40zM190.40 331.03h2.40v5.47h-2.40zM192.80 331.03h2.40v5.47h-2.40zM197.60 331.03h2.40v5.47h-2.40zM209.60 331.03h2.40v5.47h-2.40zM216.80 331.03h2.40v5.47h-2.40zM219.20 331.03h2.40v5.47h-2.40zM221.60 331.03h2.40v5.47h-2.40zM233.60 331.03h2.40v5.47h-2.40zM243.20 331.03h2.40v5.47h-2.40zM245.60 331.03h2.40v5.47h-2.40zM252.80 331.03h2.40v5.47h-2.40zM257.60 331.03h2.40v5.47h-2.40zM264.80 331.03h2.40v5.47h-2.40zM269.60 331.03h2.40v5.47h-2.40zM276.80 331.03h2.40v5.47h-2.40zM279.20 331.03h2.40v5.47h-2.40zM288.80 331.03h2.40v5.47h-2.40zM303.20 331.03h2.40v5.47h-2.40zM305.60 331.03h2.40v5.47h-2.40zM334.40 331.03h2.40v5.47h-2.40zM339.20 331.03h2.40v5.47h-2.40zM82.40 336.50h2.40v5.47h-2.40zM84.80 336.50h2.40v5.47h-2.40zM111.20 336.50h2.40v5.47h-2.40zM125.60 336.50h2.40v5.47h-2.40zM128.00 336.50h2.40v5.47h-2.40zM135.20 336.50h2.40v5.47h-2.40zM149.60 336.50h2.40v5.47h-2.40zM161.60 336.50h2.40v5.47h-2.40zM164.00 336.50h2.40v5.47h-2.40zM171.20 336.50h2.40v5.47h-2.40zM173.60 336.50h2.40v5.47h-2.40zM207.20 336.50h2.40v5.47h-2.40zM216.80 336.50h2.40v5.47h-2.40zM236.00 336.50h2.40v5.47h-2.40zM257.60 336.50h2.40v5.47h-2.40zM267.20 336.50h2.40v5.47h-2.40zM269.60 336.50h2.40v5.47h-2.40zM298.40 336.50h2.40v5.47h-2.40zM303.20 336.50h2.40v5.47h-2.40zM315.20 336.50h2.40v5.47h-2.40zM339.20 336.50h2.40v5.47h-2.40zM68.00 341.97h2.40v5.47h-2.40zM94.40 341.97h2.40v5.47h-2.40zM96.80 341.97h2.40v5.47h-2.40zM99.20 341.97h2.40v5.47h-2.40zM104.00 341.97h2.40v5.47h-2.40zM118.40 341.97h2.40v5.47h-2.40zM123.20 341.97h2.40v5.47h-2.40zM125.60 341.97h2.40v5.47h-2.40zM130.40 341.97h2.40v5.47h-2.40zM132.80 341.97h2.40v5.47h-2.40zM159.20 341.97h2.40v5.47h-2.40zM161.60 341.97h2.40v5.47h-2.40zM164.00 341.97h2.40v5.47h-2.40zM166.40 341.97h2.40v5.47h-2.40zM173.60 341.97h2.40v5.47h-2.40zM180.80 341.97h2.40v5.47h-2.40zM192.80 341.97h2.40v5.47h-2.40zM195.20 341.97h2.40v5.47h-2.40zM200.00 341.97h2.40v5.47h-2.40zM207.20 341.97h2.40v5.47h-2.40zM224.00 341.97h2.40v5.47h-2.40zM226.40 341.97h2.40v5.47h-2.40zM228.80 341.97h2.40v5.47h-2.40zM238.40 341.97h2.40v5.47h-2.40zM245.60 341.97h2.40v5.47h-2.40zM248.00 341.97h2.40v5.47h-2.40zM252.80 341.97h2.40v5.47h-2.40zM255.20 341.97h2.40v5.47h-2.40zM264.80 341.97h2.40v5.47h-2.40zM267.20 341.97h2.40v5.47h-2.40zM272.00 341.97h2.40v5.47h-2.40zM276.80 341.97h2.40v5.47h-2.40zM279.20 341.97h2.40v5.47h-2.40zM281.60 341.97h2.40v5.47h-2.40zM288.80 341.97h2.40v5.47h-2.40zM291.20 341.97h2.40v5.47h-2.40zM303.20 341.97h2.40v5.47h-2.40zM308.00 341.97h2.40v5.47h-2.40zM315.20 341.97h2.40v5.47h-2.40zM339.20 341.97h2.40v5.47h-2.40zM68.00 347.44h2.40v5.47h-2.40zM77.60 347.44h2.40v5.47h-2.40zM84.80 347.44h2.40v5.47h-2.40zM87.20 347.44h2.40v5.47h-2.40zM101.60 347.44h2.40v5.47h-2.40zM108.80 347.44h2.40v5.47h-2.40zM123.20 347.44h2.40v5.47h-2.40zM125.60 347.44h2.40v5.47h-2.40zM130.40 347.44h2.40v5.47h-2.40zM142.40 347.44h2.40v5.47h-2.40zM156.80 347.44h2.40v5.47h-2.40zM159.20 347.44h2.40v5.47h-2.40zM168.80 347.44h2.40v5.47h-2.40zM176.00 347.44h2.40v5.47h-2.40zM183.20 347.44h2.40v5.47h-2.40zM188.00 347.44h2.40v5.47h-2.40zM190.40 347.44h2.40v5.47h-2.40zM200.00 347.44h2.40v5.47h-2.40zM216.80 347.44h2.40v5.47h-2.40zM231.20 347.44h2.40v5.47h-2.40zM238.40 347.44h2.40v5.47h-2.40zM264.80 347.44h2.40v5.47h-2.40zM276.80 347.44h2.40v5.47h-2.40zM293.60 347.44h2.40v5.47h-2.40zM317.60 347.44h2.40v5.47h-2.40zM332.00 347.44h2.40v5.47h-2.40zM341.60 347.44h2.40v5.47h-2.40zM344.00 347.44h2.40v5.47h-2.40zM65.60 352.91h2.40v5.47h-2.40zM70.40 352.91h2.40v5.47h-2.40zM75.20 352.91h2.40v5.47h-2.40zM80.00 352.91h2.40v5.47h-2.40zM84.80 352.91h2.40v5.47h-2.40zM89.60 352.91h2.40v5.47h-2.40zM92.00 352.91h2.40v5.47h-2.40zM96.80 352.91h2.40v5.47h-2.40zM101.60 352.91h2.40v5.47h-2.40zM104.00 352.91h2.40v5.47h-2.40zM118.40 352.91h2.40v5.47h-2.40zM120.80 352.91h2.40v5.47h-2.40zM125.60 352.91h2.40v5.47h-2.40zM130.40 352.91h2.40v5.47h-2.40zM132.80 352.91h2.40v5.47h-2.40zM135.20 352.91h2.40v5.47h-2.40zM137.60 352.91h2.40v5.47h-2.40zM140.00 352.91h2.40v5.47h-2.40zM144.80 352.91h2.40v5.47h-2.40zM149.60 352.91h2.40v5.47h-2.40zM159.20 352.91h2.40v5.47h-2.40zM166.40 352.91h2.40v5.47h-2.40zM171.20 352.91h2.40v5.47h-2.40zM180.80 352.91h2.40v5.47h-2.40zM183.20 352.91h2.40v5.47h-2.40zM197.60 352.91h2.40v5.47h-2.40zM204.80 352.91h2.40v5.47h-2.40zM207.20 352.91h2.40v5.47h-2.40zM209.60 352.91h2.40v5.47h-2.40zM214.40 352.91h2.40v5.47h-2.40zM219.20 352.91h2.40v5.47h-2.40zM221.60 352.91h2.40v5.47h-2.40zM226.40 352.91h2.40v5.47h-2.40zM228.80 352.91h2.40v5.47h-2.40zM231.20 352.91h2.40v5.47h-2.40zM233.60 352.91h2.40v5.47h-2.40zM238.40 352.91h2.40v5.47h-2.40zM243.20 352.91h2.40v5.47h-2.40zM245.60 352.91h2.40v5.47h-2.40zM260.00 352.91h2.40v5.47h-2.40zM264.80 352.91h2.40v5.47h-2.40zM269.60 352.91h2.40v5.47h-2.40zM279.20 352.91h2.40v5.47h-2.40zM281.60 352.91h2.40v5.47h-2.40zM286.40 352.91h2.40v5.47h-2.40zM293.60 352.91h2.40v5.47h-2.40zM303.20 352.91h2.40v5.47h-2.40zM305.60 352.91h2.40v5.47h-2.40zM310.40 352.91h2.40v5.47h-2.40zM312.80 352.91h2.40v5.47h-2.40zM315.20 352.91h2.40v5.47h-2.40zM324.80 352.91h2.40v5.47h-2.40zM327.20 352.91h2.40v5.47h-2.40zM334.40 352.91h2.40v5.47h-2.40zM336.80 352.91h2.40v5.47h-2.40zM344.00 352.91h2.40v5.47h-2.40zM70.40 358.38h2.40v5.47h-2.40zM82.40 358.38h2.40v5.47h-2.40zM84.80 358.38h2.40v5.47h-2.40zM89.60 358.38h2.40v5.47h-2.40zM111.20 358.38h2.40v5.47h-2.40zM118.40 358.38h2.40v5.47h-2.40zM123.20 358.38h2.40v5.47h-2.40zM132.80 358.38h2.40v5.47h-2.40zM142.40 358.38h2.40v5.47h-2.40zM144.80 358.38h2.40v5.47h-2.40zM149.60 358.38h2.40v5.47h-2.40zM156.80 358.38h2.40v5.47h-2.40zM164.00 358.38h2.40v5.47h-2.40zM173.60 358.38h2.40v5.47h-2.40zM200.00 358.38h2.40v5.47h-2.40zM209.60 358.38h2.40v5.47h-2.40zM216.80 358.38h2.40v5.47h-2.40zM219.20 358.38h2.40v5.47h-2.40zM231.20 358.38h2.40v5.47h-2.40zM238.40 358.38h2.40v5.47h-2.40zM245.60 358.38h2.40v5.47h-2.40zM250.40 358.38h2.40v5.47h-2.40zM269.60 358.38h2.40v5.47h-2.40zM279.20 358.38h2.40v5.47h-2.40zM286.40 358.38h2.40v5.47h-2.40zM291.20 358.38h2.40v5.47h-2.40zM293.60 358.38h2.40v5.47h-2.40zM298.40 358.38h2.40v5.47h-2.40zM303.20 358.38h2.40v5.47h-2.40zM315.20 358.38h2.40v5.47h-2.40zM324.80 358.38h2.40v5.47h-2.40zM332.00 358.38h2.40v5.47h-2.40zM344.00 358.38h2.40v5.47h-2.40zM75.20 363.85h2.40v5.47h-2.40zM80.00 363.85h2.40v5.47h-2.40zM92.00 363.85h2.40v5.47h-2.40zM108.80 363.85h2.40v5.47h-2.40zM116.00 363.85h2.40v5.47h-2.40zM123.20 363.85h2.40v5.47h-2.40zM142.40 363.85h2.40v5.47h-2.40zM154.40 363.85h2.40v5.47h-2.40zM156.80 363.85h2.40v5.47h-2.40zM164.00 363.85h2.40v5.47h-2.40zM173.60 363.85h2.40v5.47h-2.40zM180.80 363.85h2.40v5.47h-2.40zM183.20 363.85h2.40v5.47h-2.40zM192.80 363.85h2.40v5.47h-2.40zM195.20 363.85h2.40v5.47h-2.40zM202.40 363.85h2.40v5.47h-2.40zM209.60 363.85h2.40v5.47h-2.40zM226.40 363.85h2.40v5.47h-2.40zM233.60 363.85h2.40v5.47h-2.40zM236.00 363.85h2.40v5.47h-2.40zM240.80 363.85h2.40v5.47h-2.40zM243.20 363.85h2.40v5.47h-2.40zM250.40 363.85h2.40v5.47h-2.40zM260.00 363.85h2.40v5.47h-2.40zM267.20 363.85h2.40v5.47h-2.40zM274.40 363.85h2.40v5.47h-2.40zM276.80 363.85h2.40v5.47h-2.40zM279.20 363.85h2.40v5.47h-2.40zM296.00 363.85h2.40v5.47h-2.40zM305.60 363.85h2.40v5.47h-2.40zM310.40 363.85h2.40v5.47h-2.40zM315.20 363.85h2.40v5.47h-2.40zM317.60 363.85h2.40v5.47h-2.40zM322.40 363.85h2.40v5.47h-2.40zM334.40 363.85h2.40v5.47h-2.40zM339.20 363.85h2.40v5.47h-2.40zM70.40 374.79h2.40v5.47h-2.40zM82.40 374.79h2.40v5.47h-2.40zM89.60 374.79h2.40v5.47h-2.40zM96.80 374.79h2.40v5.47h-2.40zM101.60 374.79h2.40v5.47h-2.40zM106.40 374.79h2.40v5.47h-2.40zM108.80 374.79h2.40v5.47h-2.40zM123.20 374.79h2.40v5.47h-2.40zM132.80 374.79h2.40v5.47h-2.40zM142.40 374.79h2.40v5.47h-2.40zM149.60 374.79h2.40v5.47h-2.40zM168.80 374.79h2.40v5.47h-2.40zM171.20 374.79h2.40v5.47h-2.40zM176.00 374.79h2.40v5.47h-2.40zM190.40 374.79h2.40v5.47h-2.40zM195.20 374.79h2.40v5.47h-2.40zM209.60 374.79h2.40v5.47h-2.40zM219.20 374.79h2.40v5.47h-2.40zM233.60 374.79h2.40v5.47h-2.40zM236.00 374.79h2.40v5.47h-2.40zM240.80 374.79h2.40v5.47h-2.40zM248.00 374.79h2.40v5.47h-2.40zM257.60 374.79h2.40v5.47h-2.40zM269.60 374.79h2.40v5.47h-2.40zM288.80 374.79h2.40v5.47h-2.40zM291.20 374.79h2.40v5.47h-2.40zM308.00 374.79h2.40v5.47h-2.40zM320.00 374.79h2.40v5.47h-2.40zM322.40 374.79h2.40v5.47h-2.40zM327.20 374.79h2.40v5.47h-2.40zM329.60 374.79h2.40v5.47h-2.40zM332.00 374.79h2.40v5.47h-2.40zM339.20 374.79h2.40v5.47h-2.40zM99.20 380.26h2.40v5.47h-2.40zM113.60 380.26h2.40v5.47h-2.40zM116.00 380.26h2.40v5.47h-2.40zM120.80 380.26h2.40v5.47h-2.40zM137.60 380.26h2.40v5.47h-2.40zM149.60 380.26h2.40v5.47h-2.40zM166.40 380.26h2.40v5.47h-2.40zM168.80 380.26h2.40v5.47h-2.40zM171.20 380.26h2.40v5.47h-2.40zM176.00 380.26h2.40v5.47h-2.40zM185.60 380.26h2.40v5.47h-2.40zM228.80 380.26h2.40v5.47h-2.40zM231.20 380.26h2.40v5.47h-2.40zM236.00 380.26h2.40v5.47h-2.40zM252.80 380.26h2.40v5.47h-2.40zM255.20 380.26h2.40v5.47h-2.40zM264.80 380.26h2.40v5.47h-2.40zM281.60 380.26h2.40v5.47h-2.40zM296.00 380.26h2.40v5.47h-2.40zM298.40 380.26h2.40v5.47h-2.40zM312.80 380.26h2.40v5.47h-2.40zM315.20 380.26h2.40v5.47h-2.40zM317.60 380.26h2.40v5.47h-2.40zM336.80 380.26h2.40v5.47h-2.40zM344.00 380.26h2.40v5.47h-2.40z"/>
<path fill="#ff7100" d="M118.40 281.80h2.40v5.47h-2.40zM120.80 281.80h2.40v5.47h-2.40zM137.60 281.80h2.40v5.47h-2.40zM144.80 281.80h2.40v5.47h-2.40zM154.40 281.80h2.40v5.47h-2.40zM156.80 281.80h2.40v5.47h-2.40zM166.40 281.80h2.40v5.47h-2.40zM185.60 281.80h2.40v5.47h-2.40zM207.20 281.80h2.40v5.47h-2.40zM219.20 281.80h2.40v5.47h-2.40zM224.00 281.80h2.40v5.47h-2.40zM245.60 281.80h2.40v5.47h-2.40zM252.80 281.80h2.40v5.47h-2.40zM298.40 281.80h2.40v5.47h-2.40zM72.80 287.27h2.40v5.47h-2.40zM77.60 287.27h2.40v5.47h-2.40zM89.60 287.27h2.40v5.47h-2.40zM123.20 287.27h2.40v5.47h-2.40zM149.60 287.27h2.40v5.47h-2.40zM156.80 287.27h2.40v5.47h-2.40zM207.20 287.27h2.40v5.47h-2.40zM219.20 287.27h2.40v5.47h-2.40zM228.80 287.27h2.40v5.47h-2.40zM231.20 287.27h2.40v5.47h-2.40zM260.00 287.27h2.40v5.47h-2.40zM267.20 287.27h2.40v5.47h-2.40zM284.00 287.27h2.40v5.47h-2.40zM298.40 287.27h2.40v5.47h-2.40zM303.20 287.27h2.40v5.47h-2.40zM315.20 287.27h2.40v5.47h-2.40zM329.60 287.27h2.40v5.47h-2.40zM72.80 292.74h2.40v5.47h-2.40zM77.60 292.74h2.40v5.47h-2.40zM84.80 292.74h2.40v5.47h-2.40zM106.40 292.74h2.40v5.47h-2.40zM118.40 292.74h2.40v5.47h-2.40zM123.20 292.74h2.40v5.47h-2.40zM152.00 292.74h2.40v5.47h-2.40zM154.40 292.74h2.40v5.47h-2.40zM166.40 292.74h2.40v5.47h-2.40zM168.80 292.74h2.40v5.47h-2.40zM188.00 292.74h2.40v5.47h-2.40zM190.40 292.74h2.40v5.47h-2.40zM192.80 292.74h2.40v5.47h-2.40zM221.60 292.74h2.40v5.47h-2.40zM228.80 292.74h2.40v5.47h-2.40zM233.60 292.74h2.40v5.47h-2.40zM236.00 292.74h2.40v5.47h-2.40zM248.00 292.74h2.40v5.47h-2.40zM291.20 292.74h2.40v5.47h-2.40zM298.40 292.74h2.40v5.47h-2.40zM336.80 292.74h2.40v5.47h-2.40zM339.20 292.74h2.40v5.47h-2.40zM65.60 298.21h2.40v5.47h-2.40zM75.20 298.21h2.40v5.47h-2.40zM87.20 298.21h2.40v5.47h-2.40zM89.60 298.21h2.40v5.47h-2.40zM96.80 298.21h2.40v5.47h-2.40zM104.00 298.21h2.40v5.47h-2.40zM128.00 298.21h2.40v5.47h-2.40zM171.20 298.21h2.40v5.47h-2.40zM197.60 298.21h2.40v5.47h-2.40zM209.60 298.21h2.40v5.47h-2.40zM231.20 298.21h2.40v5.47h-2.40zM252.80 298.21h2.40v5.47h-2.40zM276.80 298.21h2.40v5.47h-2.40zM293.60 298.21h2.40v5.47h-2.40zM334.40 298.21h2.40v5.47h-2.40zM82.40 303.68h2.40v5.47h-2.40zM116.00 303.68h2.40v5.47h-2.40zM132.80 303.68h2.40v5.47h-2.40zM144.80 303.68h2.40v5.47h-2.40zM156.80 303.68h2.40v5.47h-2.40zM214.40 303.68h2.40v5.47h-2.40zM219.20 303.68h2.40v5.47h-2.40zM226.40 303.68h2.40v5.47h-2.40zM231.20 303.68h2.40v5.47h-2.40zM238.40 303.68h2.40v5.47h-2.40zM248.00 303.68h2.40v5.47h-2.40zM267.20 303.68h2.40v5.47h-2.40zM317.60 303.68h2.40v5.47h-2.40zM336.80 303.68h2.40v5.47h-2.40zM68.00 309.15h2.40v5.47h-2.40zM96.80 309.15h2.40v5.47h-2.40zM137.60 309.15h2.40v5.47h-2.40zM192.80 309.15h2.40v5.47h-2.40zM248.00 309.15h2.40v5.47h-2.40zM324.80 309.15h2.40v5.47h-2.40zM341.60 309.15h2.40v5.47h-2.40zM65.60 314.62h2.40v5.47h-2.40zM68.00 314.62h2.40v5.47h-2.40zM80.00 314.62h2.40v5.47h-2.40zM96.80 314.62h2.40v5.47h-2.40zM120.80 314.62h2.40v5.47h-2.40zM137.60 314.62h2.40v5.47h-2.40zM152.00 314.62h2.40v5.47h-2.40zM156.80 314.62h2.40v5.47h-2.40zM161.60 314.62h2.40v5.47h-2.40zM173.60 314.62h2.40v5.47h-2.40zM185.60 314.62h2.40v5.47h-2.40zM197.60 314.62h2.40v5.47h-2.40zM212.00 314.62h2.40v5.47h-2.40zM250.40 314.62h2.40v5.47h-2.40zM279.20 314.62h2.40v5.47h-2.40zM293.60 314.62h2.40v5.47h-2.40zM315.20 314.62h2.40v5.47h-2.40zM320.00 314.62h2.40v5.47h-2.40zM329.60 314.62h2.40v5.47h-2.40zM339.20 314.62h2.40v5.47h-2.40zM89.60 320.09h2.40v5.47h-2.40zM96.80 320.09h2.40v5.47h-2.40zM106.40 320.09h2.40v5.47h-2.40zM159.20 320.09h2.40v5.47h-2.40zM183.20 320.09h2.40v5.47h-2.40zM188.00 320.09h2.40v5.47h-2.40zM212.00 320.09h2.40v5.47h-2.40zM233.60 320.09h2.40v5.47h-2.40zM236.00 320.09h2.40v5.47h-2.40zM252.80 320.09h2.40v5.47h-2.40zM276.80 320.09h2.40v5.47h-2.40zM286.40 320.09h2.40v5.47h-2.40zM293.60 320.09h2.40v5.47h-2.40zM300.80 320.09h2.40v5.47h-2.40zM315.20 320.09h2.40v5.47h-2.40zM317.60 320.09h2.40v5.47h-2.40zM322.40 320.09h2.40v5.47h-2.40zM332.00 320.09h2.40v5.47h-2.40zM334.40 320.09h2.40v5.47h-2.40zM89.60 325.56h2.40v5.47h-2.40zM96.80 325.56h2.40v5.47h-2.40zM99.20 325.56h2.40v5.47h-2.40zM135.20 325.56h2.40v5.47h-2.40zM154.40 325.56h2.40v5.47h-2.40zM156.80 325.56h2.40v5.47h-2.40zM159.20 325.56h2.40v5.47h-2.40zM178.40 325.56h2.40v5.47h-2.40zM183.20 325.56h2.40v5.47h-2.40zM200.00 325.56h2.40v5.47h-2.40zM228.80 325.56h2.40v5.47h-2.40zM231.20 325.56h2.40v5.47h-2.40zM236.00 325.56h2.40v5.47h-2.40zM240.80 325.56h2.40v5.47h-2.40zM252.80 325.56h2.40v5.47h-2.40zM267.20 325.56h2.40v5.47h-2.40zM288.80 325.56h2.40v5.47h-2.40zM291.20 325.56h2.40v5.47h-2.40zM310.40 325.56h2.40v5.47h-2.40zM336.80 325.56h2.40v5.47h-2.40zM75.20 331.03h2.40v5.47h-2.40zM84.80 331.03h2.40v5.47h-2.40zM96.80 331.03h2.40v5.47h-2.40zM113.60 331.03h2.40v5.47h-2.40zM152.00 331.03h2.40v5.47h-2.40zM185.60 331.03h2.40v5.47h-2.40zM200.00 331.03h2.40v5.47h-2.40zM226.40 331.03h2.40v5.47h-2.40zM293.60 331.03h2.40v5.47h-2.40zM310.40 331.03h2.40v5.47h-2.40zM332.00 331.03h2.40v5.47h-2.40zM92.00 336.50h2.40v5.47h-2.40zM94.40 336.50h2.40v5.47h-2.40zM113.60 336.50h2.40v5.47h-2.40zM214.40 336.50h2.40v5.47h-2.40zM224.00 336.50h2.40v5.47h-2.40zM243.20 336.50h2.40v5.47h-2.40zM252.80 336.50h2.40v5.47h-2.40zM317.60 336.50h2.40v5.47h-2.40zM327.20 336.50h2.40v5.47h-2.40zM75.20 341.97h2.40v5.47h-2.40zM77.60 341.97h2.40v5.47h-2.40zM106.40 341.97h2.40v5.47h-2.40zM113.60 341.97h2.40v5.47h-2.40zM149.60 341.97h2.40v5.47h-2.40zM168.80 341.97h2.40v5.47h-2.40zM219.20 341.97h2.40v5.47h-2.40zM231.20 341.97h2.40v5.47h-2.40zM233.60 341.97h2.40v5.47h-2.40zM236.00 341.97h2.40v5.47h-2.40zM284.00 341.97h2.40v5.47h-2.40zM293.60 341.97h2.40v5.47h-2.40zM312.80 341.97h2.40v5.47h-2.40zM341.60 341.97h2.40v5.47h-2.40zM344.00 341.97h2.40v5.47h-2.40zM65.60 347.44h2.40v5.47h-2.40zM96.80 347.44h2.40v5.47h-2.40zM120.80 347.44h2.40v5.47h-2.40zM149.60 347.44h2.40v5.47h-2.40zM166.40 347.44h2.40v5.47h-2.40zM178.40 347.44h2.40v5.47h-2.40zM195.20 347.44h2.40v5.47h-2.40zM197.60 347.44h2.40v5.47h-2.40zM207.20 347.44h2.40v5.47h-2.40zM209.60 347.44h2.40v5.47h-2.40zM226.40 347.44h2.40v5.47h-2.40zM228.80 347.44h2.40v5.47h-2.40zM245.60 347.44h2.40v5.47h-2.40zM252.80 347.44h2.40v5.47h-2.40zM255.20 347.44h2.40v5.47h-2.40zM257.60 347.44h2.40v5.47h-2.40zM260.00 347.44h2.40v5.47h-2.40zM291.20 347.44h2.40v5.47h-2.40zM298.40 347.44h2.40v5.47h-2.40zM305.60 347.44h2.40v5.47h-2.40zM310.40 347.44h2.40v5.47h-2.40zM312.80 347.44h2.40v5.47h-2.40zM320.00 347.44h2.40v5.47h-2.40zM329.60 347.44h2.40v5.47h-2.40zM108.80 352.91h2.40v5.47h-2.40zM116.00 352.91h2.40v5.47h-2.40zM156.80 352.91h2.40v5.47h-2.40zM178.40 352.91h2.40v5.47h-2.40zM188.00 352.91h2.40v5.47h-2.40zM190.40 352.91h2.40v5.47h-2.40zM195.20 352.91h2.40v5.47h-2.40zM202.40 352.91h2.40v5.47h-2.40zM291.20 352.91h2.40v5.47h-2.40zM298.40 352.91h2.40v5.47h-2.40zM317.60 352.91h2.40v5.47h-2.40zM72.80 358.38h2.40v5.47h-2.40zM87.20 358.38h2.40v5.47h-2.40zM96.80 358.38h2.40v5.47h-2.40zM130.40 358.38h2.40v5.47h-2.40zM159.20 358.38h2.40v5.47h-2.40zM171.20 358.38h2.40v5.47h-2.40zM190.40 358.38h2.40v5.47h-2.40zM195.20 358.38h2.40v5.47h-2.40zM221.60 358.38h2.40v5.47h-2.40zM224.00 358.38h2.40v5.47h-2.40zM226.40 358.38h2.40v5.47h-2.40zM252.80 358.38h2.40v5.47h-2.40zM296.00 358.38h2.40v5.47h-2.40zM300.80 358.38h2.40v5.47h-2.40zM310.40 358.38h2.40v5.47h-2.40zM322.40 358.38h2.40v5.47h-2.40zM329.60 358.38h2.40v5.47h-2.40zM334.40 358.38h2.40v5.47h-2.40zM339.20 358.38h2.40v5.47h-2.40zM84.80 363.85h2.40v5.47h-2.40zM87.20 363.85h2.40v5.47h-2.40zM99.20 363.85h2.40v5.47h-2.40zM118.40 363.85h2.40v5.47h-2.40zM130.40 363.85h2.40v5.47h-2.40zM137.60 363.85h2.40v5.47h-2.40zM159.20 363.85h2.40v5.47h-2.40zM166.40 363.85h2.40v5.47h-2.40zM190.40 363.85h2.40v5.47h-2.40zM197.60 363.85h2.40v5.47h-2.40zM281.60 363.85h2.40v5.47h-2.40zM284.00 363.85h2.40v5.47h-2.40zM286.40 363.85h2.40v5.47h-2.40zM80.00 374.79h2.40v5.47h-2.40zM120.80 374.79h2.40v5.47h-2.40zM135.20 374.79h2.40v5.47h-2.40zM140.00 374.79h2.40v5.47h-2.40zM154.40 374.79h2.40v5.47h-2.40zM161.60 374.79h2.40v5.47h-2.40zM164.00 374.79h2.40v5.47h-2.40zM166.40 374.79h2.40v5.47h-2.40zM192.80 374.79h2.40v5.47h-2.40zM212.00 374.79h2.40v5.47h-2.40zM216.80 374.79h2.40v5.47h-2.40zM238.40 374.79h2.40v5.47h-2.40zM245.60 374.79h2.40v5.47h-2.40zM252.80 374.79h2.40v5.47h-2.40zM274.40 374.79h2.40v5.47h-2.40zM310.40 374.79h2.40v5.47h-2.40zM312.80 374.79h2.40v5.47h-2.40zM334.40 374.79h2.40v5.47h-2.40zM336.80 374.79h2.40v5.47h-2.40zM77.60 380.26h2.40v5.47h-2.40zM80.00 380.26h2.40v5.47h-2.40zM82.40 380.26h2.40v5.47h-2.40zM111.20 380.26h2.40v5.47h-2.40zM140.00 380.26h2.40v5.47h-2.40zM152.00 380.26h2.40v5.47h-2.40zM159.20 380.26h2.40v5.47h-2.40zM178.40 380.26h2.40v5.47h-2.40zM200.00 380.26h2.40v5.47h-2.40zM209.60 380.26h2.40v5.47h-2.40zM221.60 380.26h2.40v5.47h-2.40zM257.60 380.26h2.40v5.47h-2.40zM272.00 380.26h2.40v5.47h-2.40zM288.80 380.26h2.40v5.47h-2.40zM324.80 380.26h2.40v5.47h-2.40z"/>
<path fill="#fffe00" d="M72.80 281.80h2.40v5.47h-2.40zM75.20 281.80h2.40v5.47h-2.40zM84.80 281.80h2.40v5.47h-2.40zM104.00 281.80h2.40v5.47h-2.40zM108.80 281.80h2.40v5.47h-2.40zM130.40 281.80h2.40v5.47h-2.40zM140.00 281.80h2.40v5.47h-2.40zM161.60 281.80h2.40v5.47h-2.40zM164.00 281.80h2.40v5.47h-2.40zM171.20 281.80h2.40v5.47h-2.40zM173.60 281.80h2.40v5.47h-2.40zM183.20 281.80h2.40v5.47h-2.40zM204.80 281.80h2.40v5.47h-2.40zM209.60 281.80h2.40v5.47h-2.40zM243.20 281.80h2.40v5.47h-2.40zM250.40 281.80h2.40v5.47h-2.40zM281.60 281.80h2.40v5.47h-2.40zM286.40 281.80h2.40v5.47h-2.40zM288.80 281.80h2.40v5.47h-2.40zM315.20 281.80h2.40v5.47h-2.40zM322.40 281.80h2.40v5.47h-2.40zM332.00 281.80h2.40v5.47h-2.40zM341.60 281.80h2.40v5.47h-2.40zM82.40 287.27h2.40v5.47h-2.40zM92.00 287.27h2.40v5.47h-2.40zM111.20 287.27h2.40v5.47h-2.40zM125.60 287.27h2.40v5.47h-2.40zM140.00 287.27h2.40v5.47h-2.40zM154.40 287.27h2.40v5.47h-2.40zM171.20 287.27h2.40v5.47h-2.40zM188.00 287.27h2.40v5.47h-2.40zM192.80 287.27h2.40v5.47h-2.40zM195.20 287.27h2.40v5.47h-2.40zM216.80 287.27h2.40v5.47h-2.40zM240.80 287.27h2.40v5.47h-2.40zM243.20 287.27h2.40v5.47h-2.40zM245.60 287.27h2.40v5.47h-2.40zM248.00 287.27h2.40v5.47h-2.40zM264.80 287.27h2.40v5.47h-2.40zM269.60 287.27h2.40v5.47h-2.40zM272.00 287.27h2.40v5.47h-2.40zM291.20 287.27h2.40v5.47h-2.40zM308.00 287.27h2.40v5.47h-2.40zM322.40 287.27h2.40v5.47h-2.40zM324.80 287.27h2.40v5.47h-2.40zM334.40 287.27h2.40v5.47h-2.40zM65.60 292.74h2.40v5.47h-2.40zM70.40 292.74h2.40v5.47h-2.40zM75.20 292.74h2.40v5.47h-2.40zM80.00 292.74h2.40v5.47h-2.40zM82.40 292.74h2.40v5.47h-2.40zM87.20 292.74h2.40v5.47h-2.40zM104.00 292.74h2.40v5.47h-2.40zM111.20 292.74h2.40v5.47h-2.40zM113.60 292.74h2.40v5.47h-2.40zM116.00 292.74h2.40v5.47h-2.40zM144.80 292.74h2.40v5.47h-2.40zM149.60 292.74h2.40v5.47h-2.40zM159.20 292.74h2.40v5.47h-2.40zM161.60 292.74h2.40v5.47h-2.40zM176.00 292.74h2.40v5.47h-2.40zM197.60 292.74h2.40v5.47h-2.40zM202.40 292.74h2.40v5.47h-2.40zM207.20 292.74h2.40v5.47h-2.40zM214.40 292.74h2.40v5.47h-2.40zM224.00 292.74h2.40v5.47h-2.40zM231.20 292.74h2.40v5.47h-2.40zM250.40 292.74h2.40v5.47h-2.40zM267.20 292.74h2.40v5.47h-2.40zM276.80 292.74h2.40v5.47h-2.40zM293.60 292.74h2.40v5.47h-2.40zM320.00 292.74h2.40v5.47h-2.40zM322.40 292.74h2.40v5.47h-2.40zM70.40 298.21h2.40v5.47h-2.40zM92.00 298.21h2.40v5.47h-2.40zM94.40 298.21h2.40v5.47h-2.40zM99.20 298.21h2.40v5.47h-2.40zM111.20 298.21h2.40v5.47h-2.40zM123.20 298.21h2.40v5.47h-2.40zM125.60 298.21h2.40v5.47h-2.40zM130.40 298.21h2.40v5.47h-2.40zM142.40 298.21h2.40v5.47h-2.40zM161.60 298.21h2.40v5.47h-2.40zM173.60 298.21h2.40v5.47h-2.40zM178.40 298.21h2.40v5.47h-2.40zM183.20 298.21h2.40v5.47h-2.40zM195.20 298.21h2.40v5.47h-2.40zM204.80 298.21h2.40v5.47h-2.40zM233.60 298.21h2.40v5.47h-2.40zM238.40 298.21h2.40v5.47h-2.40zM240.80 298.21h2.40v5.47h-2.40zM250.40 298.21h2.40v5.47h-2.40zM260.00 298.21h2.40v5.47h-2.40zM264.80 298.21h2.40v5.47h-2.40zM281.60 298.21h2.40v5.47h-2.40zM296.00 298.21h2.40v5.47h-2.40zM308.00 298.21h2.40v5.47h-2.40zM312.80 298.21h2.40v5.47h-2.40zM315.20 298.21h2.40v5.47h-2.40zM320.00 298.21h2.40v5.47h-2.40zM324.80 298.21h2.40v5.47h-2.40zM332.00 298.21h2.40v5.47h-2.40zM341.60 298.21h2.40v5.47h-2.40zM87.20 303.68h2.40v5.47h-2.40zM89.60 303.68h2.40v5.47h-2.40zM92.00 303.68h2.40v5.47h-2.40zM111.20 303.68h2.40v5.47h-2.40zM118.40 303.68h2.40v5.47h-2.40zM135.20 303.68h2.40v5.47h-2.40zM137.60 303.68h2.40v5.47h-2.40zM142.40 303.68h2.40v5.47h-2.40zM188.00 303.68h2.40v5.47h-2.40zM200.00 303.68h2.40v5.47h-2.40zM209.60 303.68h2.40v5.47h-2.40zM216.80 303.68h2.40v5.47h-2.40zM224.00 303.68h2.40v5.47h-2.40zM240.80 303.68h2.40v5.47h-2.40zM243.20 303.68h2.40v5.47h-2.40zM255.20 303.68h2.40v5.47h-2.40zM274.40 303.68h2.40v5.47h-2.40zM332.00 303.68h2.40v5.47h-2.40zM334.40 303.68h2.40v5.47h-2.40zM341.60 303.68h2.40v5.47h-2.40zM72.80 309.15h2.40v5.47h-2.40zM77.60 309.15h2.40v5.47h-2.40zM130.40 309.15h2.40v5.47h-2.40zM144.80 309.15h2.40v5.47h-2.40zM166.40 309.15h2.40v5.47h-2.40zM173.60 309.15h2.40v5.47h-2.40zM188.00 309.15h2.40v5.47h-2.40zM195.20 309.15h2.40v5.47h-2.40zM233.60 309.15h2.40v5.47h-2.40zM281.60 309.15h2.40v5.47h-2.40zM284.00 309.15h2.40v5.47h-2.40zM312.80 309.15h2.40v5.47h-2.40zM315.20 309.15h2.40v5.47h-2.40zM77.60 314.62h2.40v5.47h-2.40zM82.40 314.62h2.40v5.47h-2.40zM87.20 314.62h2.40v5.47h-2.40zM99.20 314.62h2.40v5.47h-2.40zM106.40 314.62h2.40v5.47h-2.40zM123.20 314.62h2.40v5.47h-2.40zM149.60 314.62h2.40v5.47h-2.40zM159.20 314.62h2.40v5.47h-2.40zM166.40 314.62h2.40v5.47h-2.40zM183.20 314.62h2.40v5.47h-2.40zM200.00 314.62h2.40v5.47h-2.40zM219.20 314.62h2.40v5.47h-2.40zM238.40 314.62h2.40v5.47h-2.40zM260.00 314.62h2.40v5.47h-2.40zM300.80 314.62h2.40v5.47h-2.40zM341.60 314.62h2.40v5.47h-2.40zM65.60 320.09h2.40v5.47h-2.40zM68.00 320.09h2.40v5.47h-2.40zM72.80 320.09h2.40v5.47h-2.40zM108.80 320.09h2.40v5.47h-2.40zM120.80 320.09h2.40v5.47h-2.40zM123.20 320.09h2.40v5.47h-2.40zM128.00 320.09h2.40v5.47h-2.40zM140.00 320.09h2.40v5.47h-2.40zM149.60 320.09h2.40v5.47h-2.40zM164.00 320.09h2.40v5.47h-2.40zM166.40 320.09h2.40v5.47h-2.40zM192.80 320.09h2.40v5.47h-2.40zM209.60 320.09h2.40v5.47h-2.40zM240.80 320.09h2.40v5.47h-2.40zM245.60 320.09h2.40v5.47h-2.40zM248.00 320.09h2.40v5.47h-2.40zM255.20 320.09h2.40v5.47h-2.40zM264.80 320.09h2.40v5.47h-2.40zM267.20 320.09h2.40v5.47h-2.40zM303.20 320.09h2.40v5.47h-2.40zM305.60 320.09h2.40v5.47h-2.40zM308.00 320.09h2.40v5.47h-2.40zM320.00 320.09h2.40v5.47h-2.40zM324.80 320.09h2.40v5.47h-2.40zM327.20 320.09h2.40v5.47h-2.40zM329.60 320.09h2.40v5.47h-2.40zM65.60 325.56h2.40v5.47h-2.40zM68.00 325.56h2.40v5.47h-2.40zM92.00 325.56h2.40v5.47h-2.40zM94.40 325.56h2.40v5.47h-2.40zM123.20 325.56h2.40v5.47h-2.40zM128.00 325.56h2.40v5.47h-2.40zM161.60 325.56h2.40v5.47h-2.40zM190.40 325.56h2.40v5.47h-2.40zM192.80 325.56h2.40v5.47h-2.40zM197.60 325.56h2.40v5.47h-2.40zM226.40 325.56h2.40v5.47h-2.40zM233.60 325.56h2.40v5.47h-2.40zM250.40 325.56h2.40v5.47h-2.40zM255.20 325.56h2.40v5.47h-2.40zM284.00 325.56h2.40v5.47h-2.40zM296.00 325.56h2.40v5.47h-2.40zM298.40 325.56h2.40v5.47h-2.40zM303.20 325.56h2.40v5.47h-2.40zM334.40 325.56h2.40v5.47h-2.40zM89.60 331.03h2.40v5.47h-2.40zM99.20 331.03h2.40v5.47h-2.40zM140.00 331.03h2.40v5.47h-2.40zM154.40 331.03h2.40v5.47h-2.40zM168.80 331.03h2.40v5.47h-2.40zM173.60 331.03h2.40v5.47h-2.40zM183.20 331.03h2.40v5.47h-2.40zM231.20 331.03h2.40v5.47h-2.40zM236.00 331.03h2.40v5.47h-2.40zM250.40 331.03h2.40v5.47h-2.40zM260.00 331.03h2.40v5.47h-2.40zM267.20 331.03h2.40v5.47h-2.40zM286.40 331.03h2.40v5.47h-2.40zM296.00 331.03h2.40v5.47h-2.40zM308.00 331.03h2.40v5.47h-2.40zM312.80 331.03h2.40v5.47h-2.40zM322.40 331.03h2.40v5.47h-2.40zM341.60 331.03h2.40v5.47h-2.40zM166.40 336.50h2.40v5.47h-2.40zM176.00 336.50h2.40v5.47h-2.40zM188.00 336.50h2.40v5.47h-2.40zM197.60 336.50h2.40v5.47h-2.40zM228.80 336.50h2.40v5.47h-2.40zM245.60 336.50h2.40v5.47h-2.40zM250.40 336.50h2.40v5.47h-2.40zM279.20 336.50h2.40v5.47h-2.40zM284.00 336.50h2.40v5.47h-2.40zM296.00 336.50h2.40v5.47h-2.40zM305.60 336.50h2.40v5.47h-2.40zM65.60 341.97h2.40v5.47h-2.40zM70.40 341.97h2.40v5.47h-2.40zM82.40 341.97h2.40v5.47h-2.40zM84.80 341.97h2.40v5.47h-2.40zM89.60 341.97h2.40v5.47h-2.40zM108.80 341.97h2.40v5.47h-2.40zM111.20 341.97h2.40v5.47h-2.40zM116.00 341.97h2.40v5.47h-2.40zM142.40 341.97h2.40v5.47h-2.40zM144.80 341.97h2.40v5.47h-2.40zM152.00 341.97h2.40v5.47h-2.40zM154.40 341.97h2.40v5.47h-2.40zM156.80 341.97h2.40v5.47h-2.40zM176.00 341.97h2.40v5.47h-2.40zM202.40 341.97h2.40v5.47h-2.40zM216.80 341.97h2.40v5.47h-2.40zM240.80 341.97h2.40v5.47h-2.40zM243.20 341.97h2.40v5.47h-2.40zM260.00 341.97h2.40v5.47h-2.40zM286.40 341.97h2.40v5.47h-2.40zM300.80 341.97h2.40v5.47h-2.40zM305.60 341.97h2.40v5.47h-2.40zM317.60 341.97h2.40v5.47h-2.40zM324.80 341.97h2.40v5.47h-2.40zM327.20 341.97h2.40v5.47h-2.40zM332.00 341.97h2.40v5.47h-2.40zM334.40 341.97h2.40v5.47h-2.40zM82.40 347.44h2.40v5.47h-2.40zM92.00 347.44h2.40v5.47h-2.40zM94.40 347.44h2.40v5.47h-2.40zM99.20 347.44h2.40v5.47h-2.40zM106.40 347.44h2.40v5.47h-2.40zM113.60 347.44h2.40v5.47h-2.40zM137.60 347.44h2.40v5.47h-2.40zM144.80 347.44h2.40v5.47h-2.40zM152.00 347.44h2.40v5.47h-2.40zM164.00 347.44h2.40v5.47h-2.40zM185.60 347.44h2.40v5.47h-2.40zM204.80 347.44h2.40v5.47h-2.40zM240.80 347.44h2.40v5.47h-2.40zM267.20 347.44h2.40v5.47h-2.40zM269.60 347.44h2.40v5.47h-2.40zM279.20 347.44h2.40v5.47h-2.40zM296.00 347.44h2.40v5.47h-2.40zM300.80 347.44h2.40v5.47h-2.40zM303.20 347.44h2.40v5.47h-2.40zM315.20 347.44h2.40v5.47h-2.40zM77.60 352.91h2.40v5.47h-2.40zM87.20 352.91h2.40v5.47h-2.40zM106.40 352.91h2.40v5.47h-2.40zM111.20 352.91h2.40v5.47h-2.40zM128.00 352.91h2.40v5.47h-2.40zM142.40 352.91h2.40v5.47h-2.40zM152.00 352.91h2.40v5.47h-2.40zM154.40 352.91h2.40v5.47h-2.40zM161.60 352.91h2.40v5.47h-2.40zM164.00 352.91h2.40v5.47h-2.40zM185.60 352.91h2.40v5.47h-2.40zM192.80 352.91h2.40v5.47h-2.40zM200.00 352.91h2.40v5.47h-2.40zM236.00 352.91h2.40v5.47h-2.40zM252.80 352.91h2.40v5.47h-2.40zM267.20 352.91h2.40v5.47h-2.40zM274.40 352.91h2.40v5.47h-2.40zM288.80 352.91h2.40v5.47h-2.40zM296.00 352.91h2.40v5.47h-2.40zM300.80 352.91h2.40v5.47h-2.40zM320.00 352.91h2.40v5.47h-2.40zM332.00 352.91h2.40v5.47h-2.40zM80.00 358.38h2.40v5.47h-2.40zM92.00 358.38h2.40v5.47h-2.40zM101.60 358.38h2.40v5.47h-2.40zM125.60 358.38h2.40v5.47h-2.40zM140.00 358.38h2.40v5.47h-2.40zM152.00 358.38h2.40v5.47h-2.40zM161.60 358.38h2.40v5.47h-2.40zM176.00 358.38h2.40v5.47h-2.40zM180.80 358.38h2.40v5.47h-2.40zM192.80 358.38h2.40v5.47h-2.40zM228.80 358.38h2.40v5.47h-2.40zM240.80 358.38h2.40v5.47h-2.40zM243.20 358.38h2.40v5.47h-2.40zM248.00 358.38h2.40v5.47h-2.40zM274.40 358.38h2.40v5.47h-2.40zM281.60 358.38h2.40v5.47h-2.40zM317.60 358.38h2.40v5.47h-2.40zM320.00 358.38h2.40v5.47h-2.40zM327.20 358.38h2.40v5.47h-2.40zM336.80 358.38h2.40v5.47h-2.40zM89.60 363.85h2.40v5.47h-2.40zM94.40 363.85h2.40v5.47h-2.40zM101.60 363.85h2.40v5.47h-2.40zM106.40 363.85h2.40v5.47h-2.40zM111.20 363.85h2.40v5.47h-2.40zM113.60 363.85h2.40v5.47h-2.40zM120.80 363.85h2.40v5.47h-2.40zM125.60 363.85h2.40v5.47h-2.40zM128.00 363.85h2.40v5.47h-2.40zM135.20 363.85h2.40v5.47h-2.40zM140.00 363.85h2.40v5.47h-2.40zM149.60 363.85h2.40v5.47h-2.40zM161.60 363.85h2.40v5.47h-2.40zM168.80 363.85h2.40v5.47h-2.40zM171.20 363.85h2.40v5.47h-2.40zM176.00 363.85h2.40v5.47h-2.40zM188.00 363.85h2.40v5.47h-2.40zM204.80 363.85h2.40v5.47h-2.40zM207.20 363.85h2.40v5.47h-2.40zM216.80 363.85h2.40v5.47h-2.40zM219.20 363.85h2.40v5.47h-2.40zM228.80 363.85h2.40v5.47h-2.40zM248.00 363.85h2.40v5.47h-2.40zM252.80 363.85h2.40v5.47h-2.40zM264.80 363.85h2.40v5.47h-2.40zM269.60 363.85h2.40v5.47h-2.40zM300.80 363.85h2.40v5.47h-2.40zM312.80 363.85h2.40v5.47h-2.40zM329.60 363.85h2.40v5.47h-2.40zM68.00 374.79h2.40v5.47h-2.40zM72.80 374.79h2.40v5.47h-2.40zM116.00 374.79h2.40v5.47h-2.40zM118.40 374.79h2.40v5.47h-2.40zM125.60 374.79h2.40v5.47h-2.40zM137.60 374.79h2.40v5.47h-2.40zM156.80 374.79h2.40v5.47h-2.40zM159.20 374.79h2.40v5.47h-2.40zM185.60 374.79h2.40v5.47h-2.40zM250.40 374.79h2.40v5.47h-2.40zM255.20 374.79h2.40v5.47h-2.40zM264.80 374.79h2.40v5.47h-2.40zM272.00 374.79h2.40v5.47h-2.40zM281.60 374.79h2.40v5.47h-2.40zM298.40 374.79h2.40v5.47h-2.40zM300.80 374.79h2.40v5.47h-2.40zM303.20 374.79h2.40v5.47h-2.40zM315.20 374.79h2.40v5.47h-2.40zM324.80 374.79h2.40v5.47h-2.40zM72.80 380.26h2.40v5.47h-2.40zM84.80 380.26h2.40v5.47h-2.40zM94.40 380.26h2.40v5.47h-2.40zM96.80 380.26h2.40v5.47h-2.40zM106.40 380.26h2.40v5.47h-2.40zM118.40 380.26h2.40v5.47h-2.40zM135.20 380.26h2.40v5.47h-2.40zM154.40 380.26h2.40v5.47h-2.40zM156.80 380.26h2.40v5.47h-2.40zM180.80 380.26h2.40v5.47h-2.40zM195.20 380.26h2.40v5.47h-2.40zM214.40 380.26h2.40v5.47h-2.40zM267.20 380.26h2.40v5.47h-2.40zM276.80 380.26h2.40v5.47h-2.40zM327.20 380.26h2.40v5.47h-2.40zM334.40 380.26h2.40v5.47h-2.40zM341.60 380.26h2.40v5.47h-2.40z"/>
<path fill="#ffffff" d="M96.80 281.80h2.40v5.47h-2.40zM113.60 281.80h2.40v5.47h-2.40zM116.00 281.80h2.40v5.47h-2.40zM159.20 281.80h2.40v5.47h-2.40zM195.20 281.80h2.40v5.47h-2.40zM197.60 281.80h2.40v5.47h-2.40zM221.60 281.80h2.40v5.47h-2.40zM231.20 281.80h2.40v5.47h-2.40zM240.80 281.80h2.40v5.47h-2.40zM255.20 281.80h2.40v5.47h-2.40zM272.00 281.80h2.40v5.47h-2.40zM276.80 281.80h2.40v5.47h-2.40zM291.20 281.80h2.40v5.47h-2.40zM305.60 281.80h2.40v5.47h-2.40zM308.00 281.80h2.40v5.47h-2.40zM334.40 281.80h2.40v5.47h-2.40zM336.80 281.80h2.40v5.47h-2.40zM75.20 287.27h2.40v5.47h-2.40zM101.60 287.27h2.40v5.47h-2.40zM116.00 287.27h2.40v5.47h-2.40zM118.40 287.27h2.40v5.47h-2.40zM152.00 287.27h2.40v5.47h-2.40zM178.40 287.27h2.40v5.47h-2.40zM180.80 287.27h2.40v5.47h-2.40zM190.40 287.27h2.40v5.47h-2.40zM221.60 287.27h2.40v5.47h-2.40zM226.40 287.27h2.40v5.47h-2.40zM238.40 287.27h2.40v5.47h-2.40zM250.40 287.27h2.40v5.47h-2.40zM252.80 287.27h2.40v5.47h-2.40zM257.60 287.27h2.40v5.47h-2.40zM279.20 287.27h2.40v5.47h-2.40zM281.60 287.27h2.40v5.47h-2.40zM286.40 287.27h2.40v5.47h-2.40zM296.00 287.27h2.40v5.47h-2.40zM300.80 287.27h2.40v5.47h-2.40zM310.40 287.27h2.40v5.47h-2.40zM339.20 287.27h2.40v5.47h-2.40zM89.60 292.74h2.40v5.47h-2.40zM101.60 292.74h2.40v5.47h-2.40zM137.60 292.74h2.40v5.47h-2.40zM212.00 292.74h2.40v5.47h-2.40zM238.40 292.74h2.40v5.47h-2.40zM245.60 292.74h2.40v5.47h-2.40zM257.60 292.74h2.40v5.47h-2.40zM286.40 292.74h2.40v5.47h-2.40zM332.00 292.74h2.40v5.47h-2.40zM341.60 292.74h2.40v5.47h-2.40zM77.60 298.21h2.40v5.47h-2.40zM120.80 298.21h2.40v5.47h-2.40zM132.80 298.21h2.40v5.47h-2.40zM135.20 298.21h2.40v5.47h-2.40zM137.60 298.21h2.40v5.47h-2.40zM144.80 298.21h2.40v5.47h-2.40zM152.00 298.21h2.40v5.47h-2.40zM200.00 298.21h2.40v5.47h-2.40zM212.00 298.21h2.40v5.47h-2.40zM226.40 298.21h2.40v5.47h-2.40zM228.80 298.21h2.40v5.47h-2.40zM243.20 298.21h2.40v5.47h-2.40zM248.00 298.21h2.40v5.47h-2.40zM272.00 298.21h2.40v5.47h-2.40zM274.40 298.21h2.40v5.47h-2.40zM284.00 298.21h2.40v5.47h-2.40zM310.40 298.21h2.40v5.47h-2.40zM65.60 303.68h2.40v5.47h-2.40zM72.80 303.68h2.40v5.47h-2.40zM75.20 303.68h2.40v5.47h-2.40zM161.60 303.68h2.40v5.47h-2.40zM164.00 303.68h2.40v5.47h-2.40zM173.60 303.68h2.40v5.47h-2.40zM178.40 303.68h2.40v5.47h-2.40zM183.20 303.68h2.40v5.47h-2.40zM204.80 303.68h2.40v5.47h-2.40zM233.60 303.68h2.40v5.47h-2.40zM284.00 303.68h2.40v5.47h-2.40zM291.20 303.68h2.40v5.47h-2.40zM296.00 303.68h2.40v5.47h-2.40zM300.80 303.68h2.40v5.47h-2.40zM315.20 303.68h2.40v5.47h-2.40zM322.40 303.68h2.40v5.47h-2.40zM324.80 303.68h2.40v5.47h-2.40zM329.60 303.68h2.40v5.47h-2.40zM84.80 309.15h2.40v5.47h-2.40zM87.20 309.15h2.40v5.47h-2.40zM111.20 309.15h2.40v5.47h-2.40zM113.60 309.15h2.40v5.47h-2.40zM123.20 309.15h2.40v5.47h-2.40zM125.60 309.15h2.40v5.47h-2.40zM142.40 309.15h2.40v5.47h-2.40zM154.40 309.15h2.40v5.47h-2.40zM164.00 309.15h2.40v5.47h-2.40zM180.80 309.15h2.40v5.47h-2.40zM202.40 309.15h2.40v5.47h-2.40zM212.00 309.15h2.40v5.47h-2.40zM214.40 309.15h2.40v5.47h-2.40zM224.00 309.15h2.40v5.47h-2.40zM226.40 309.15h2.40v5.47h-2.40zM250.40 309.15h2.40v5.47h-2.40zM252.80 309.15h2.40v5.47h-2.40zM296.00 309.15h2.40v5.47h-2.40zM303.20 309.15h2.40v5.47h-2.40zM305.60 309.15h2.40v5.47h-2.40zM70.40 314.62h2.40v5.47h-2.40zM94.40 314.62h2.40v5.47h-2.40zM108.80 314.62h2.40v5.47h-2.40zM116.00 314.62h2.40v5.47h-2.40zM130.40 314.62h2.40v5.47h-2.40zM132.80 314.62h2.40v5.47h-2.40zM168.80 314.62h2.40v5.47h-2.40zM190.40 314.62h2.40v5.47h-2.40zM204.80 314.62h2.40v5.47h-2.40zM214.40 314.62h2.40v5.47h-2.40zM216.80 314.62h2.40v5.47h-2.40zM226.40 314.62h2.40v5.47h-2.40zM240.80 314.62h2.40v5.47h-2.40zM245.60 314.62h2.40v5.47h-2.40zM264.80 314.62h2.40v5.47h-2.40zM274.40 314.62h2.40v5.47h-2.40zM286.40 314.62h2.40v5.47h-2.40zM288.80 314.62h2.40v5.47h-2.40zM312.80 314.62h2.40v5.47h-2.40zM317.60 314.62h2.40v5.47h-2.40zM322.40 314.62h2.40v5.47h-2.40zM77.60 320.09h2.40v5.47h-2.40zM80.00 320.09h2.40v5.47h-2.40zM104.00 320.09h2.40v5.47h-2.40zM113.60 320.09h2.40v5.47h-2.40zM116.00 320.09h2.40v5.47h-2.40zM125.60 320.09h2.40v5.47h-2.40zM130.40 320.09h2.40v5.47h-2.40zM142.40 320.09h2.40v5.47h-2.40zM178.40 320.09h2.40v5.47h-2.40zM185.60 320.09h2.40v5.47h-2.40zM202.40 320.09h2.40v5.47h-2.40zM214.40 320.09h2.40v5.47h-2.40zM221.60 320.09h2.40v5.47h-2.40zM250.40 320.09h2.40v5.47h-2.40zM272.00 320.09h2.40v5.47h-2.40zM274.40 320.09h2.40v5.47h-2.40zM281.60 320.09h2.40v5.47h-2.40zM296.00 320.09h2.40v5.47h-2.40zM310.40 320.09h2.40v5.47h-2.40zM77.60 325.56h2.40v5.47h-2.40zM120.80 325.56h2.40v5.47h-2.40zM202.40 325.56h2.40v5.47h-2.40zM204.80 325.56h2.40v5.47h-2.40zM257.60 325.56h2.40v5.47h-2.40zM70.40 331.03h2.40v5.47h-2.40zM82.40 331.03h2.40v5.47h-2.40zM106.40 331.03h2.40v5.47h-2.40zM123.20 331.03h2.40v5.47h-2.40zM171.20 331.03h2.40v5.47h-2.40zM212.00 331.03h2.40v5.47h-2.40zM214.40 331.03h2.40v5.47h-2.40zM240.80 331.03h2.40v5.47h-2.40zM255.20 331.03h2.40v5.47h-2.40zM274.40 331.03h2.40v5.47h-2.40zM281.60 331.03h2.40v5.47h-2.40zM300.80 331.03h2.40v5.47h-2.40zM315.20 331.03h2.40v5.47h-2.40zM65.60 336.50h2.40v5.47h-2.40zM68.00 336.50h2.40v5.47h-2.40zM77.60 336.50h2.40v5.47h-2.40zM89.60 336.50h2.40v5.47h-2.40zM99.20 336.50h2.40v5.47h-2.40zM101.60 336.50h2.40v5.47h-2.40zM104.00 336.50h2.40v5.47h-2.40zM130.40 336.50h2.40v5.47h-2.40zM132.80 336.50h2.40v5.47h-2.40zM140.00 336.50h2.40v5.47h-2.40zM142.40 336.50h2.40v5.47h-2.40zM154.40 336.50h2.40v5.47h-2.40zM156.80 336.50h2.40v5.47h-2.40zM178.40 336.50h2.40v5.47h-2.40zM180.80 336.50h2.40v5.47h-2.40zM183.20 336.50h2.40v5.47h-2.40zM185.60 336.50h2.40v5.47h-2.40zM219.20 336.50h2.40v5.47h-2.40zM233.60 336.50h2.40v5.47h-2.40zM238.40 336.50h2.40v5.47h-2.40zM240.80 336.50h2.40v5.47h-2.40zM264.80 336.50h2.40v5.47h-2.40zM274.40 336.50h2.40v5.47h-2.40zM288.80 336.50h2.40v5.47h-2.40zM308.00 336.50h2.40v5.47h-2.40zM310.40 336.50h2.40v5.47h-2.40zM312.80 336.50h2.40v5.47h-2.40zM322.40 336.50h2.40v5.47h-2.40zM329.60 336.50h2.40v5.47h-2.40zM332.00 336.50h2.40v5.47h-2.40zM334.40 336.50h2.40v5.47h-2.40zM336.80 336.50h2.40v5.47h-2.40zM135.20 341.97h2.40v5.47h-2.40zM204.80 341.97h2.40v5.47h-2.40zM209.60 341.97h2.40v5.47h-2.40zM212.00 341.97h2.40v5.47h-2.40zM214.40 341.97h2.40v5.47h-2.40zM269.60 341.97h2.40v5.47h-2.40zM320.00 341.97h2.40v5.47h-2.40zM322.40 341.97h2.40v5.47h-2.40zM336.80 341.97h2.40v5.47h-2.40zM72.80 347.44h2.40v5.47h-2.40zM75.20 347.44h2.40v5.47h-2.40zM135.20 347.44h2.40v5.47h-2.40zM154.40 347.44h2.40v5.47h-2.40zM212.00 347.44h2.40v5.47h-2.40zM214.40 347.44h2.40v5.47h-2.40zM221.60 347.44h2.40v5.47h-2.40zM224.00 347.44h2.40v5.47h-2.40zM243.20 347.44h2.40v5.47h-2.40zM248.00 347.44h2.40v5.47h-2.40zM281.60 347.44h2.40v5.47h-2.40zM324.80 347.44h2.40v5.47h-2.40zM327.20 347.44h2.40v5.47h-2.40zM336.80 347.44h2.40v5.47h-2.40zM339.20 347.44h2.40v5.47h-2.40zM72.80 352.91h2.40v5.47h-2.40zM99.20 352.91h2.40v5.47h-2.40zM113.60 352.91h2.40v5.47h-2.40zM123.20 352.91h2.40v5.47h-2.40zM168.80 352.91h2.40v5.47h-2.40zM176.00 352.91h2.40v5.47h-2.40zM212.00 352.91h2.40v5.47h-2.40zM216.80 352.91h2.40v5.47h-2.40zM224.00 352.91h2.40v5.47h-2.40zM240.80 352.91h2.40v5.47h-2.40zM248.00 352.91h2.40v5.47h-2.40zM257.60 352.91h2.40v5.47h-2.40zM276.80 352.91h2.40v5.47h-2.40zM308.00 352.91h2.40v5.47h-2.40zM329.60 352.91h2.40v5.47h-2.40zM65.60 358.38h2.40v5.47h-2.40zM68.00 358.38h2.40v5.47h-2.40zM77.60 358.38h2.40v5.47h-2.40zM99.20 358.38h2.40v5.47h-2.40zM106.40 358.38h2.40v5.47h-2.40zM108.80 358.38h2.40v5.47h-2.40zM116.00 358.38h2.40v5.47h-2.40zM154.40 358.38h2.40v5.47h-2.40zM185.60 358.38h2.40v5.47h-2.40zM204.80 358.38h2.40v5.47h-2.40zM207.20 358.38h2.40v5.47h-2.40zM257.60 358.38h2.40v5.47h-2.40zM260.00 358.38h2.40v5.47h-2.40zM267.20 358.38h2.40v5.47h-2.40zM276.80 358.38h2.40v5.47h-2.40zM288.80 358.38h2.40v5.47h-2.40zM305.60 358.38h2.40v5.47h-2.40zM312.80 358.38h2.40v5.47h-2.40zM341.60 358.38h2.40v5.47h-2.40zM65.60 363.85h2.40v5.47h-2.40zM68.00 363.85h2.40v5.47h-2.40zM104.00 363.85h2.40v5.47h-2.40zM185.60 363.85h2.40v5.47h-2.40zM221.60 363.85h2.40v5.47h-2.40zM224.00 363.85h2.40v5.47h-2.40zM231.20 363.85h2.40v5.47h-2.40zM238.40 363.85h2.40v5.47h-2.40zM257.60 363.85h2.40v5.47h-2.40zM293.60 363.85h2.40v5.47h-2.40zM320.00 363.85h2.40v5.47h-2.40zM327.20 363.85h2.40v5.47h-2.40zM341.60 363.85h2.40v5.47h-2.40zM344.00 363.85h2.40v5.47h-2.40zM84.80 374.79h2.40v5.47h-2.40zM87.20 374.79h2.40v5.47h-2.40zM104.00 374.79h2.40v5.47h-2.40zM173.60 374.79h2.40v5.47h-2.40zM183.20 374.79h2.40v5.47h-2.40zM188.00 374.79h2.40v5.47h-2.40zM197.60 374.79h2.40v5.47h-2.40zM200.00 374.79h2.40v5.47h-2.40zM221.60 374.79h2.40v5.47h-2.40zM231.20 374.79h2.40v5.47h-2.40zM243.20 374.79h2.40v5.47h-2.40zM260.00 374.79h2.40v5.47h-2.40zM279.20 374.79h2.40v5.47h-2.40zM296.00 374.79h2.40v5.47h-2.40zM317.60 374.79h2.40v5.47h-2.40zM341.60 374.79h2.40v5.47h-2.40zM344.00 374.79h2.40v5.47h-2.40zM65.60 380.26h2.40v5.47h-2.40zM87.20 380.26h2.40v5.47h-2.40zM89.60 380.26h2.40v5.47h-2.40zM108.80 380.26h2.40v5.47h-2.40zM128.00 380.26h2.40v5.47h-2.40zM130.40 380.26h2.40v5.47h-2.40zM142.40 380.26h2.40v5.47h-2.40zM144.80 380.26h2.40v5.47h-2.40zM188.00 380.26h2.40v5.47h-2.40zM204.80 380.26h2.40v5.47h-2.40zM207.20 380.26h2.40v5.47h-2.40zM212.00 380.26h2.40v5.47h-2.40zM216.80 380.26h2.40v5.47h-2.40zM219.20 380.26h2.40v5.47h-2.40zM226.40 380.26h2.40v5.47h-2.40zM240.80 380.26h2.40v5.47h-2.40zM243.20 380.26h2.40v5.47h-2.40zM250.40 380.26h2.40v5.47h-2.40zM286.40 380.26h2.40v5.47h-2.40zM291.20 380.26h2.40v5.47h-2.40zM300.80 380.26h2.40v5.47h-2.40zM310.40 380.26h2.40v5.47h-2.40zM322.40 380.26h2.40v5.47h-2.40zM339.20 380.26h2.40v5.47h-2.40z"/>
</g></g>
<line x1="65.60" x2="346.40" y1="84.60" y2="84.60" stroke="#000" stroke-width="1.9"/>
<line x1="65.60" x2="346.40" y1="127.30" y2="127.30" stroke="#000" stroke-width="1.9"/>
<line x1="148.50" x2="148.50" y1="46.60" y2="155.50" stroke="#000" stroke-width="2"/>
<line x1="263.50" x2="263.50" y1="46.60" y2="155.50" stroke="#000" stroke-width="2"/>
<line x1="65.60" x2="346.40" y1="198.60" y2="198.60" stroke="#000" stroke-width="1.9"/>
<line x1="65.60" x2="346.40" y1="241.10" y2="241.10" stroke="#000" stroke-width="1.9"/>
<line x1="148.50" x2="148.50" y1="160.70" y2="269.60" stroke="#000" stroke-width="2"/>
<line x1="263.50" x2="263.50" y1="160.70" y2="269.60" stroke="#000" stroke-width="2"/>
<line x1="65.60" x2="346.40" y1="312.90" y2="312.90" stroke="#000" stroke-width="1.9"/>
<line x1="65.60" x2="346.40" y1="355.50" y2="355.50" stroke="#000" stroke-width="1.9"/>
<line x1="148.50" x2="148.50" y1="274.70" y2="383.60" stroke="#000" stroke-width="2"/>
<line x1="263.50" x2="263.50" y1="274.70" y2="383.60" stroke="#000" stroke-width="2"/>
<rect x="65.60" y="46.60" width="280.80" height="108.90" fill="none" stroke="#000" stroke-width="0.9"/>
<line x1="60.40" x2="65.60" y1="48.60" y2="48.60" stroke="#000" stroke-width="0.9"/>
<text x="57.9" y="53.90" font-size="12.3" text-anchor="end">0.15</text>
<line x1="60.40" x2="65.60" y1="67.65" y2="67.65" stroke="#000" stroke-width="0.9"/>
<text x="57.9" y="72.95" font-size="12.3" text-anchor="end">0.10</text>
<line x1="60.40" x2="65.60" y1="86.70" y2="86.70" stroke="#000" stroke-width="0.9"/>
<text x="57.9" y="92.00" font-size="12.3" text-anchor="end">0.05</text>
<line x1="60.40" x2="65.60" y1="105.75" y2="105.75" stroke="#000" stroke-width="0.9"/>
<text x="57.9" y="111.05" font-size="12.3" text-anchor="end">0.00</text>
<line x1="60.40" x2="65.60" y1="124.80" y2="124.80" stroke="#000" stroke-width="0.9"/>
<text x="57.9" y="130.10" font-size="12.3" text-anchor="end">−0.05</text>
<line x1="60.40" x2="65.60" y1="143.85" y2="143.85" stroke="#000" stroke-width="0.9"/>
<text x="57.9" y="149.15" font-size="12.3" text-anchor="end">−0.10</text>
<line x1="62.70" x2="65.60" y1="153.38" y2="153.38" stroke="#000" stroke-width="0.9"/>
<line x1="62.70" x2="65.60" y1="134.32" y2="134.32" stroke="#000" stroke-width="0.9"/>
<line x1="62.70" x2="65.60" y1="115.28" y2="115.28" stroke="#000" stroke-width="0.9"/>
<line x1="62.70" x2="65.60" y1="96.22" y2="96.22" stroke="#000" stroke-width="0.9"/>
<line x1="62.70" x2="65.60" y1="77.17" y2="77.17" stroke="#000" stroke-width="0.9"/>
<line x1="62.70" x2="65.60" y1="58.12" y2="58.12" stroke="#000" stroke-width="0.9"/>
<line x1="65.60" x2="65.60" y1="155.50" y2="160.30" stroke="#000" stroke-width="0.9"/>
<line x1="72.62" x2="72.62" y1="155.50" y2="158.40" stroke="#000" stroke-width="0.9"/>
<line x1="79.64" x2="79.64" y1="155.50" y2="158.40" stroke="#000" stroke-width="0.9"/>
<line x1="86.66" x2="86.66" y1="155.50" y2="158.40" stroke="#000" stroke-width="0.9"/>
<line x1="93.68" x2="93.68" y1="155.50" y2="158.40" stroke="#000" stroke-width="0.9"/>
<line x1="100.70" x2="100.70" y1="155.50" y2="160.30" stroke="#000" stroke-width="0.9"/>
<line x1="107.72" x2="107.72" y1="155.50" y2="158.40" stroke="#000" stroke-width="0.9"/>
<line x1="114.74" x2="114.74" y1="155.50" y2="158.40" stroke="#000" stroke-width="0.9"/>
<line x1="121.76" x2="121.76" y1="155.50" y2="158.40" stroke="#000" stroke-width="0.9"/>
<line x1="128.78" x2="128.78" y1="155.50" y2="158.40" stroke="#000" stroke-width="0.9"/>
<line x1="135.80" x2="135.80" y1="155.50" y2="160.30" stroke="#000" stroke-width="0.9"/>
<line x1="142.82" x2="142.82" y1="155.50" y2="158.40" stroke="#000" stroke-width="0.9"/>
<line x1="149.84" x2="149.84" y1="155.50" y2="158.40" stroke="#000" stroke-width="0.9"/>
<line x1="156.86" x2="156.86" y1="155.50" y2="158.40" stroke="#000" stroke-width="0.9"/>
<line x1="163.88" x2="163.88" y1="155.50" y2="158.40" stroke="#000" stroke-width="0.9"/>
<line x1="170.90" x2="170.90" y1="155.50" y2="160.30" stroke="#000" stroke-width="0.9"/>
<line x1="177.92" x2="177.92" y1="155.50" y2="158.40" stroke="#000" stroke-width="0.9"/>
<line x1="184.94" x2="184.94" y1="155.50" y2="158.40" stroke="#000" stroke-width="0.9"/>
<line x1="191.96" x2="191.96" y1="155.50" y2="158.40" stroke="#000" stroke-width="0.9"/>
<line x1="198.98" x2="198.98" y1="155.50" y2="158.40" stroke="#000" stroke-width="0.9"/>
<line x1="206.00" x2="206.00" y1="155.50" y2="160.30" stroke="#000" stroke-width="0.9"/>
<line x1="213.02" x2="213.02" y1="155.50" y2="158.40" stroke="#000" stroke-width="0.9"/>
<line x1="220.04" x2="220.04" y1="155.50" y2="158.40" stroke="#000" stroke-width="0.9"/>
<line x1="227.06" x2="227.06" y1="155.50" y2="158.40" stroke="#000" stroke-width="0.9"/>
<line x1="234.08" x2="234.08" y1="155.50" y2="158.40" stroke="#000" stroke-width="0.9"/>
<line x1="241.10" x2="241.10" y1="155.50" y2="160.30" stroke="#000" stroke-width="0.9"/>
<line x1="248.12" x2="248.12" y1="155.50" y2="158.40" stroke="#000" stroke-width="0.9"/>
<line x1="255.14" x2="255.14" y1="155.50" y2="158.40" stroke="#000" stroke-width="0.9"/>
<line x1="262.16" x2="262.16" y1="155.50" y2="158.40" stroke="#000" stroke-width="0.9"/>
<line x1="269.18" x2="269.18" y1="155.50" y2="158.40" stroke="#000" stroke-width="0.9"/>
<line x1="276.20" x2="276.20" y1="155.50" y2="160.30" stroke="#000" stroke-width="0.9"/>
<line x1="283.22" x2="283.22" y1="155.50" y2="158.40" stroke="#000" stroke-width="0.9"/>
<line x1="290.24" x2="290.24" y1="155.50" y2="158.40" stroke="#000" stroke-width="0.9"/>
<line x1="297.26" x2="297.26" y1="155.50" y2="158.40" stroke="#000" stroke-width="0.9"/>
<line x1="304.28" x2="304.28" y1="155.50" y2="158.40" stroke="#000" stroke-width="0.9"/>
<line x1="311.30" x2="311.30" y1="155.50" y2="160.30" stroke="#000" stroke-width="0.9"/>
<line x1="318.32" x2="318.32" y1="155.50" y2="158.40" stroke="#000" stroke-width="0.9"/>
<line x1="325.34" x2="325.34" y1="155.50" y2="158.40" stroke="#000" stroke-width="0.9"/>
<line x1="332.36" x2="332.36" y1="155.50" y2="158.40" stroke="#000" stroke-width="0.9"/>
<line x1="339.38" x2="339.38" y1="155.50" y2="158.40" stroke="#000" stroke-width="0.9"/>
<line x1="346.40" x2="346.40" y1="155.50" y2="160.30" stroke="#000" stroke-width="0.9"/>
<rect x="65.60" y="160.70" width="280.80" height="108.90" fill="none" stroke="#000" stroke-width="0.9"/>
<line x1="60.40" x2="65.60" y1="162.60" y2="162.60" stroke="#000" stroke-width="0.9"/>
<text x="57.9" y="167.90" font-size="12.3" text-anchor="end">0.15</text>
<line x1="60.40" x2="65.60" y1="181.65" y2="181.65" stroke="#000" stroke-width="0.9"/>
<text x="57.9" y="186.95" font-size="12.3" text-anchor="end">0.10</text>
<line x1="60.40" x2="65.60" y1="200.70" y2="200.70" stroke="#000" stroke-width="0.9"/>
<text x="57.9" y="206.00" font-size="12.3" text-anchor="end">0.05</text>
<line x1="60.40" x2="65.60" y1="219.75" y2="219.75" stroke="#000" stroke-width="0.9"/>
<text x="57.9" y="225.05" font-size="12.3" text-anchor="end">0.00</text>
<line x1="60.40" x2="65.60" y1="238.80" y2="238.80" stroke="#000" stroke-width="0.9"/>
<text x="57.9" y="244.10" font-size="12.3" text-anchor="end">−0.05</text>
<line x1="60.40" x2="65.60" y1="257.85" y2="257.85" stroke="#000" stroke-width="0.9"/>
<text x="57.9" y="263.15" font-size="12.3" text-anchor="end">−0.10</text>
<line x1="62.70" x2="65.60" y1="267.38" y2="267.38" stroke="#000" stroke-width="0.9"/>
<line x1="62.70" x2="65.60" y1="248.32" y2="248.32" stroke="#000" stroke-width="0.9"/>
<line x1="62.70" x2="65.60" y1="229.27" y2="229.27" stroke="#000" stroke-width="0.9"/>
<line x1="62.70" x2="65.60" y1="210.22" y2="210.22" stroke="#000" stroke-width="0.9"/>
<line x1="62.70" x2="65.60" y1="191.17" y2="191.17" stroke="#000" stroke-width="0.9"/>
<line x1="62.70" x2="65.60" y1="172.12" y2="172.12" stroke="#000" stroke-width="0.9"/>
<line x1="65.60" x2="65.60" y1="269.60" y2="274.40" stroke="#000" stroke-width="0.9"/>
<line x1="72.62" x2="72.62" y1="269.60" y2="272.50" stroke="#000" stroke-width="0.9"/>
<line x1="79.64" x2="79.64" y1="269.60" y2="272.50" stroke="#000" stroke-width="0.9"/>
<line x1="86.66" x2="86.66" y1="269.60" y2="272.50" stroke="#000" stroke-width="0.9"/>
<line x1="93.68" x2="93.68" y1="269.60" y2="272.50" stroke="#000" stroke-width="0.9"/>
<line x1="100.70" x2="100.70" y1="269.60" y2="274.40" stroke="#000" stroke-width="0.9"/>
<line x1="107.72" x2="107.72" y1="269.60" y2="272.50" stroke="#000" stroke-width="0.9"/>
<line x1="114.74" x2="114.74" y1="269.60" y2="272.50" stroke="#000" stroke-width="0.9"/>
<line x1="121.76" x2="121.76" y1="269.60" y2="272.50" stroke="#000" stroke-width="0.9"/>
<line x1="128.78" x2="128.78" y1="269.60" y2="272.50" stroke="#000" stroke-width="0.9"/>
<line x1="135.80" x2="135.80" y1="269.60" y2="274.40" stroke="#000" stroke-width="0.9"/>
<line x1="142.82" x2="142.82" y1="269.60" y2="272.50" stroke="#000" stroke-width="0.9"/>
<line x1="149.84" x2="149.84" y1="269.60" y2="272.50" stroke="#000" stroke-width="0.9"/>
<line x1="156.86" x2="156.86" y1="269.60" y2="272.50" stroke="#000" stroke-width="0.9"/>
<line x1="163.88" x2="163.88" y1="269.60" y2="272.50" stroke="#000" stroke-width="0.9"/>
<line x1="170.90" x2="170.90" y1="269.60" y2="274.40" stroke="#000" stroke-width="0.9"/>
<line x1="177.92" x2="177.92" y1="269.60" y2="272.50" stroke="#000" stroke-width="0.9"/>
<line x1="184.94" x2="184.94" y1="269.60" y2="272.50" stroke="#000" stroke-width="0.9"/>
<line x1="191.96" x2="191.96" y1="269.60" y2="272.50" stroke="#000" stroke-width="0.9"/>
<line x1="198.98" x2="198.98" y1="269.60" y2="272.50" stroke="#000" stroke-width="0.9"/>
<line x1="206.00" x2="206.00" y1="269.60" y2="274.40" stroke="#000" stroke-width="0.9"/>
<line x1="213.02" x2="213.02" y1="269.60" y2="272.50" stroke="#000" stroke-width="0.9"/>
<line x1="220.04" x2="220.04" y1="269.60" y2="272.50" stroke="#000" stroke-width="0.9"/>
<line x1="227.06" x2="227.06" y1="269.60" y2="272.50" stroke="#000" stroke-width="0.9"/>
<line x1="234.08" x2="234.08" y1="269.60" y2="272.50" stroke="#000" stroke-width="0.9"/>
<line x1="241.10" x2="241.10" y1="269.60" y2="274.40" stroke="#000" stroke-width="0.9"/>
<line x1="248.12" x2="248.12" y1="269.60" y2="272.50" stroke="#000" stroke-width="0.9"/>
<line x1="255.14" x2="255.14" y1="269.60" y2="272.50" stroke="#000" stroke-width="0.9"/>
<line x1="262.16" x2="262.16" y1="269.60" y2="272.50" stroke="#000" stroke-width="0.9"/>
<line x1="269.18" x2="269.18" y1="269.60" y2="272.50" stroke="#000" stroke-width="0.9"/>
<line x1="276.20" x2="276.20" y1="269.60" y2="274.40" stroke="#000" stroke-width="0.9"/>
<line x1="283.22" x2="283.22" y1="269.60" y2="272.50" stroke="#000" stroke-width="0.9"/>
<line x1="290.24" x2="290.24" y1="269.60" y2="272.50" stroke="#000" stroke-width="0.9"/>
<line x1="297.26" x2="297.26" y1="269.60" y2="272.50" stroke="#000" stroke-width="0.9"/>
<line x1="304.28" x2="304.28" y1="269.60" y2="272.50" stroke="#000" stroke-width="0.9"/>
<line x1="311.30" x2="311.30" y1="269.60" y2="274.40" stroke="#000" stroke-width="0.9"/>
<line x1="318.32" x2="318.32" y1="269.60" y2="272.50" stroke="#000" stroke-width="0.9"/>
<line x1="325.34" x2="325.34" y1="269.60" y2="272.50" stroke="#000" stroke-width="0.9"/>
<line x1="332.36" x2="332.36" y1="269.60" y2="272.50" stroke="#000" stroke-width="0.9"/>
<line x1="339.38" x2="339.38" y1="269.60" y2="272.50" stroke="#000" stroke-width="0.9"/>
<line x1="346.40" x2="346.40" y1="269.60" y2="274.40" stroke="#000" stroke-width="0.9"/>
<rect x="65.60" y="274.70" width="280.80" height="108.90" fill="none" stroke="#000" stroke-width="0.9"/>
<line x1="60.40" x2="65.60" y1="276.60" y2="276.60" stroke="#000" stroke-width="0.9"/>
<text x="57.9" y="281.90" font-size="12.3" text-anchor="end">0.15</text>
<line x1="60.40" x2="65.60" y1="295.65" y2="295.65" stroke="#000" stroke-width="0.9"/>
<text x="57.9" y="300.95" font-size="12.3" text-anchor="end">0.10</text>
<line x1="60.40" x2="65.60" y1="314.70" y2="314.70" stroke="#000" stroke-width="0.9"/>
<text x="57.9" y="320.00" font-size="12.3" text-anchor="end">0.05</text>
<line x1="60.40" x2="65.60" y1="333.75" y2="333.75" stroke="#000" stroke-width="0.9"/>
<text x="57.9" y="339.05" font-size="12.3" text-anchor="end">0.00</text>
<line x1="60.40" x2="65.60" y1="352.80" y2="352.80" stroke="#000" stroke-width="0.9"/>
<text x="57.9" y="358.10" font-size="12.3" text-anchor="end">−0.05</text>
<line x1="60.40" x2="65.60" y1="371.85" y2="371.85" stroke="#000" stroke-width="0.9"/>
<text x="57.9" y="377.15" font-size="12.3" text-anchor="end">−0.10</text>
<line x1="62.70" x2="65.60" y1="381.38" y2="381.38" stroke="#000" stroke-width="0.9"/>
<line x1="62.70" x2="65.60" y1="362.33" y2="362.33" stroke="#000" stroke-width="0.9"/>
<line x1="62.70" x2="65.60" y1="343.28" y2="343.28" stroke="#000" stroke-width="0.9"/>
<line x1="62.70" x2="65.60" y1="324.23" y2="324.23" stroke="#000" stroke-width="0.9"/>
<line x1="62.70" x2="65.60" y1="305.18" y2="305.18" stroke="#000" stroke-width="0.9"/>
<line x1="62.70" x2="65.60" y1="286.12" y2="286.12" stroke="#000" stroke-width="0.9"/>
<line x1="65.60" x2="65.60" y1="383.60" y2="388.40" stroke="#000" stroke-width="0.9"/>
<line x1="72.62" x2="72.62" y1="383.60" y2="386.50" stroke="#000" stroke-width="0.9"/>
<line x1="79.64" x2="79.64" y1="383.60" y2="386.50" stroke="#000" stroke-width="0.9"/>
<line x1="86.66" x2="86.66" y1="383.60" y2="386.50" stroke="#000" stroke-width="0.9"/>
<line x1="93.68" x2="93.68" y1="383.60" y2="386.50" stroke="#000" stroke-width="0.9"/>
<line x1="100.70" x2="100.70" y1="383.60" y2="388.40" stroke="#000" stroke-width="0.9"/>
<line x1="107.72" x2="107.72" y1="383.60" y2="386.50" stroke="#000" stroke-width="0.9"/>
<line x1="114.74" x2="114.74" y1="383.60" y2="386.50" stroke="#000" stroke-width="0.9"/>
<line x1="121.76" x2="121.76" y1="383.60" y2="386.50" stroke="#000" stroke-width="0.9"/>
<line x1="128.78" x2="128.78" y1="383.60" y2="386.50" stroke="#000" stroke-width="0.9"/>
<line x1="135.80" x2="135.80" y1="383.60" y2="388.40" stroke="#000" stroke-width="0.9"/>
<line x1="142.82" x2="142.82" y1="383.60" y2="386.50" stroke="#000" stroke-width="0.9"/>
<line x1="149.84" x2="149.84" y1="383.60" y2="386.50" stroke="#000" stroke-width="0.9"/>
<line x1="156.86" x2="156.86" y1="383.60" y2="386.50" stroke="#000" stroke-width="0.9"/>
<line x1="163.88" x2="163.88" y1="383.60" y2="386.50" stroke="#000" stroke-width="0.9"/>
<line x1="170.90" x2="170.90" y1="383.60" y2="388.40" stroke="#000" stroke-width="0.9"/>
<line x1="177.92" x2="177.92" y1="383.60" y2="386.50" stroke="#000" stroke-width="0.9"/>
<line x1="184.94" x2="184.94" y1="383.60" y2="386.50" stroke="#000" stroke-width="0.9"/>
<line x1="191.96" x2="191.96" y1="383.60" y2="386.50" stroke="#000" stroke-width="0.9"/>
<line x1="198.98" x2="198.98" y1="383.60" y2="386.50" stroke="#000" stroke-width="0.9"/>
<line x1="206.00" x2="206.00" y1="383.60" y2="388.40" stroke="#000" stroke-width="0.9"/>
<line x1="213.02" x2="213.02" y1="383.60" y2="386.50" stroke="#000" stroke-width="0.9"/>
<line x1="220.04" x2="220.04" y1="383.60" y2="386.50" stroke="#000" stroke-width="0.9"/>
<line x1="227.06" x2="227.06" y1="383.60" y2="386.50" stroke="#000" stroke-width="0.9"/>
<line x1="234.08" x2="234.08" y1="383.60" y2="386.50" stroke="#000" stroke-width="0.9"/>
<line x1="241.10" x2="241.10" y1="383.60" y2="388.40" stroke="#000" stroke-width="0.9"/>
<line x1="248.12" x2="248.12" y1="383.60" y2="386.50" stroke="#000" stroke-width="0.9"/>
<line x1="255.14" x2="255.14" y1="383.60" y2="386.50" stroke="#000" stroke-width="0.9"/>
<line x1="262.16" x2="262.16" y1="383.60" y2="386.50" stroke="#000" stroke-width="0.9"/>
<line x1="269.18" x2="269.18" y1="383.60" y2="386.50" stroke="#000" stroke-width="0.9"/>
<line x1="276.20" x2="276.20" y1="383.60" y2="388.40" stroke="#000" stroke-width="0.9"/>
<line x1="283.22" x2="283.22" y1="383.60" y2="386.50" stroke="#000" stroke-width="0.9"/>
<line x1="290.24" x2="290.24" y1="383.60" y2="386.50" stroke="#000" stroke-width="0.9"/>
<line x1="297.26" x2="297.26" y1="383.60" y2="386.50" stroke="#000" stroke-width="0.9"/>
<line x1="304.28" x2="304.28" y1="383.60" y2="386.50" stroke="#000" stroke-width="0.9"/>
<line x1="311.30" x2="311.30" y1="383.60" y2="388.40" stroke="#000" stroke-width="0.9"/>
<line x1="318.32" x2="318.32" y1="383.60" y2="386.50" stroke="#000" stroke-width="0.9"/>
<line x1="325.34" x2="325.34" y1="383.60" y2="386.50" stroke="#000" stroke-width="0.9"/>
<line x1="332.36" x2="332.36" y1="383.60" y2="386.50" stroke="#000" stroke-width="0.9"/>
<line x1="339.38" x2="339.38" y1="383.60" y2="386.50" stroke="#000" stroke-width="0.9"/>
<line x1="346.40" x2="346.40" y1="383.60" y2="388.40" stroke="#000" stroke-width="0.9"/>
<text x="65.60" y="400.0" font-size="12.3" text-anchor="middle">−200</text>
<text x="100.70" y="400.0" font-size="12.3" text-anchor="middle">−150</text>
<text x="135.80" y="400.0" font-size="12.3" text-anchor="middle">−100</text>
<text x="170.90" y="400.0" font-size="12.3" text-anchor="middle">−50</text>
<text x="206.00" y="400.0" font-size="12.3" text-anchor="middle">0</text>
<text x="241.10" y="400.0" font-size="12.3" text-anchor="middle">50</text>
<text x="276.20" y="400.0" font-size="12.3" text-anchor="middle">100</text>
<text x="311.30" y="400.0" font-size="12.3" text-anchor="middle">150</text>
<text x="346.40" y="400.0" font-size="12.3" text-anchor="middle">200</text>
<text y="421.4" font-size="16.7"><tspan x="137.3">Velocity</tspan><tspan x="206.2">(km</tspan><tspan x="241.4">s</tspan><tspan x="250.0" dy="-6.6" font-size="11.4">−</tspan><tspan dy="1.0" font-size="11.4">1</tspan><tspan x="267.8" dy="5.6">)</tspan></text>
<text transform="translate(13.3,100.80) rotate(-90)" font-size="16.6" text-anchor="middle">Orbital Phase</text>
<text transform="translate(13.3,214.90) rotate(-90)" font-size="16.6" text-anchor="middle">Model</text>
<text transform="translate(13.3,328.40) rotate(-90)" font-size="16.6" text-anchor="middle">Residuals</text>
<text x="206.0" y="195.7" font-size="12.45" text-anchor="middle">Egress</text>
<text x="206.0" y="250.6" font-size="12.45" text-anchor="middle">Ingress</text>
<text transform="translate(144.9,220.6) rotate(-90)" font-size="12.5" text-anchor="middle">−<tspan dx="-1.3">vsin</tspan><tspan font-style="italic">i</tspan></text>
<text transform="translate(272.1,219.8) rotate(-90)" font-size="12.5" text-anchor="middle">vsin<tspan font-style="italic">i</tspan></text>
</svg></body></html>
